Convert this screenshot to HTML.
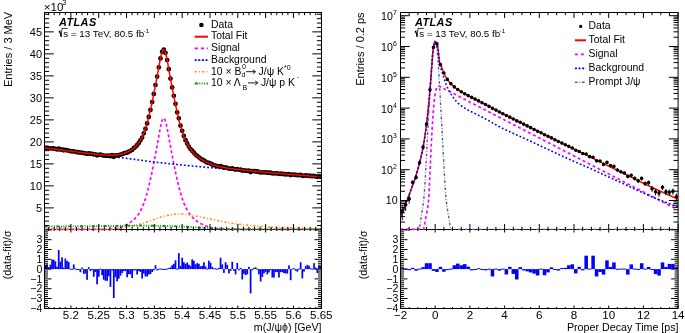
<!DOCTYPE html>
<html><head><meta charset="utf-8"><style>
html,body{margin:0;padding:0;background:#fff;}
body{width:685px;height:333px;position:relative;overflow:hidden;font-family:"Liberation Sans", sans-serif;}
</style></head><body>
<svg width="685" height="333" viewBox="0 0 685 333" style="position:absolute;left:0;top:0;will-change:transform"><defs><clipPath id="cL"><rect x="44.5" y="12.5" width="277.0" height="218.2"/></clipPath><clipPath id="cR"><rect x="400.5" y="12.5" width="277.6" height="218.2"/></clipPath><clipPath id="cLl"><rect x="44.5" y="229.5" width="277.0" height="79.0"/></clipPath><clipPath id="cRl"><rect x="400.5" y="229.5" width="277.6" height="79.0"/></clipPath></defs><g font-family='"Liberation Sans", sans-serif' fill="#000"><rect x="44.5" y="12.5" width="277" height="217" fill="none" stroke="#000" stroke-width="1"/><rect x="44.5" y="229.5" width="277" height="79" fill="none" stroke="#000" stroke-width="1"/><rect x="400.5" y="12.5" width="277.6" height="217" fill="none" stroke="#000" stroke-width="1"/><rect x="400.5" y="229.5" width="277.6" height="79" fill="none" stroke="#000" stroke-width="1"/><g clip-path="url(#cL)" fill="none"><path d="M44.5 229.4L44.73 229.4L44.96 229.4L45.19 229.4L45.42 229.4L45.66 229.4L45.89 229.4L46.12 229.4L46.35 229.4L46.58 229.4L46.81 229.4L47.04 229.4L47.27 229.4L47.5 229.4L47.73 229.4L47.97 229.4L48.2 229.4L48.43 229.4L48.66 229.4L48.89 229.4L49.12 229.4L49.35 229.4L49.58 229.4L49.81 229.4L50.04 229.4L50.28 229.4L50.51 229.4L50.74 229.4L50.97 229.4L51.2 229.4L51.43 229.4L51.66 229.4L51.89 229.4L52.12 229.4L52.35 229.4L52.59 229.4L52.82 229.4L53.05 229.4L53.28 229.4L53.51 229.4L53.74 229.4L53.97 229.4L54.2 229.4L54.43 229.4L54.67 229.4L54.9 229.4L55.13 229.4L55.36 229.4L55.59 229.4L55.82 229.4L56.05 229.4L56.28 229.4L56.51 229.4L56.74 229.4L56.98 229.4L57.21 229.4L57.44 229.4L57.67 229.4L57.9 229.4L58.13 229.4L58.36 229.4L58.59 229.4L58.82 229.4L59.05 229.4L59.29 229.4L59.52 229.4L59.75 229.4L59.98 229.4L60.21 229.4L60.44 229.4L60.67 229.4L60.9 229.4L61.13 229.4L61.36 229.4L61.6 229.4L61.83 229.4L62.06 229.4L62.29 229.4L62.52 229.4L62.75 229.4L62.98 229.4L63.21 229.4L63.44 229.4L63.68 229.4L63.91 229.4L64.14 229.4L64.37 229.4L64.6 229.4L64.83 229.4L65.06 229.4L65.29 229.4L65.52 229.4L65.75 229.4L65.99 229.4L66.22 229.4L66.45 229.4L66.68 229.4L66.91 229.4L67.14 229.4L67.37 229.4L67.6 229.4L67.83 229.4L68.06 229.4L68.3 229.4L68.53 229.4L68.76 229.4L68.99 229.4L69.22 229.4L69.45 229.4L69.68 229.4L69.91 229.4L70.14 229.4L70.37 229.4L70.61 229.4L70.84 229.4L71.07 229.4L71.3 229.4L71.53 229.4L71.76 229.4L71.99 229.4L72.22 229.4L72.45 229.4L72.69 229.4L72.92 229.4L73.15 229.4L73.38 229.4L73.61 229.4L73.84 229.4L74.07 229.4L74.3 229.4L74.53 229.4L74.76 229.4L75 229.4L75.23 229.4L75.46 229.4L75.69 229.4L75.92 229.4L76.15 229.4L76.38 229.4L76.61 229.4L76.84 229.4L77.07 229.4L77.31 229.4L77.54 229.4L77.77 229.4L78 229.4L78.23 229.4L78.46 229.4L78.69 229.4L78.92 229.4L79.15 229.4L79.38 229.4L79.62 229.4L79.85 229.4L80.08 229.4L80.31 229.4L80.54 229.4L80.77 229.4L81 229.4L81.23 229.4L81.46 229.4L81.7 229.4L81.93 229.4L82.16 229.4L82.39 229.4L82.62 229.4L82.85 229.4L83.08 229.4L83.31 229.4L83.54 229.4L83.77 229.4L84.01 229.4L84.24 229.4L84.47 229.4L84.7 229.4L84.93 229.4L85.16 229.4L85.39 229.4L85.62 229.4L85.85 229.4L86.08 229.4L86.32 229.4L86.55 229.4L86.78 229.4L87.01 229.4L87.24 229.4L87.47 229.4L87.7 229.4L87.93 229.4L88.16 229.4L88.39 229.4L88.63 229.4L88.86 229.4L89.09 229.4L89.32 229.4L89.55 229.4L89.78 229.4L90.01 229.4L90.24 229.4L90.47 229.4L90.71 229.4L90.94 229.4L91.17 229.4L91.4 229.4L91.63 229.4L91.86 229.4L92.09 229.4L92.32 229.4L92.55 229.4L92.78 229.4L93.02 229.4L93.25 229.4L93.48 229.4L93.71 229.4L93.94 229.4L94.17 229.4L94.4 229.4L94.63 229.4L94.86 229.4L95.09 229.4L95.33 229.4L95.56 229.4L95.79 229.4L96.02 229.4L96.25 229.4L96.48 229.4L96.71 229.4L96.94 229.4L97.17 229.4L97.4 229.4L97.64 229.4L97.87 229.4L98.1 229.4L98.33 229.4L98.56 229.4L98.79 229.4L99.02 229.4L99.25 229.4L99.48 229.4L99.72 229.4L99.95 229.4L100.18 229.4L100.41 229.4L100.64 229.4L100.87 229.4L101.1 229.4L101.33 229.4L101.56 229.4L101.79 229.4L102.03 229.4L102.26 229.4L102.49 229.4L102.72 229.4L102.95 229.4L103.18 229.4L103.41 229.4L103.64 229.4L103.87 229.4L104.1 229.4L104.34 229.4L104.57 229.4L104.8 229.4L105.03 229.4L105.26 229.4L105.49 229.4L105.72 229.4L105.95 229.4L106.18 229.4L106.41 229.4L106.65 229.4L106.88 229.4L107.11 229.39L107.34 229.37L107.57 229.36L107.8 229.34L108.03 229.32L108.26 229.3L108.49 229.28L108.73 229.26L108.96 229.24L109.19 229.22L109.42 229.2L109.65 229.17L109.88 229.15L110.11 229.13L110.34 229.1L110.57 229.08L110.8 229.05L111.04 229.02L111.27 228.99L111.5 228.97L111.73 228.94L111.96 228.91L112.19 228.88L112.42 228.84L112.65 228.81L112.88 228.78L113.11 228.75L113.35 228.71L113.58 228.67L113.81 228.64L114.04 228.6L114.27 228.56L114.5 228.52L114.73 228.48L114.96 228.44L115.19 228.4L115.42 228.35L115.66 228.31L115.89 228.26L116.12 228.22L116.35 228.17L116.58 228.12L116.81 228.07L117.04 228.02L117.27 227.97L117.5 227.91L117.74 227.86L117.97 227.8L118.2 227.75L118.43 227.69L118.66 227.63L118.89 227.57L119.12 227.5L119.35 227.44L119.58 227.38L119.81 227.31L120.05 227.24L120.28 227.17L120.51 227.1L120.74 227.03L120.97 226.96L121.2 226.88L121.43 226.8L121.66 226.72L121.89 226.64L122.12 226.56L122.36 226.48L122.59 226.4L122.82 226.31L123.05 226.22L123.28 226.13L123.51 226.04L123.74 225.95L123.97 225.85L124.2 225.75L124.43 225.65L124.67 225.55L124.9 225.45L125.13 225.35L125.36 225.24L125.59 225.13L125.82 225.02L126.05 224.91L126.28 224.8L126.51 224.68L126.75 224.56L126.98 224.44L127.21 224.32L127.44 224.19L127.67 224.06L127.9 223.93L128.13 223.8L128.36 223.67L128.59 223.53L128.82 223.39L129.06 223.25L129.29 223.1L129.52 222.95L129.75 222.8L129.98 222.65L130.21 222.5L130.44 222.34L130.67 222.17L130.9 222.01L131.13 221.84L131.37 221.67L131.6 221.49L131.83 221.32L132.06 221.13L132.29 220.95L132.52 220.76L132.75 220.57L132.98 220.37L133.21 220.17L133.44 219.96L133.68 219.75L133.91 219.54L134.14 219.32L134.37 219.1L134.6 218.87L134.83 218.63L135.06 218.4L135.29 218.15L135.52 217.9L135.76 217.65L135.99 217.38L136.22 217.12L136.45 216.84L136.68 216.56L136.91 216.28L137.14 215.98L137.37 215.68L137.6 215.37L137.83 215.05L138.07 214.73L138.3 214.4L138.53 214.05L138.76 213.7L138.99 213.34L139.22 212.98L139.45 212.6L139.68 212.21L139.91 211.81L140.14 211.41L140.38 210.99L140.61 210.56L140.84 210.12L141.07 209.66L141.3 209.2L141.53 208.72L141.76 208.24L141.99 207.73L142.22 207.22L142.45 206.69L142.69 206.15L142.92 205.6L143.15 205.03L143.38 204.45L143.61 203.85L143.84 203.24L144.07 202.62L144.3 201.97L144.53 201.32L144.77 200.65L145 199.96L145.23 199.26L145.46 198.54L145.69 197.81L145.92 197.06L146.15 196.29L146.38 195.51L146.61 194.71L146.84 193.9L147.08 193.07L147.31 192.22L147.54 191.36L147.77 190.48L148 189.59L148.23 188.68L148.46 187.76L148.69 186.82L148.92 185.87L149.15 184.91L149.39 183.93L149.62 182.94L149.85 181.93L150.08 180.91L150.31 179.88L150.54 178.84L150.77 177.79L151 176.72L151.23 175.65L151.46 174.56L151.7 173.47L151.93 172.37L152.16 171.26L152.39 170.14L152.62 169.02L152.85 167.88L153.08 166.74L153.31 165.6L153.54 164.44L153.78 163.28L154.01 162.12L154.24 160.95L154.47 159.77L154.7 158.58L154.93 157.39L155.16 156.19L155.39 154.99L155.62 153.77L155.85 152.55L156.09 151.32L156.32 150.08L156.55 148.83L156.78 147.58L157.01 146.31L157.24 145.03L157.47 143.75L157.7 142.46L157.93 141.16L158.16 139.86L158.4 138.55L158.63 137.25L158.86 135.95L159.09 134.65L159.32 133.36L159.55 132.09L159.78 130.83L160.01 129.6L160.24 128.4L160.47 127.23L160.71 126.11L160.94 125.03L161.17 124.01L161.4 123.05L161.63 122.16L161.86 121.35L162.09 120.61L162.32 119.96L162.55 119.4L162.79 118.94L163.02 118.58L163.25 118.32L163.48 118.16L163.71 118.11L163.94 118.17L164.17 118.34L164.4 118.6L164.63 118.97L164.86 119.44L165.1 120L165.33 120.66L165.56 121.4L165.79 122.22L166.02 123.11L166.25 124.07L166.48 125.09L166.71 126.16L166.94 127.29L167.17 128.45L167.41 129.65L167.64 130.87L167.87 132.12L168.1 133.39L168.33 134.67L168.56 135.96L168.79 137.25L169.02 138.55L169.25 139.85L169.48 141.14L169.72 142.43L169.95 143.71L170.18 144.98L170.41 146.24L170.64 147.5L170.87 148.74L171.1 149.98L171.33 151.21L171.56 152.42L171.8 153.63L172.03 154.83L172.26 156.03L172.49 157.21L172.72 158.39L172.95 159.56L173.18 160.72L173.41 161.88L173.64 163.03L173.87 164.18L174.11 165.31L174.34 166.45L174.57 167.57L174.8 168.69L175.03 169.8L175.26 170.9L175.49 172L175.72 173.08L175.95 174.16L176.18 175.23L176.42 176.28L176.65 177.33L176.88 178.37L177.11 179.39L177.34 180.41L177.57 181.41L177.8 182.4L178.03 183.38L178.26 184.34L178.49 185.29L178.73 186.22L178.96 187.14L179.19 188.05L179.42 188.94L179.65 189.82L179.88 190.68L180.11 191.52L180.34 192.35L180.57 193.17L180.81 193.96L181.04 194.75L181.27 195.51L181.5 196.26L181.73 197L181.96 197.72L182.19 198.42L182.42 199.11L182.65 199.78L182.88 200.44L183.12 201.08L183.35 201.71L183.58 202.32L183.81 202.92L184.04 203.51L184.27 204.08L184.5 204.63L184.73 205.18L184.96 205.7L185.19 206.22L185.43 206.72L185.66 207.21L185.89 207.69L186.12 208.16L186.35 208.61L186.58 209.06L186.81 209.49L187.04 209.91L187.27 210.32L187.51 210.72L187.74 211.11L187.97 211.49L188.2 211.86L188.43 212.22L188.66 212.58L188.89 212.92L189.12 213.26L189.35 213.58L189.58 213.9L189.82 214.22L190.05 214.52L190.28 214.82L190.51 215.11L190.74 215.39L190.97 215.67L191.2 215.94L191.43 216.21L191.66 216.47L191.89 216.72L192.13 216.97L192.36 217.22L192.59 217.45L192.82 217.69L193.05 217.92L193.28 218.14L193.51 218.36L193.74 218.57L193.97 218.79L194.2 218.99L194.44 219.2L194.67 219.4L194.9 219.59L195.13 219.78L195.36 219.97L195.59 220.16L195.82 220.34L196.05 220.52L196.28 220.69L196.52 220.87L196.75 221.04L196.98 221.2L197.21 221.37L197.44 221.53L197.67 221.69L197.9 221.84L198.13 222L198.36 222.15L198.59 222.3L198.83 222.45L199.06 222.59L199.29 222.73L199.52 222.87L199.75 223.01L199.98 223.14L200.21 223.28L200.44 223.41L200.67 223.54L200.9 223.66L201.14 223.79L201.37 223.91L201.6 224.03L201.83 224.15L202.06 224.27L202.29 224.39L202.52 224.5L202.75 224.61L202.98 224.72L203.21 224.83L203.45 224.94L203.68 225.04L203.91 225.14L204.14 225.24L204.37 225.34L204.6 225.44L204.83 225.54L205.06 225.63L205.29 225.73L205.53 225.82L205.76 225.91L205.99 226L206.22 226.08L206.45 226.17L206.68 226.25L206.91 226.34L207.14 226.42L207.37 226.5L207.6 226.57L207.84 226.65L208.07 226.73L208.3 226.8L208.53 226.87L208.76 226.94L208.99 227.01L209.22 227.08L209.45 227.15L209.68 227.22L209.91 227.28L210.15 227.34L210.38 227.41L210.61 227.47L210.84 227.53L211.07 227.59L211.3 227.64L211.53 227.7L211.76 227.75L211.99 227.81L212.22 227.86L212.46 227.91L212.69 227.96L212.92 228.01L213.15 228.06L213.38 228.11L213.61 228.16L213.84 228.2L214.07 228.25L214.3 228.29L214.54 228.33L214.77 228.37L215 228.42L215.23 228.46L215.46 228.49L215.69 228.53L215.92 228.57L216.15 228.61L216.38 228.64L216.61 228.68L216.85 228.71L217.08 228.74L217.31 228.77L217.54 228.81L217.77 228.84L218 228.87L218.23 228.9L218.46 228.93L218.69 228.95L218.92 228.98L219.16 229.01L219.39 229.03L219.62 229.06L219.85 229.08L220.08 229.11L220.31 229.13L220.54 229.15L220.77 229.17L221 229.2L221.23 229.22L221.47 229.24L221.7 229.26L221.93 229.28L222.16 229.3L222.39 229.31L222.62 229.33L222.85 229.35L223.08 229.37L223.31 229.38L223.55 229.4L223.78 229.4L224.01 229.4L224.24 229.4L224.47 229.4L224.7 229.4L224.93 229.4L225.16 229.4L225.39 229.4L225.62 229.4L225.86 229.4L226.09 229.4L226.32 229.4L226.55 229.4L226.78 229.4L227.01 229.4L227.24 229.4L227.47 229.4L227.7 229.4L227.93 229.4L228.17 229.4L228.4 229.4L228.63 229.4L228.86 229.4L229.09 229.4L229.32 229.4L229.55 229.4L229.78 229.4L230.01 229.4L230.24 229.4L230.48 229.4L230.71 229.4L230.94 229.4L231.17 229.4L231.4 229.4L231.63 229.4L231.86 229.4L232.09 229.4L232.32 229.4L232.56 229.4L232.79 229.4L233.02 229.4L233.25 229.4L233.48 229.4L233.71 229.4L233.94 229.4L234.17 229.4L234.4 229.4L234.63 229.4L234.87 229.4L235.1 229.4L235.33 229.4L235.56 229.4L235.79 229.4L236.02 229.4L236.25 229.4L236.48 229.4L236.71 229.4L236.94 229.4L237.18 229.4L237.41 229.4L237.64 229.4L237.87 229.4L238.1 229.4L238.33 229.4L238.56 229.4L238.79 229.4L239.02 229.4L239.25 229.4L239.49 229.4L239.72 229.4L239.95 229.4L240.18 229.4L240.41 229.4L240.64 229.4L240.87 229.4L241.1 229.4L241.33 229.4L241.57 229.4L241.8 229.4L242.03 229.4L242.26 229.4L242.49 229.4L242.72 229.4L242.95 229.4L243.18 229.4L243.41 229.4L243.64 229.4L243.88 229.4L244.11 229.4L244.34 229.4L244.57 229.4L244.8 229.4L245.03 229.4L245.26 229.4L245.49 229.4L245.72 229.4L245.95 229.4L246.19 229.4L246.42 229.4L246.65 229.4L246.88 229.4L247.11 229.4L247.34 229.4L247.57 229.4L247.8 229.4L248.03 229.4L248.26 229.4L248.5 229.4L248.73 229.4L248.96 229.4L249.19 229.4L249.42 229.4L249.65 229.4L249.88 229.4L250.11 229.4L250.34 229.4L250.58 229.4L250.81 229.4L251.04 229.4L251.27 229.4L251.5 229.4L251.73 229.4L251.96 229.4L252.19 229.4L252.42 229.4L252.65 229.4L252.89 229.4L253.12 229.4L253.35 229.4L253.58 229.4L253.81 229.4L254.04 229.4L254.27 229.4L254.5 229.4L254.73 229.4L254.96 229.4L255.2 229.4L255.43 229.4L255.66 229.4L255.89 229.4L256.12 229.4L256.35 229.4L256.58 229.4L256.81 229.4L257.04 229.4L257.27 229.4L257.51 229.4L257.74 229.4L257.97 229.4L258.2 229.4L258.43 229.4L258.66 229.4L258.89 229.4L259.12 229.4L259.35 229.4L259.59 229.4L259.82 229.4L260.05 229.4L260.28 229.4L260.51 229.4L260.74 229.4L260.97 229.4L261.2 229.4L261.43 229.4L261.66 229.4L261.9 229.4L262.13 229.4L262.36 229.4L262.59 229.4L262.82 229.4L263.05 229.4L263.28 229.4L263.51 229.4L263.74 229.4L263.97 229.4L264.21 229.4L264.44 229.4L264.67 229.4L264.9 229.4L265.13 229.4L265.36 229.4L265.59 229.4L265.82 229.4L266.05 229.4L266.28 229.4L266.52 229.4L266.75 229.4L266.98 229.4L267.21 229.4L267.44 229.4L267.67 229.4L267.9 229.4L268.13 229.4L268.36 229.4L268.6 229.4L268.83 229.4L269.06 229.4L269.29 229.4L269.52 229.4L269.75 229.4L269.98 229.4L270.21 229.4L270.44 229.4L270.67 229.4L270.91 229.4L271.14 229.4L271.37 229.4L271.6 229.4L271.83 229.4L272.06 229.4L272.29 229.4L272.52 229.4L272.75 229.4L272.98 229.4L273.22 229.4L273.45 229.4L273.68 229.4L273.91 229.4L274.14 229.4L274.37 229.4L274.6 229.4L274.83 229.4L275.06 229.4L275.29 229.4L275.53 229.4L275.76 229.4L275.99 229.4L276.22 229.4L276.45 229.4L276.68 229.4L276.91 229.4L277.14 229.4L277.37 229.4L277.61 229.4L277.84 229.4L278.07 229.4L278.3 229.4L278.53 229.4L278.76 229.4L278.99 229.4L279.22 229.4L279.45 229.4L279.68 229.4L279.92 229.4L280.15 229.4L280.38 229.4L280.61 229.4L280.84 229.4L281.07 229.4L281.3 229.4L281.53 229.4L281.76 229.4L281.99 229.4L282.23 229.4L282.46 229.4L282.69 229.4L282.92 229.4L283.15 229.4L283.38 229.4L283.61 229.4L283.84 229.4L284.07 229.4L284.3 229.4L284.54 229.4L284.77 229.4L285 229.4L285.23 229.4L285.46 229.4L285.69 229.4L285.92 229.4L286.15 229.4L286.38 229.4L286.62 229.4L286.85 229.4L287.08 229.4L287.31 229.4L287.54 229.4L287.77 229.4L288 229.4L288.23 229.4L288.46 229.4L288.69 229.4L288.93 229.4L289.16 229.4L289.39 229.4L289.62 229.4L289.85 229.4L290.08 229.4L290.31 229.4L290.54 229.4L290.77 229.4L291 229.4L291.24 229.4L291.47 229.4L291.7 229.4L291.93 229.4L292.16 229.4L292.39 229.4L292.62 229.4L292.85 229.4L293.08 229.4L293.31 229.4L293.55 229.4L293.78 229.4L294.01 229.4L294.24 229.4L294.47 229.4L294.7 229.4L294.93 229.4L295.16 229.4L295.39 229.4L295.63 229.4L295.86 229.4L296.09 229.4L296.32 229.4L296.55 229.4L296.78 229.4L297.01 229.4L297.24 229.4L297.47 229.4L297.7 229.4L297.94 229.4L298.17 229.4L298.4 229.4L298.63 229.4L298.86 229.4L299.09 229.4L299.32 229.4L299.55 229.4L299.78 229.4L300.01 229.4L300.25 229.4L300.48 229.4L300.71 229.4L300.94 229.4L301.17 229.4L301.4 229.4L301.63 229.4L301.86 229.4L302.09 229.4L302.32 229.4L302.56 229.4L302.79 229.4L303.02 229.4L303.25 229.4L303.48 229.4L303.71 229.4L303.94 229.4L304.17 229.4L304.4 229.4L304.64 229.4L304.87 229.4L305.1 229.4L305.33 229.4L305.56 229.4L305.79 229.4L306.02 229.4L306.25 229.4L306.48 229.4L306.71 229.4L306.95 229.4L307.18 229.4L307.41 229.4L307.64 229.4L307.87 229.4L308.1 229.4L308.33 229.4L308.56 229.4L308.79 229.4L309.02 229.4L309.26 229.4L309.49 229.4L309.72 229.4L309.95 229.4L310.18 229.4L310.41 229.4L310.64 229.4L310.87 229.4L311.1 229.4L311.33 229.4L311.57 229.4L311.8 229.4L312.03 229.4L312.26 229.4L312.49 229.4L312.72 229.4L312.95 229.4L313.18 229.4L313.41 229.4L313.65 229.4L313.88 229.4L314.11 229.4L314.34 229.4L314.57 229.4L314.8 229.4L315.03 229.4L315.26 229.4L315.49 229.4L315.72 229.4L315.96 229.4L316.19 229.4L316.42 229.4L316.65 229.4L316.88 229.4L317.11 229.4L317.34 229.4L317.57 229.4L317.8 229.4L318.03 229.4L318.27 229.4L318.5 229.4L318.73 229.4L318.96 229.4L319.19 229.4L319.42 229.4L319.65 229.4L319.88 229.4L320.11 229.4L320.34 229.4L320.58 229.4L320.81 229.4L321.04 229.4L321.27 229.4L321.5 229.4" stroke="#ff00ff" stroke-width="1.7" stroke-dasharray="3 2.4"/><path d="M44.5 148.26L44.96 148.32L45.42 148.38L45.89 148.44L46.35 148.5L46.81 148.56L47.27 148.62L47.74 148.68L48.2 148.74L48.66 148.8L49.12 148.86L49.59 148.92L50.05 148.98L50.51 149.04L50.97 149.1L51.44 149.16L51.9 149.22L52.36 149.28L52.82 149.33L53.29 149.39L53.75 149.45L54.21 149.51L54.67 149.57L55.14 149.63L55.6 149.69L56.06 149.75L56.52 149.81L56.99 149.87L57.45 149.93L57.91 149.99L58.37 150.04L58.84 150.1L59.3 150.16L59.76 150.22L60.22 150.28L60.69 150.34L61.15 150.4L61.61 150.46L62.07 150.52L62.54 150.57L63 150.63L63.46 150.69L63.92 150.75L64.38 150.81L64.85 150.87L65.31 150.93L65.77 150.98L66.23 151.04L66.7 151.1L67.16 151.16L67.62 151.22L68.08 151.28L68.55 151.33L69.01 151.39L69.47 151.45L69.93 151.51L70.4 151.57L70.86 151.62L71.32 151.68L71.78 151.74L72.25 151.8L72.71 151.86L73.17 151.91L73.63 151.97L74.1 152.03L74.56 152.09L75.02 152.15L75.48 152.2L75.95 152.26L76.41 152.32L76.87 152.38L77.33 152.43L77.8 152.49L78.26 152.55L78.72 152.61L79.18 152.66L79.65 152.72L80.11 152.78L80.57 152.84L81.03 152.89L81.49 152.95L81.96 153.01L82.42 153.07L82.88 153.12L83.34 153.18L83.81 153.24L84.27 153.29L84.73 153.35L85.19 153.41L85.66 153.46L86.12 153.52L86.58 153.58L87.04 153.64L87.51 153.69L87.97 153.75L88.43 153.81L88.89 153.86L89.36 153.92L89.82 153.98L90.28 154.03L90.74 154.09L91.21 154.15L91.67 154.2L92.13 154.26L92.59 154.32L93.06 154.37L93.52 154.43L93.98 154.48L94.44 154.54L94.91 154.6L95.37 154.65L95.83 154.71L96.29 154.77L96.76 154.82L97.22 154.88L97.68 154.93L98.14 154.99L98.61 155.05L99.07 155.1L99.53 155.16L99.99 155.21L100.45 155.27L100.92 155.33L101.38 155.38L101.84 155.44L102.3 155.49L102.77 155.55L103.23 155.6L103.69 155.66L104.15 155.71L104.62 155.77L105.08 155.82L105.54 155.87L106 155.93L106.47 155.98L106.93 156.04L107.39 156.09L107.85 156.14L108.32 156.2L108.78 156.25L109.24 156.3L109.7 156.36L110.17 156.41L110.63 156.47L111.09 156.52L111.55 156.57L112.02 156.63L112.48 156.68L112.94 156.73L113.4 156.79L113.87 156.84L114.33 156.89L114.79 156.95L115.25 157L115.72 157.06L116.18 157.11L116.64 157.16L117.1 157.22L117.57 157.27L118.03 157.33L118.49 157.38L118.95 157.43L119.41 157.49L119.88 157.54L120.34 157.6L120.8 157.65L121.26 157.71L121.73 157.76L122.19 157.82L122.65 157.87L123.11 157.93L123.58 157.98L124.04 158.04L124.5 158.1L124.96 158.15L125.43 158.21L125.89 158.27L126.35 158.32L126.81 158.38L127.28 158.44L127.74 158.5L128.2 158.55L128.66 158.61L129.13 158.67L129.59 158.73L130.05 158.79L130.51 158.85L130.98 158.91L131.44 158.97L131.9 159.03L132.36 159.09L132.83 159.15L133.29 159.21L133.75 159.28L134.21 159.34L134.68 159.4L135.14 159.47L135.6 159.53L136.06 159.6L136.53 159.66L136.99 159.73L137.45 159.79L137.91 159.86L138.37 159.92L138.84 159.99L139.3 160.06L139.76 160.12L140.22 160.19L140.69 160.25L141.15 160.32L141.61 160.38L142.07 160.45L142.54 160.51L143 160.58L143.46 160.64L143.92 160.71L144.39 160.77L144.85 160.84L145.31 160.9L145.77 160.96L146.24 161.02L146.7 161.08L147.16 161.15L147.62 161.21L148.09 161.27L148.55 161.33L149.01 161.39L149.47 161.44L149.94 161.5L150.4 161.56L150.86 161.61L151.32 161.67L151.79 161.73L152.25 161.78L152.71 161.84L153.17 161.89L153.64 161.95L154.1 162L154.56 162.06L155.02 162.11L155.48 162.17L155.95 162.22L156.41 162.27L156.87 162.33L157.33 162.38L157.8 162.44L158.26 162.49L158.72 162.54L159.18 162.59L159.65 162.65L160.11 162.7L160.57 162.75L161.03 162.8L161.5 162.85L161.96 162.91L162.42 162.96L162.88 163.01L163.35 163.06L163.81 163.11L164.27 163.16L164.73 163.21L165.2 163.26L165.66 163.31L166.12 163.36L166.58 163.41L167.05 163.46L167.51 163.51L167.97 163.56L168.43 163.61L168.9 163.66L169.36 163.71L169.82 163.76L170.28 163.81L170.75 163.86L171.21 163.9L171.67 163.95L172.13 164L172.6 164.05L173.06 164.1L173.52 164.15L173.98 164.19L174.44 164.24L174.91 164.29L175.37 164.34L175.83 164.38L176.29 164.43L176.76 164.48L177.22 164.53L177.68 164.57L178.14 164.62L178.61 164.67L179.07 164.71L179.53 164.76L179.99 164.81L180.46 164.86L180.92 164.9L181.38 164.95L181.84 164.99L182.31 165.04L182.77 165.09L183.23 165.13L183.69 165.18L184.16 165.22L184.62 165.27L185.08 165.31L185.54 165.36L186.01 165.4L186.47 165.45L186.93 165.49L187.39 165.54L187.86 165.58L188.32 165.62L188.78 165.67L189.24 165.71L189.71 165.75L190.17 165.8L190.63 165.84L191.09 165.88L191.56 165.93L192.02 165.97L192.48 166.01L192.94 166.06L193.4 166.1L193.87 166.14L194.33 166.18L194.79 166.23L195.25 166.27L195.72 166.31L196.18 166.35L196.64 166.4L197.1 166.44L197.57 166.48L198.03 166.52L198.49 166.56L198.95 166.61L199.42 166.65L199.88 166.69L200.34 166.73L200.8 166.77L201.27 166.82L201.73 166.86L202.19 166.9L202.65 166.94L203.12 166.98L203.58 167.02L204.04 167.07L204.5 167.11L204.97 167.15L205.43 167.19L205.89 167.23L206.35 167.27L206.82 167.32L207.28 167.36L207.74 167.4L208.2 167.44L208.67 167.48L209.13 167.52L209.59 167.57L210.05 167.61L210.52 167.65L210.98 167.69L211.44 167.73L211.9 167.77L212.36 167.82L212.83 167.86L213.29 167.9L213.75 167.94L214.21 167.98L214.68 168.03L215.14 168.07L215.6 168.11L216.06 168.15L216.53 168.2L216.99 168.24L217.45 168.28L217.91 168.32L218.38 168.37L218.84 168.41L219.3 168.45L219.76 168.5L220.23 168.54L220.69 168.58L221.15 168.62L221.61 168.67L222.08 168.71L222.54 168.75L223 168.8L223.46 168.84L223.93 168.88L224.39 168.93L224.85 168.97L225.31 169.01L225.78 169.06L226.24 169.1L226.7 169.14L227.16 169.19L227.63 169.23L228.09 169.27L228.55 169.32L229.01 169.36L229.47 169.4L229.94 169.45L230.4 169.49L230.86 169.53L231.32 169.58L231.79 169.62L232.25 169.66L232.71 169.71L233.17 169.75L233.64 169.79L234.1 169.84L234.56 169.88L235.02 169.92L235.49 169.97L235.95 170.01L236.41 170.05L236.87 170.09L237.34 170.14L237.8 170.18L238.26 170.22L238.72 170.27L239.19 170.31L239.65 170.35L240.11 170.39L240.57 170.44L241.04 170.48L241.5 170.52L241.96 170.56L242.42 170.6L242.89 170.65L243.35 170.69L243.81 170.73L244.27 170.77L244.74 170.81L245.2 170.85L245.66 170.9L246.12 170.94L246.59 170.98L247.05 171.02L247.51 171.06L247.97 171.1L248.43 171.14L248.9 171.18L249.36 171.22L249.82 171.26L250.28 171.3L250.75 171.34L251.21 171.38L251.67 171.42L252.13 171.46L252.6 171.5L253.06 171.54L253.52 171.58L253.98 171.62L254.45 171.66L254.91 171.7L255.37 171.74L255.83 171.78L256.3 171.82L256.76 171.86L257.22 171.9L257.68 171.94L258.15 171.98L258.61 172.02L259.07 172.06L259.53 172.1L260 172.14L260.46 172.18L260.92 172.22L261.38 172.26L261.85 172.3L262.31 172.33L262.77 172.37L263.23 172.41L263.7 172.45L264.16 172.49L264.62 172.53L265.08 172.57L265.55 172.61L266.01 172.65L266.47 172.68L266.93 172.72L267.39 172.76L267.86 172.8L268.32 172.84L268.78 172.88L269.24 172.92L269.71 172.95L270.17 172.99L270.63 173.03L271.09 173.07L271.56 173.11L272.02 173.15L272.48 173.18L272.94 173.22L273.41 173.26L273.87 173.3L274.33 173.34L274.79 173.37L275.26 173.41L275.72 173.45L276.18 173.49L276.64 173.52L277.11 173.56L277.57 173.6L278.03 173.64L278.49 173.67L278.96 173.71L279.42 173.75L279.88 173.79L280.34 173.82L280.81 173.86L281.27 173.9L281.73 173.94L282.19 173.97L282.66 174.01L283.12 174.05L283.58 174.08L284.04 174.12L284.51 174.16L284.97 174.2L285.43 174.23L285.89 174.27L286.35 174.31L286.82 174.34L287.28 174.38L287.74 174.42L288.2 174.45L288.67 174.49L289.13 174.53L289.59 174.56L290.05 174.6L290.52 174.64L290.98 174.67L291.44 174.71L291.9 174.74L292.37 174.78L292.83 174.82L293.29 174.85L293.75 174.89L294.22 174.92L294.68 174.96L295.14 175L295.6 175.03L296.07 175.07L296.53 175.1L296.99 175.14L297.45 175.18L297.92 175.21L298.38 175.25L298.84 175.28L299.3 175.32L299.77 175.35L300.23 175.39L300.69 175.42L301.15 175.46L301.62 175.49L302.08 175.53L302.54 175.56L303 175.6L303.46 175.63L303.93 175.67L304.39 175.7L304.85 175.74L305.31 175.77L305.78 175.81L306.24 175.84L306.7 175.88L307.16 175.91L307.63 175.95L308.09 175.98L308.55 176.02L309.01 176.05L309.48 176.09L309.94 176.12L310.4 176.15L310.86 176.19L311.33 176.22L311.79 176.26L312.25 176.29L312.71 176.33L313.18 176.36L313.64 176.39L314.1 176.43L314.56 176.46L315.03 176.5L315.49 176.53L315.95 176.56L316.41 176.6L316.88 176.63L317.34 176.66L317.8 176.7L318.26 176.73L318.73 176.76L319.19 176.8L319.65 176.83L320.11 176.86L320.58 176.9L321.04 176.93L321.5 176.96" stroke="#0000ff" stroke-width="1.6" stroke-dasharray="1.8 2.1"/><path d="M44.5 229.4L44.96 229.4L45.42 229.4L45.89 229.4L46.35 229.4L46.81 229.4L47.27 229.4L47.74 229.4L48.2 229.4L48.66 229.4L49.12 229.4L49.59 229.4L50.05 229.4L50.51 229.4L50.97 229.4L51.44 229.4L51.9 229.4L52.36 229.4L52.82 229.4L53.29 229.4L53.75 229.4L54.21 229.4L54.67 229.4L55.14 229.4L55.6 229.4L56.06 229.4L56.52 229.4L56.99 229.4L57.45 229.4L57.91 229.4L58.37 229.4L58.84 229.4L59.3 229.4L59.76 229.4L60.22 229.4L60.69 229.4L61.15 229.4L61.61 229.4L62.07 229.4L62.54 229.4L63 229.4L63.46 229.4L63.92 229.4L64.38 229.4L64.85 229.4L65.31 229.4L65.77 229.4L66.23 229.4L66.7 229.4L67.16 229.4L67.62 229.4L68.08 229.4L68.55 229.4L69.01 229.4L69.47 229.4L69.93 229.4L70.4 229.4L70.86 229.4L71.32 229.4L71.78 229.4L72.25 229.4L72.71 229.4L73.17 229.4L73.63 229.4L74.1 229.4L74.56 229.4L75.02 229.4L75.48 229.4L75.95 229.4L76.41 229.4L76.87 229.4L77.33 229.4L77.8 229.4L78.26 229.4L78.72 229.4L79.18 229.4L79.65 229.4L80.11 229.4L80.57 229.4L81.03 229.4L81.49 229.4L81.96 229.4L82.42 229.4L82.88 229.4L83.34 229.4L83.81 229.4L84.27 229.4L84.73 229.4L85.19 229.4L85.66 229.4L86.12 229.4L86.58 229.4L87.04 229.4L87.51 229.4L87.97 229.4L88.43 229.4L88.89 229.4L89.36 229.4L89.82 229.4L90.28 229.4L90.74 229.4L91.21 229.4L91.67 229.4L92.13 229.4L92.59 229.4L93.06 229.4L93.52 229.4L93.98 229.4L94.44 229.4L94.91 229.4L95.37 229.4L95.83 229.4L96.29 229.4L96.76 229.4L97.22 229.4L97.68 229.4L98.14 229.4L98.61 229.4L99.07 229.4L99.53 229.4L99.99 229.4L100.45 229.4L100.92 229.4L101.38 229.4L101.84 229.4L102.3 229.4L102.77 229.4L103.23 229.4L103.69 229.4L104.15 229.4L104.62 229.4L105.08 229.4L105.54 229.4L106 229.4L106.47 229.4L106.93 229.4L107.39 229.4L107.85 229.4L108.32 229.4L108.78 229.38L109.24 229.35L109.7 229.32L110.17 229.29L110.63 229.26L111.09 229.23L111.55 229.19L112.02 229.16L112.48 229.12L112.94 229.08L113.4 229.04L113.87 229L114.33 228.95L114.79 228.91L115.25 228.86L115.72 228.82L116.18 228.77L116.64 228.72L117.1 228.67L117.57 228.63L118.03 228.58L118.49 228.52L118.95 228.46L119.41 228.39L119.88 228.31L120.34 228.23L120.8 228.15L121.26 228.05L121.73 227.96L122.19 227.87L122.65 227.77L123.11 227.68L123.58 227.58L124.04 227.49L124.5 227.4L124.96 227.31L125.43 227.23L125.89 227.14L126.35 227.06L126.81 226.98L127.28 226.9L127.74 226.81L128.2 226.73L128.66 226.65L129.13 226.56L129.59 226.48L130.05 226.39L130.51 226.3L130.98 226.21L131.44 226.11L131.9 226.02L132.36 225.92L132.83 225.82L133.29 225.72L133.75 225.62L134.21 225.52L134.68 225.42L135.14 225.31L135.6 225.21L136.06 225.1L136.53 224.99L136.99 224.89L137.45 224.78L137.91 224.67L138.37 224.56L138.84 224.45L139.3 224.34L139.76 224.23L140.22 224.12L140.69 224L141.15 223.88L141.61 223.76L142.07 223.64L142.54 223.52L143 223.39L143.46 223.25L143.92 223.12L144.39 222.98L144.85 222.83L145.31 222.68L145.77 222.53L146.24 222.38L146.7 222.22L147.16 222.07L147.62 221.91L148.09 221.74L148.55 221.58L149.01 221.42L149.47 221.26L149.94 221.09L150.4 220.91L150.86 220.74L151.32 220.56L151.79 220.37L152.25 220.19L152.71 220L153.17 219.82L153.64 219.64L154.1 219.45L154.56 219.27L155.02 219.1L155.48 218.92L155.95 218.76L156.41 218.6L156.87 218.44L157.33 218.28L157.8 218.12L158.26 217.96L158.72 217.81L159.18 217.66L159.65 217.51L160.11 217.36L160.57 217.21L161.03 217.07L161.5 216.93L161.96 216.8L162.42 216.67L162.88 216.54L163.35 216.42L163.81 216.3L164.27 216.18L164.73 216.06L165.2 215.95L165.66 215.83L166.12 215.72L166.58 215.61L167.05 215.51L167.51 215.4L167.97 215.3L168.43 215.21L168.9 215.12L169.36 215.03L169.82 214.95L170.28 214.87L170.75 214.8L171.21 214.73L171.67 214.66L172.13 214.58L172.6 214.51L173.06 214.44L173.52 214.37L173.98 214.31L174.44 214.25L174.91 214.19L175.37 214.14L175.83 214.1L176.29 214.06L176.76 214.04L177.22 214.02L177.68 214.01L178.14 214.01L178.61 214.02L179.07 214.03L179.53 214.05L179.99 214.07L180.46 214.09L180.92 214.11L181.38 214.14L181.84 214.17L182.31 214.2L182.77 214.23L183.23 214.26L183.69 214.3L184.16 214.33L184.62 214.37L185.08 214.4L185.54 214.43L186.01 214.47L186.47 214.52L186.93 214.56L187.39 214.61L187.86 214.66L188.32 214.72L188.78 214.78L189.24 214.84L189.71 214.9L190.17 214.96L190.63 215.02L191.09 215.09L191.56 215.16L192.02 215.24L192.48 215.31L192.94 215.39L193.4 215.48L193.87 215.56L194.33 215.65L194.79 215.73L195.25 215.82L195.72 215.92L196.18 216.01L196.64 216.11L197.1 216.2L197.57 216.3L198.03 216.4L198.49 216.5L198.95 216.6L199.42 216.71L199.88 216.81L200.34 216.91L200.8 217.02L201.27 217.12L201.73 217.23L202.19 217.33L202.65 217.44L203.12 217.55L203.58 217.65L204.04 217.76L204.5 217.86L204.97 217.97L205.43 218.07L205.89 218.17L206.35 218.27L206.82 218.38L207.28 218.48L207.74 218.57L208.2 218.67L208.67 218.77L209.13 218.86L209.59 218.96L210.05 219.05L210.52 219.14L210.98 219.24L211.44 219.33L211.9 219.43L212.36 219.53L212.83 219.62L213.29 219.72L213.75 219.82L214.21 219.91L214.68 220.01L215.14 220.11L215.6 220.21L216.06 220.3L216.53 220.4L216.99 220.5L217.45 220.6L217.91 220.69L218.38 220.79L218.84 220.88L219.3 220.98L219.76 221.07L220.23 221.17L220.69 221.26L221.15 221.35L221.61 221.45L222.08 221.54L222.54 221.63L223 221.72L223.46 221.8L223.93 221.89L224.39 221.98L224.85 222.06L225.31 222.15L225.78 222.23L226.24 222.31L226.7 222.39L227.16 222.47L227.63 222.54L228.09 222.62L228.55 222.69L229.01 222.76L229.47 222.83L229.94 222.9L230.4 222.98L230.86 223.04L231.32 223.11L231.79 223.18L232.25 223.25L232.71 223.32L233.17 223.39L233.64 223.45L234.1 223.52L234.56 223.58L235.02 223.65L235.49 223.71L235.95 223.77L236.41 223.84L236.87 223.9L237.34 223.96L237.8 224.02L238.26 224.08L238.72 224.14L239.19 224.2L239.65 224.26L240.11 224.32L240.57 224.37L241.04 224.43L241.5 224.49L241.96 224.54L242.42 224.6L242.89 224.65L243.35 224.71L243.81 224.76L244.27 224.81L244.74 224.86L245.2 224.91L245.66 224.96L246.12 225.01L246.59 225.06L247.05 225.11L247.51 225.16L247.97 225.21L248.43 225.26L248.9 225.3L249.36 225.35L249.82 225.4L250.28 225.44L250.75 225.49L251.21 225.53L251.67 225.58L252.13 225.62L252.6 225.67L253.06 225.71L253.52 225.76L253.98 225.8L254.45 225.84L254.91 225.89L255.37 225.93L255.83 225.97L256.3 226.01L256.76 226.05L257.22 226.09L257.68 226.13L258.15 226.17L258.61 226.21L259.07 226.25L259.53 226.29L260 226.33L260.46 226.36L260.92 226.4L261.38 226.44L261.85 226.47L262.31 226.51L262.77 226.54L263.23 226.57L263.7 226.61L264.16 226.64L264.62 226.67L265.08 226.7L265.55 226.73L266.01 226.76L266.47 226.79L266.93 226.82L267.39 226.84L267.86 226.87L268.32 226.9L268.78 226.92L269.24 226.95L269.71 226.97L270.17 227L270.63 227.02L271.09 227.04L271.56 227.07L272.02 227.09L272.48 227.11L272.94 227.13L273.41 227.15L273.87 227.18L274.33 227.2L274.79 227.22L275.26 227.24L275.72 227.26L276.18 227.28L276.64 227.3L277.11 227.32L277.57 227.34L278.03 227.36L278.49 227.38L278.96 227.4L279.42 227.41L279.88 227.43L280.34 227.45L280.81 227.47L281.27 227.49L281.73 227.51L282.19 227.53L282.66 227.55L283.12 227.57L283.58 227.58L284.04 227.6L284.51 227.62L284.97 227.64L285.43 227.66L285.89 227.68L286.35 227.7L286.82 227.72L287.28 227.74L287.74 227.76L288.2 227.78L288.67 227.8L289.13 227.82L289.59 227.84L290.05 227.86L290.52 227.88L290.98 227.9L291.44 227.92L291.9 227.94L292.37 227.96L292.83 227.98L293.29 228L293.75 228.01L294.22 228.03L294.68 228.05L295.14 228.07L295.6 228.09L296.07 228.11L296.53 228.13L296.99 228.15L297.45 228.17L297.92 228.19L298.38 228.2L298.84 228.22L299.3 228.24L299.77 228.26L300.23 228.28L300.69 228.3L301.15 228.32L301.62 228.33L302.08 228.35L302.54 228.37L303 228.39L303.46 228.41L303.93 228.43L304.39 228.44L304.85 228.46L305.31 228.48L305.78 228.5L306.24 228.52L306.7 228.53L307.16 228.55L307.63 228.57L308.09 228.59L308.55 228.61L309.01 228.62L309.48 228.64L309.94 228.66L310.4 228.68L310.86 228.7L311.33 228.71L311.79 228.73L312.25 228.75L312.71 228.77L313.18 228.78L313.64 228.8L314.1 228.82L314.56 228.83L315.03 228.85L315.49 228.87L315.95 228.89L316.41 228.9L316.88 228.92L317.34 228.94L317.8 228.96L318.26 228.97L318.73 228.99L319.19 229.01L319.65 229.02L320.11 229.04L320.58 229.06L321.04 229.07L321.5 229.09" stroke="#ff9c1a" stroke-width="1.6" stroke-dasharray="2.3 1.9 1.1 2.0"/><path d="M44.5 226.6L44.96 226.6L45.42 226.59L45.89 226.59L46.35 226.59L46.81 226.58L47.27 226.58L47.74 226.58L48.2 226.57L48.66 226.57L49.12 226.56L49.59 226.56L50.05 226.56L50.51 226.55L50.97 226.55L51.44 226.55L51.9 226.54L52.36 226.54L52.82 226.53L53.29 226.53L53.75 226.53L54.21 226.52L54.67 226.52L55.14 226.52L55.6 226.51L56.06 226.51L56.52 226.5L56.99 226.5L57.45 226.5L57.91 226.49L58.37 226.49L58.84 226.49L59.3 226.48L59.76 226.48L60.22 226.47L60.69 226.47L61.15 226.47L61.61 226.46L62.07 226.46L62.54 226.45L63 226.45L63.46 226.45L63.92 226.44L64.38 226.44L64.85 226.43L65.31 226.43L65.77 226.43L66.23 226.42L66.7 226.42L67.16 226.41L67.62 226.41L68.08 226.41L68.55 226.4L69.01 226.4L69.47 226.39L69.93 226.39L70.4 226.39L70.86 226.38L71.32 226.38L71.78 226.37L72.25 226.37L72.71 226.37L73.17 226.36L73.63 226.36L74.1 226.35L74.56 226.35L75.02 226.35L75.48 226.34L75.95 226.34L76.41 226.33L76.87 226.33L77.33 226.32L77.8 226.32L78.26 226.32L78.72 226.31L79.18 226.31L79.65 226.3L80.11 226.3L80.57 226.29L81.03 226.29L81.49 226.29L81.96 226.28L82.42 226.28L82.88 226.27L83.34 226.27L83.81 226.27L84.27 226.26L84.73 226.26L85.19 226.25L85.66 226.25L86.12 226.24L86.58 226.24L87.04 226.24L87.51 226.23L87.97 226.23L88.43 226.22L88.89 226.22L89.36 226.21L89.82 226.21L90.28 226.21L90.74 226.2L91.21 226.2L91.67 226.19L92.13 226.19L92.59 226.18L93.06 226.18L93.52 226.18L93.98 226.17L94.44 226.17L94.91 226.16L95.37 226.16L95.83 226.15L96.29 226.15L96.76 226.15L97.22 226.14L97.68 226.14L98.14 226.13L98.61 226.13L99.07 226.12L99.53 226.12L99.99 226.11L100.45 226.11L100.92 226.1L101.38 226.1L101.84 226.09L102.3 226.09L102.77 226.08L103.23 226.08L103.69 226.07L104.15 226.07L104.62 226.06L105.08 226.06L105.54 226.05L106 226.05L106.47 226.04L106.93 226.04L107.39 226.03L107.85 226.03L108.32 226.02L108.78 226.01L109.24 226.01L109.7 226L110.17 226L110.63 225.99L111.09 225.99L111.55 225.98L112.02 225.97L112.48 225.96L112.94 225.96L113.4 225.95L113.87 225.94L114.33 225.93L114.79 225.92L115.25 225.91L115.72 225.9L116.18 225.9L116.64 225.89L117.1 225.88L117.57 225.87L118.03 225.86L118.49 225.85L118.95 225.84L119.41 225.83L119.88 225.82L120.34 225.81L120.8 225.8L121.26 225.79L121.73 225.78L122.19 225.77L122.65 225.76L123.11 225.75L123.58 225.74L124.04 225.73L124.5 225.72L124.96 225.71L125.43 225.7L125.89 225.69L126.35 225.69L126.81 225.68L127.28 225.67L127.74 225.66L128.2 225.66L128.66 225.65L129.13 225.64L129.59 225.64L130.05 225.63L130.51 225.63L130.98 225.62L131.44 225.62L131.9 225.61L132.36 225.61L132.83 225.61L133.29 225.6L133.75 225.6L134.21 225.6L134.68 225.6L135.14 225.6L135.6 225.6L136.06 225.6L136.53 225.6L136.99 225.6L137.45 225.6L137.91 225.61L138.37 225.61L138.84 225.61L139.3 225.61L139.76 225.62L140.22 225.62L140.69 225.62L141.15 225.63L141.61 225.63L142.07 225.63L142.54 225.64L143 225.64L143.46 225.65L143.92 225.65L144.39 225.66L144.85 225.66L145.31 225.67L145.77 225.67L146.24 225.68L146.7 225.68L147.16 225.69L147.62 225.7L148.09 225.7L148.55 225.71L149.01 225.72L149.47 225.72L149.94 225.73L150.4 225.74L150.86 225.75L151.32 225.75L151.79 225.76L152.25 225.77L152.71 225.77L153.17 225.78L153.64 225.79L154.1 225.8L154.56 225.81L155.02 225.81L155.48 225.82L155.95 225.83L156.41 225.84L156.87 225.85L157.33 225.85L157.8 225.86L158.26 225.87L158.72 225.88L159.18 225.89L159.65 225.89L160.11 225.9L160.57 225.91L161.03 225.92L161.5 225.93L161.96 225.94L162.42 225.95L162.88 225.96L163.35 225.97L163.81 225.98L164.27 225.99L164.73 226L165.2 226.01L165.66 226.02L166.12 226.03L166.58 226.04L167.05 226.05L167.51 226.07L167.97 226.08L168.43 226.09L168.9 226.1L169.36 226.12L169.82 226.13L170.28 226.14L170.75 226.16L171.21 226.17L171.67 226.19L172.13 226.2L172.6 226.22L173.06 226.23L173.52 226.25L173.98 226.26L174.44 226.28L174.91 226.29L175.37 226.31L175.83 226.33L176.29 226.34L176.76 226.36L177.22 226.37L177.68 226.39L178.14 226.41L178.61 226.43L179.07 226.44L179.53 226.46L179.99 226.48L180.46 226.5L180.92 226.52L181.38 226.53L181.84 226.55L182.31 226.57L182.77 226.59L183.23 226.61L183.69 226.63L184.16 226.65L184.62 226.67L185.08 226.69L185.54 226.7L186.01 226.72L186.47 226.74L186.93 226.76L187.39 226.78L187.86 226.8L188.32 226.82L188.78 226.85L189.24 226.87L189.71 226.89L190.17 226.91L190.63 226.93L191.09 226.95L191.56 226.98L192.02 227L192.48 227.03L192.94 227.05L193.4 227.08L193.87 227.11L194.33 227.14L194.79 227.17L195.25 227.2L195.72 227.23L196.18 227.26L196.64 227.29L197.1 227.32L197.57 227.35L198.03 227.39L198.49 227.42L198.95 227.45L199.42 227.49L199.88 227.52L200.34 227.55L200.8 227.59L201.27 227.62L201.73 227.66L202.19 227.69L202.65 227.72L203.12 227.76L203.58 227.79L204.04 227.82L204.5 227.86L204.97 227.89L205.43 227.92L205.89 227.95L206.35 227.98L206.82 228.01L207.28 228.04L207.74 228.07L208.2 228.1L208.67 228.13L209.13 228.15L209.59 228.18L210.05 228.2L210.52 228.23L210.98 228.25L211.44 228.28L211.9 228.3L212.36 228.33L212.83 228.35L213.29 228.38L213.75 228.4L214.21 228.43L214.68 228.45L215.14 228.47L215.6 228.5L216.06 228.52L216.53 228.55L216.99 228.57L217.45 228.59L217.91 228.62L218.38 228.64L218.84 228.66L219.3 228.69L219.76 228.71L220.23 228.73L220.69 228.75L221.15 228.77L221.61 228.8L222.08 228.82L222.54 228.84L223 228.86L223.46 228.88L223.93 228.9L224.39 228.91L224.85 228.93L225.31 228.95L225.78 228.97L226.24 228.98L226.7 229L227.16 229.02L227.63 229.03L228.09 229.05L228.55 229.06L229.01 229.07L229.47 229.09L229.94 229.1L230.4 229.11L230.86 229.12L231.32 229.13L231.79 229.14L232.25 229.16L232.71 229.17L233.17 229.18L233.64 229.19L234.1 229.2L234.56 229.21L235.02 229.22L235.49 229.23L235.95 229.24L236.41 229.25L236.87 229.26L237.34 229.27L237.8 229.28L238.26 229.29L238.72 229.3L239.19 229.31L239.65 229.32L240.11 229.33L240.57 229.34L241.04 229.35L241.5 229.36L241.96 229.37L242.42 229.38L242.89 229.38L243.35 229.39L243.81 229.4L244.27 229.4L244.74 229.4L245.2 229.4L245.66 229.4L246.12 229.4L246.59 229.4L247.05 229.4L247.51 229.4L247.97 229.4L248.43 229.4L248.9 229.4L249.36 229.4L249.82 229.4L250.28 229.4L250.75 229.4L251.21 229.4L251.67 229.4L252.13 229.4L252.6 229.4L253.06 229.4L253.52 229.4L253.98 229.4L254.45 229.4L254.91 229.4L255.37 229.4L255.83 229.4L256.3 229.4L256.76 229.4L257.22 229.4L257.68 229.4L258.15 229.4L258.61 229.4L259.07 229.4L259.53 229.4L260 229.4L260.46 229.4L260.92 229.4L261.38 229.4L261.85 229.4L262.31 229.4L262.77 229.4L263.23 229.4L263.7 229.4L264.16 229.4L264.62 229.4L265.08 229.4L265.55 229.4L266.01 229.4L266.47 229.4L266.93 229.4L267.39 229.4L267.86 229.4L268.32 229.4L268.78 229.4L269.24 229.4L269.71 229.4L270.17 229.4L270.63 229.4L271.09 229.4L271.56 229.4L272.02 229.4L272.48 229.4L272.94 229.4L273.41 229.4L273.87 229.4L274.33 229.4L274.79 229.4L275.26 229.4L275.72 229.4L276.18 229.4L276.64 229.4L277.11 229.4L277.57 229.4L278.03 229.4L278.49 229.4L278.96 229.4L279.42 229.4L279.88 229.4L280.34 229.4L280.81 229.4L281.27 229.4L281.73 229.4L282.19 229.4L282.66 229.4L283.12 229.4L283.58 229.4L284.04 229.4L284.51 229.4L284.97 229.4L285.43 229.4L285.89 229.4L286.35 229.4L286.82 229.4L287.28 229.4L287.74 229.4L288.2 229.4L288.67 229.4L289.13 229.4L289.59 229.4L290.05 229.4L290.52 229.4L290.98 229.4L291.44 229.4L291.9 229.4L292.37 229.4L292.83 229.4L293.29 229.4L293.75 229.4L294.22 229.4L294.68 229.4L295.14 229.4L295.6 229.4L296.07 229.4L296.53 229.4L296.99 229.4L297.45 229.4L297.92 229.4L298.38 229.4L298.84 229.4L299.3 229.4L299.77 229.4L300.23 229.4L300.69 229.4L301.15 229.4L301.62 229.4L302.08 229.4L302.54 229.4L303 229.4L303.46 229.4L303.93 229.4L304.39 229.4L304.85 229.4L305.31 229.4L305.78 229.4L306.24 229.4L306.7 229.4L307.16 229.4L307.63 229.4L308.09 229.4L308.55 229.4L309.01 229.4L309.48 229.4L309.94 229.4L310.4 229.4L310.86 229.4L311.33 229.4L311.79 229.4L312.25 229.4L312.71 229.4L313.18 229.4L313.64 229.4L314.1 229.4L314.56 229.4L315.03 229.4L315.49 229.4L315.95 229.4L316.41 229.4L316.88 229.4L317.34 229.4L317.8 229.4L318.26 229.4L318.73 229.4L319.19 229.4L319.65 229.4L320.11 229.4L320.58 229.4L321.04 229.4L321.5 229.4" stroke="#009a00" stroke-width="1.9" stroke-dasharray="3.2 1.4 1 1.4 1 1.4 1 1.4"/></g><g clip-path="url(#cL)"><path d="M45.33 147.78h0M47 147.96h0M48.67 148.34h0M50.34 148.4h0M52.01 148.32h0M53.68 148.52h0M55.35 148.83h0M57.02 149.38h0M58.68 148.57h0M60.35 149.49h0M62.02 149.44h0M63.69 150.27h0M65.36 149.93h0M67.03 150.29h0M68.7 150.56h0M70.36 151.18h0M72.03 151.45h0M73.7 151.33h0M75.37 151.8h0M77.04 152.06h0M78.71 152.27h0M80.38 152.62h0M82.05 152.54h0M83.71 153.11h0M85.38 153.3h0M87.05 153.86h0M88.72 153.31h0M90.39 153.74h0M92.06 153.87h0M93.73 154.45h0M95.39 154.35h0M97.06 155.24h0M98.73 154.96h0M100.4 154.67h0M102.07 155.16h0M103.74 155.56h0M105.41 155.72h0M107.08 155.8h0M108.74 155.58h0M110.41 156.22h0M112.08 155.24h0M113.75 156.78h0M115.42 155.45h0M117.09 155.51h0M118.76 155.13h0M120.42 154.64h0M122.09 154.1h0M123.76 153.51h0M125.43 152.95h0M127.1 152.66h0M128.77 151.7h0M130.44 150.8h0M132.11 149.97h0M133.77 148.26h0M135.44 146.78h0M137.11 145.27h0M138.78 142.9h0M140.45 140.34h0M142.12 137.57h0M143.79 133.37h0M145.45 128.92h0M147.12 123.44h0M148.79 117h0M150.46 109.91h0M152.13 102.1h0M153.8 93.89h0M155.47 85.04h0M157.14 76.62h0M158.8 67.31h0M160.47 58.42h0M162.14 51.81h0M163.81 49.66h0M165.48 52.78h0M167.15 60.04h0M168.82 69.2h0M170.48 78.56h0M172.15 87.39h0M173.82 95.86h0M175.49 103.84h0M177.16 112.3h0M178.83 118.35h0M180.5 125.71h0M182.17 130.8h0M183.83 135.94h0M185.5 140.14h0M187.17 143.5h0M188.84 146.53h0M190.51 149.06h0M192.18 150.77h0M193.85 152.7h0M195.52 154.54h0M197.18 155.92h0M198.85 157.28h0M200.52 158.62h0M202.19 159.67h0M203.86 160.46h0M205.53 161.59h0M207.2 162.55h0M208.86 162.83h0M210.53 163.61h0M212.2 164.44h0M213.87 165.07h0M215.54 165.56h0M217.21 166.07h0M218.88 166.4h0M220.55 166.23h0M222.21 166.93h0M223.88 167.7h0M225.55 167.43h0M227.22 167.83h0M228.89 168.55h0M230.56 168.65h0M232.23 168.39h0M233.89 169.09h0M235.56 169.49h0M237.23 169.09h0M238.9 169.67h0M240.57 169.72h0M242.24 170.52h0M243.91 170.41h0M245.58 170.64h0M247.24 170.78h0M248.91 170.56h0M250.58 172.11h0M252.25 171.07h0M253.92 171.1h0M255.59 171.24h0M257.26 171.49h0M258.92 171.92h0M260.59 172.45h0M262.26 172.37h0M263.93 172.34h0M265.6 172.41h0M267.27 172.69h0M268.94 172.74h0M270.61 172.76h0M272.27 173.29h0M273.94 173.44h0M275.61 173.3h0M277.28 173.45h0M278.95 173.87h0M280.62 173.74h0M282.29 173.88h0M283.95 174.07h0M285.62 174.23h0M287.29 174.37h0M288.96 174.1h0M290.63 174.99h0M292.3 174.57h0M293.97 174.65h0M295.64 174.92h0M297.3 175.1h0M298.97 175.11h0M300.64 174.9h0M302.31 175.85h0M303.98 175.64h0M305.65 175.51h0M307.32 175.57h0M308.98 175.74h0M310.65 176.01h0M312.32 176.19h0M313.99 176.01h0M315.66 176.36h0M317.33 176.75h0M319 176.52h0M320.67 176.67h0" stroke="#000" stroke-width="4.8" stroke-linecap="round"/></g><path clip-path="url(#cL)" d="M44.5 147.92L44.73 147.95L44.96 147.98L45.19 148.01L45.42 148.04L45.66 148.07L45.89 148.1L46.12 148.13L46.35 148.16L46.58 148.19L46.81 148.22L47.04 148.25L47.27 148.28L47.5 148.31L47.73 148.34L47.97 148.37L48.2 148.4L48.43 148.43L48.66 148.46L48.89 148.49L49.12 148.52L49.35 148.55L49.58 148.58L49.81 148.6L50.04 148.63L50.28 148.66L50.51 148.69L50.74 148.72L50.97 148.75L51.2 148.78L51.43 148.81L51.66 148.84L51.89 148.87L52.12 148.9L52.35 148.93L52.59 148.96L52.82 148.99L53.05 149.02L53.28 149.05L53.51 149.08L53.74 149.11L53.97 149.14L54.2 149.16L54.43 149.19L54.67 149.22L54.9 149.25L55.13 149.28L55.36 149.31L55.59 149.34L55.82 149.37L56.05 149.4L56.28 149.43L56.51 149.46L56.74 149.49L56.98 149.52L57.21 149.55L57.44 149.57L57.67 149.6L57.9 149.63L58.13 149.66L58.36 149.69L58.59 149.72L58.82 149.75L59.05 149.78L59.29 149.81L59.52 149.84L59.75 149.87L59.98 149.9L60.21 149.93L60.44 149.95L60.67 149.98L60.9 150.01L61.13 150.04L61.36 150.07L61.6 150.1L61.83 150.13L62.06 150.16L62.29 150.19L62.52 150.22L62.75 150.25L62.98 150.27L63.21 150.3L63.44 150.33L63.68 150.36L63.91 150.39L64.14 150.42L64.37 150.45L64.6 150.48L64.83 150.51L65.06 150.54L65.29 150.56L65.52 150.59L65.75 150.62L65.99 150.65L66.22 150.68L66.45 150.71L66.68 150.74L66.91 150.77L67.14 150.8L67.37 150.82L67.6 150.85L67.83 150.88L68.06 150.91L68.3 150.94L68.53 150.97L68.76 151L68.99 151.03L69.22 151.05L69.45 151.08L69.68 151.11L69.91 151.14L70.14 151.17L70.37 151.2L70.61 151.23L70.84 151.26L71.07 151.28L71.3 151.31L71.53 151.34L71.76 151.37L71.99 151.4L72.22 151.43L72.45 151.46L72.69 151.48L72.92 151.51L73.15 151.54L73.38 151.57L73.61 151.6L73.84 151.63L74.07 151.66L74.3 151.68L74.53 151.71L74.76 151.74L75 151.77L75.23 151.8L75.46 151.83L75.69 151.86L75.92 151.88L76.15 151.91L76.38 151.94L76.61 151.97L76.84 152L77.07 152.03L77.31 152.05L77.54 152.08L77.77 152.11L78 152.14L78.23 152.17L78.46 152.2L78.69 152.22L78.92 152.25L79.15 152.28L79.38 152.31L79.62 152.34L79.85 152.36L80.08 152.39L80.31 152.42L80.54 152.45L80.77 152.48L81 152.5L81.23 152.53L81.46 152.56L81.7 152.59L81.93 152.62L82.16 152.64L82.39 152.67L82.62 152.7L82.85 152.73L83.08 152.76L83.31 152.78L83.54 152.81L83.77 152.84L84.01 152.87L84.24 152.9L84.47 152.92L84.7 152.95L84.93 152.98L85.16 153.01L85.39 153.03L85.62 153.06L85.85 153.09L86.08 153.12L86.32 153.14L86.55 153.17L86.78 153.2L87.01 153.23L87.24 153.25L87.47 153.28L87.7 153.31L87.93 153.33L88.16 153.36L88.39 153.39L88.63 153.42L88.86 153.44L89.09 153.47L89.32 153.5L89.55 153.52L89.78 153.55L90.01 153.58L90.24 153.6L90.47 153.63L90.71 153.66L90.94 153.68L91.17 153.71L91.4 153.73L91.63 153.76L91.86 153.79L92.09 153.81L92.32 153.84L92.55 153.86L92.78 153.89L93.02 153.92L93.25 153.94L93.48 153.97L93.71 153.99L93.94 154.02L94.17 154.04L94.4 154.07L94.63 154.09L94.86 154.12L95.09 154.14L95.33 154.17L95.56 154.19L95.79 154.22L96.02 154.24L96.25 154.26L96.48 154.29L96.71 154.31L96.94 154.34L97.17 154.36L97.4 154.38L97.64 154.41L97.87 154.43L98.1 154.45L98.33 154.47L98.56 154.5L98.79 154.52L99.02 154.54L99.25 154.56L99.48 154.58L99.72 154.61L99.95 154.63L100.18 154.65L100.41 154.67L100.64 154.69L100.87 154.71L101.1 154.73L101.33 154.75L101.56 154.77L101.79 154.79L102.03 154.81L102.26 154.82L102.49 154.84L102.72 154.86L102.95 154.88L103.18 154.89L103.41 154.91L103.64 154.93L103.87 154.94L104.1 154.96L104.34 154.97L104.57 154.99L104.8 155L105.03 155.02L105.26 155.03L105.49 155.04L105.72 155.05L105.95 155.07L106.18 155.08L106.41 155.09L106.65 155.1L106.88 155.11L107.11 155.12L107.34 155.13L107.57 155.13L107.8 155.14L108.03 155.15L108.26 155.15L108.49 155.16L108.73 155.17L108.96 155.17L109.19 155.17L109.42 155.18L109.65 155.18L109.88 155.18L110.11 155.18L110.34 155.18L110.57 155.18L110.8 155.18L111.04 155.18L111.27 155.17L111.5 155.17L111.73 155.17L111.96 155.16L112.19 155.15L112.42 155.15L112.65 155.14L112.88 155.13L113.11 155.12L113.35 155.11L113.58 155.1L113.81 155.09L114.04 155.07L114.27 155.06L114.5 155.04L114.73 155.03L114.96 155.01L115.19 154.99L115.42 154.97L115.66 154.95L115.89 154.93L116.12 154.91L116.35 154.88L116.58 154.86L116.81 154.83L117.04 154.81L117.27 154.78L117.5 154.75L117.74 154.72L117.97 154.69L118.2 154.65L118.43 154.62L118.66 154.58L118.89 154.54L119.12 154.51L119.35 154.47L119.58 154.42L119.81 154.38L120.05 154.33L120.28 154.29L120.51 154.24L120.74 154.19L120.97 154.14L121.2 154.09L121.43 154.03L121.66 153.98L121.89 153.92L122.12 153.86L122.36 153.8L122.59 153.74L122.82 153.67L123.05 153.61L123.28 153.54L123.51 153.47L123.74 153.4L123.97 153.33L124.2 153.25L124.43 153.18L124.67 153.1L124.9 153.02L125.13 152.94L125.36 152.86L125.59 152.77L125.82 152.69L126.05 152.6L126.28 152.51L126.51 152.41L126.75 152.32L126.98 152.22L127.21 152.12L127.44 152.02L127.67 151.92L127.9 151.81L128.13 151.71L128.36 151.59L128.59 151.48L128.82 151.37L129.06 151.25L129.29 151.13L129.52 151.01L129.75 150.88L129.98 150.75L130.21 150.62L130.44 150.49L130.67 150.35L130.9 150.21L131.13 150.07L131.37 149.92L131.6 149.77L131.83 149.62L132.06 149.46L132.29 149.3L132.52 149.14L132.75 148.97L132.98 148.8L133.21 148.63L133.44 148.45L133.68 148.26L133.91 148.08L134.14 147.88L134.37 147.69L134.6 147.49L134.83 147.28L135.06 147.07L135.29 146.85L135.52 146.63L135.76 146.4L135.99 146.16L136.22 145.92L136.45 145.68L136.68 145.42L136.91 145.16L137.14 144.9L137.37 144.62L137.6 144.34L137.83 144.05L138.07 143.75L138.3 143.45L138.53 143.13L138.76 142.81L138.99 142.48L139.22 142.14L139.45 141.79L139.68 141.43L139.91 141.06L140.14 140.68L140.38 140.29L140.61 139.88L140.84 139.47L141.07 139.04L141.3 138.61L141.53 138.16L141.76 137.7L141.99 137.22L142.22 136.73L142.45 136.23L142.69 135.72L142.92 135.19L143.15 134.65L143.38 134.09L143.61 133.52L143.84 132.94L144.07 132.34L144.3 131.72L144.53 131.09L144.77 130.44L145 129.78L145.23 129.1L145.46 128.41L145.69 127.7L145.92 126.97L146.15 126.23L146.38 125.47L146.61 124.7L146.84 123.91L147.08 123.1L147.31 122.28L147.54 121.44L147.77 120.58L148 119.71L148.23 118.83L148.46 117.93L148.69 117.01L148.92 116.08L149.15 115.14L149.39 114.18L149.62 113.21L149.85 112.22L150.08 111.23L150.31 110.22L150.54 109.19L150.77 108.16L151 107.12L151.23 106.06L151.46 105L151.7 103.92L151.93 102.84L152.16 101.75L152.39 100.65L152.62 99.54L152.85 98.43L153.08 97.31L153.31 96.18L153.54 95.05L153.78 93.91L154.01 92.76L154.24 91.61L154.47 90.45L154.7 89.28L154.93 88.11L155.16 86.93L155.39 85.74L155.62 84.55L155.85 83.34L156.09 82.13L156.32 80.91L156.55 79.68L156.78 78.44L157.01 77.2L157.24 75.94L157.47 74.68L157.7 73.4L157.93 72.13L158.16 70.84L158.4 69.56L158.63 68.27L158.86 66.99L159.09 65.71L159.32 64.44L159.55 63.19L159.78 61.95L160.01 60.74L160.24 59.56L160.47 58.41L160.71 57.3L160.94 56.25L161.17 55.25L161.4 54.31L161.63 53.44L161.86 52.64L162.09 51.92L162.32 51.29L162.55 50.75L162.79 50.31L163.02 49.97L163.25 49.73L163.48 49.59L163.71 49.56L163.94 49.64L164.17 49.82L164.4 50.11L164.63 50.5L164.86 50.99L165.1 51.57L165.33 52.25L165.56 53.01L165.79 53.84L166.02 54.76L166.25 55.74L166.48 56.78L166.71 57.87L166.94 59.01L167.17 60.2L167.41 61.42L167.64 62.66L167.87 63.93L168.1 65.22L168.33 66.52L168.56 67.83L168.79 69.15L169.02 70.46L169.25 71.78L169.48 73.09L169.72 74.4L169.95 75.7L170.18 77L170.41 78.28L170.64 79.56L170.87 80.83L171.1 82.08L171.33 83.33L171.56 84.57L171.8 85.8L172.03 87.02L172.26 88.24L172.49 89.44L172.72 90.64L172.95 91.84L173.18 93.02L173.41 94.2L173.64 95.37L173.87 96.54L174.11 97.7L174.34 98.85L174.57 100L174.8 101.14L175.03 102.27L175.26 103.39L175.49 104.51L175.72 105.62L175.95 106.72L176.18 107.81L176.42 108.89L176.65 109.96L176.88 111.02L177.11 112.07L177.34 113.11L177.57 114.13L177.8 115.15L178.03 116.15L178.26 117.13L178.49 118.11L178.73 119.07L178.96 120.01L179.19 120.94L179.42 121.86L179.65 122.76L179.88 123.65L180.11 124.52L180.34 125.37L180.57 126.21L180.81 127.04L181.04 127.84L181.27 128.64L181.5 129.41L181.73 130.17L181.96 130.92L182.19 131.65L182.42 132.36L182.65 133.06L182.88 133.74L183.12 134.41L183.35 135.06L183.58 135.7L183.81 136.33L184.04 136.93L184.27 137.53L184.5 138.11L184.73 138.68L184.96 139.23L185.19 139.77L185.43 140.3L185.66 140.82L185.89 141.32L186.12 141.81L186.35 142.29L186.58 142.76L186.81 143.22L187.04 143.66L187.27 144.1L187.51 144.53L187.74 144.94L187.97 145.35L188.2 145.75L188.43 146.13L188.66 146.51L188.89 146.88L189.12 147.24L189.35 147.6L189.58 147.94L189.82 148.28L190.05 148.61L190.28 148.94L190.51 149.25L190.74 149.56L190.97 149.87L191.2 150.16L191.43 150.46L191.66 150.74L191.89 151.02L192.13 151.3L192.36 151.57L192.59 151.83L192.82 152.09L193.05 152.35L193.28 152.6L193.51 152.85L193.74 153.09L193.97 153.33L194.2 153.56L194.44 153.79L194.67 154.02L194.9 154.24L195.13 154.46L195.36 154.68L195.59 154.89L195.82 155.1L196.05 155.3L196.28 155.51L196.52 155.71L196.75 155.91L196.98 156.1L197.21 156.29L197.44 156.48L197.67 156.67L197.9 156.85L198.13 157.03L198.36 157.21L198.59 157.39L198.83 157.56L199.06 157.73L199.29 157.9L199.52 158.07L199.75 158.24L199.98 158.4L200.21 158.56L200.44 158.72L200.67 158.88L200.9 159.03L201.14 159.18L201.37 159.33L201.6 159.48L201.83 159.63L202.06 159.78L202.29 159.92L202.52 160.06L202.75 160.2L202.98 160.34L203.21 160.47L203.45 160.61L203.68 160.74L203.91 160.87L204.14 161L204.37 161.13L204.6 161.25L204.83 161.38L205.06 161.5L205.29 161.62L205.53 161.74L205.76 161.86L205.99 161.97L206.22 162.09L206.45 162.2L206.68 162.31L206.91 162.42L207.14 162.53L207.37 162.64L207.6 162.74L207.84 162.85L208.07 162.95L208.3 163.05L208.53 163.15L208.76 163.25L208.99 163.34L209.22 163.44L209.45 163.53L209.68 163.63L209.91 163.72L210.15 163.81L210.38 163.9L210.61 163.98L210.84 164.07L211.07 164.16L211.3 164.24L211.53 164.32L211.76 164.41L211.99 164.49L212.22 164.57L212.46 164.65L212.69 164.72L212.92 164.8L213.15 164.88L213.38 164.95L213.61 165.02L213.84 165.1L214.07 165.17L214.3 165.24L214.54 165.31L214.77 165.38L215 165.45L215.23 165.51L215.46 165.58L215.69 165.64L215.92 165.71L216.15 165.77L216.38 165.84L216.61 165.9L216.85 165.96L217.08 166.02L217.31 166.08L217.54 166.14L217.77 166.2L218 166.25L218.23 166.31L218.46 166.37L218.69 166.42L218.92 166.47L219.16 166.53L219.39 166.58L219.62 166.63L219.85 166.69L220.08 166.74L220.31 166.79L220.54 166.84L220.77 166.89L221 166.94L221.23 166.98L221.47 167.03L221.7 167.08L221.93 167.13L222.16 167.17L222.39 167.22L222.62 167.26L222.85 167.31L223.08 167.35L223.31 167.39L223.55 167.44L223.78 167.48L224.01 167.52L224.24 167.56L224.47 167.61L224.7 167.65L224.93 167.69L225.16 167.73L225.39 167.77L225.62 167.8L225.86 167.84L226.09 167.88L226.32 167.92L226.55 167.96L226.78 167.99L227.01 168.03L227.24 168.07L227.47 168.1L227.7 168.14L227.93 168.17L228.17 168.21L228.4 168.24L228.63 168.28L228.86 168.31L229.09 168.35L229.32 168.38L229.55 168.41L229.78 168.45L230.01 168.48L230.24 168.51L230.48 168.54L230.71 168.58L230.94 168.61L231.17 168.64L231.4 168.67L231.63 168.7L231.86 168.73L232.09 168.76L232.32 168.8L232.56 168.83L232.79 168.86L233.02 168.89L233.25 168.92L233.48 168.95L233.71 168.98L233.94 169L234.17 169.03L234.4 169.06L234.63 169.09L234.87 169.12L235.1 169.15L235.33 169.18L235.56 169.21L235.79 169.23L236.02 169.26L236.25 169.29L236.48 169.32L236.71 169.35L236.94 169.37L237.18 169.4L237.41 169.43L237.64 169.46L237.87 169.48L238.1 169.51L238.33 169.54L238.56 169.56L238.79 169.59L239.02 169.62L239.25 169.64L239.49 169.67L239.72 169.7L239.95 169.72L240.18 169.75L240.41 169.77L240.64 169.8L240.87 169.83L241.1 169.85L241.33 169.88L241.57 169.9L241.8 169.93L242.03 169.95L242.26 169.98L242.49 170L242.72 170.03L242.95 170.05L243.18 170.08L243.41 170.1L243.64 170.13L243.88 170.15L244.11 170.18L244.34 170.2L244.57 170.23L244.8 170.25L245.03 170.28L245.26 170.3L245.49 170.32L245.72 170.35L245.95 170.37L246.19 170.4L246.42 170.42L246.65 170.44L246.88 170.47L247.11 170.49L247.34 170.52L247.57 170.54L247.8 170.56L248.03 170.59L248.26 170.61L248.5 170.63L248.73 170.66L248.96 170.68L249.19 170.7L249.42 170.73L249.65 170.75L249.88 170.77L250.11 170.8L250.34 170.82L250.58 170.84L250.81 170.86L251.04 170.89L251.27 170.91L251.5 170.93L251.73 170.96L251.96 170.98L252.19 171L252.42 171.02L252.65 171.05L252.89 171.07L253.12 171.09L253.35 171.11L253.58 171.14L253.81 171.16L254.04 171.18L254.27 171.2L254.5 171.23L254.73 171.25L254.96 171.27L255.2 171.29L255.43 171.32L255.66 171.34L255.89 171.36L256.12 171.38L256.35 171.4L256.58 171.43L256.81 171.45L257.04 171.47L257.27 171.49L257.51 171.51L257.74 171.54L257.97 171.56L258.2 171.58L258.43 171.6L258.66 171.62L258.89 171.65L259.12 171.67L259.35 171.69L259.59 171.71L259.82 171.73L260.05 171.75L260.28 171.78L260.51 171.8L260.74 171.82L260.97 171.84L261.2 171.86L261.43 171.88L261.66 171.91L261.9 171.93L262.13 171.95L262.36 171.97L262.59 171.99L262.82 172.01L263.05 172.03L263.28 172.06L263.51 172.08L263.74 172.1L263.97 172.12L264.21 172.14L264.44 172.16L264.67 172.18L264.9 172.2L265.13 172.22L265.36 172.25L265.59 172.27L265.82 172.29L266.05 172.31L266.28 172.33L266.52 172.35L266.75 172.37L266.98 172.39L267.21 172.41L267.44 172.43L267.67 172.45L267.9 172.48L268.13 172.5L268.36 172.52L268.6 172.54L268.83 172.56L269.06 172.58L269.29 172.6L269.52 172.62L269.75 172.64L269.98 172.66L270.21 172.68L270.44 172.7L270.67 172.72L270.91 172.74L271.14 172.76L271.37 172.78L271.6 172.8L271.83 172.82L272.06 172.84L272.29 172.86L272.52 172.88L272.75 172.9L272.98 172.93L273.22 172.95L273.45 172.97L273.68 172.99L273.91 173.01L274.14 173.03L274.37 173.05L274.6 173.07L274.83 173.09L275.06 173.11L275.29 173.13L275.53 173.15L275.76 173.17L275.99 173.19L276.22 173.21L276.45 173.23L276.68 173.25L276.91 173.27L277.14 173.29L277.37 173.31L277.61 173.33L277.84 173.35L278.07 173.37L278.3 173.39L278.53 173.41L278.76 173.43L278.99 173.44L279.22 173.46L279.45 173.48L279.68 173.5L279.92 173.52L280.15 173.54L280.38 173.56L280.61 173.58L280.84 173.6L281.07 173.62L281.3 173.64L281.53 173.66L281.76 173.68L281.99 173.7L282.23 173.72L282.46 173.74L282.69 173.76L282.92 173.78L283.15 173.8L283.38 173.82L283.61 173.84L283.84 173.86L284.07 173.88L284.3 173.9L284.54 173.92L284.77 173.94L285 173.96L285.23 173.97L285.46 173.99L285.69 174.01L285.92 174.03L286.15 174.05L286.38 174.07L286.62 174.09L286.85 174.11L287.08 174.13L287.31 174.15L287.54 174.17L287.77 174.19L288 174.21L288.23 174.23L288.46 174.25L288.69 174.27L288.93 174.28L289.16 174.3L289.39 174.32L289.62 174.34L289.85 174.36L290.08 174.38L290.31 174.4L290.54 174.42L290.77 174.44L291 174.46L291.24 174.48L291.47 174.5L291.7 174.52L291.93 174.53L292.16 174.55L292.39 174.57L292.62 174.59L292.85 174.61L293.08 174.63L293.31 174.65L293.55 174.67L293.78 174.69L294.01 174.71L294.24 174.73L294.47 174.74L294.7 174.76L294.93 174.78L295.16 174.8L295.39 174.82L295.63 174.84L295.86 174.86L296.09 174.88L296.32 174.9L296.55 174.91L296.78 174.93L297.01 174.95L297.24 174.97L297.47 174.99L297.7 175.01L297.94 175.03L298.17 175.05L298.4 175.06L298.63 175.08L298.86 175.1L299.09 175.12L299.32 175.14L299.55 175.16L299.78 175.18L300.01 175.2L300.25 175.21L300.48 175.23L300.71 175.25L300.94 175.27L301.17 175.29L301.4 175.31L301.63 175.33L301.86 175.34L302.09 175.36L302.32 175.38L302.56 175.4L302.79 175.42L303.02 175.44L303.25 175.46L303.48 175.47L303.71 175.49L303.94 175.51L304.17 175.53L304.4 175.55L304.64 175.57L304.87 175.58L305.1 175.6L305.33 175.62L305.56 175.64L305.79 175.66L306.02 175.68L306.25 175.69L306.48 175.71L306.71 175.73L306.95 175.75L307.18 175.77L307.41 175.79L307.64 175.8L307.87 175.82L308.1 175.84L308.33 175.86L308.56 175.88L308.79 175.9L309.02 175.91L309.26 175.93L309.49 175.95L309.72 175.97L309.95 175.99L310.18 176L310.41 176.02L310.64 176.04L310.87 176.06L311.1 176.08L311.33 176.09L311.57 176.11L311.8 176.13L312.03 176.15L312.26 176.17L312.49 176.18L312.72 176.2L312.95 176.22L313.18 176.24L313.41 176.26L313.65 176.27L313.88 176.29L314.11 176.31L314.34 176.33L314.57 176.34L314.8 176.36L315.03 176.38L315.26 176.4L315.49 176.42L315.72 176.43L315.96 176.45L316.19 176.47L316.42 176.49L316.65 176.5L316.88 176.52L317.11 176.54L317.34 176.56L317.57 176.58L317.8 176.59L318.03 176.61L318.27 176.63L318.5 176.65L318.73 176.66L318.96 176.68L319.19 176.7L319.42 176.72L319.65 176.73L319.88 176.75L320.11 176.77L320.34 176.79L320.58 176.8L320.81 176.82L321.04 176.84L321.27 176.86L321.5 176.87" stroke="#ff0000" stroke-width="1.5" fill="none"/><g clip-path="url(#cLl)" fill="#0000ff"><rect x="44.5" y="265.08" width="1.72" height="4.02"/><rect x="46.17" y="264.4" width="1.72" height="4.7"/><rect x="47.84" y="267.14" width="1.72" height="1.96"/><rect x="49.51" y="264.69" width="1.72" height="4.41"/><rect x="51.17" y="259.79" width="1.72" height="9.31"/><rect x="52.84" y="259.59" width="1.72" height="9.51"/><rect x="54.51" y="261.26" width="1.72" height="7.84"/><rect x="56.18" y="266.75" width="1.72" height="2.35"/><rect x="57.85" y="249.99" width="1.72" height="19.11"/><rect x="59.52" y="261.65" width="1.72" height="7.45"/><rect x="61.19" y="257.34" width="1.72" height="11.76"/><rect x="62.86" y="267.53" width="1.72" height="1.57"/><rect x="64.52" y="258.52" width="1.72" height="10.58"/><rect x="66.19" y="260.87" width="1.72" height="8.23"/><rect x="67.86" y="262.04" width="1.72" height="7.06"/><rect x="69.53" y="268.5" width="1.72" height="1"/><rect x="71.2" y="268.99" width="1.72" height="1"/><rect x="72.87" y="264.4" width="1.72" height="4.7"/><rect x="74.54" y="268.5" width="1.72" height="1"/><rect x="76.2" y="268.94" width="1.72" height="1"/><rect x="77.87" y="268.99" width="1.72" height="1"/><rect x="79.54" y="269.1" width="1.72" height="3.14"/><rect x="81.21" y="267.53" width="1.72" height="1.57"/><rect x="82.88" y="269.1" width="1.72" height="4.7"/><rect x="84.55" y="269.1" width="1.72" height="4.51"/><rect x="86.22" y="269.1" width="1.72" height="10.68"/><rect x="87.89" y="267.14" width="1.72" height="1.96"/><rect x="89.55" y="269.1" width="1.72" height="1.96"/><rect x="91.22" y="269.09" width="1.72" height="1"/><rect x="92.89" y="269.1" width="1.72" height="7.64"/><rect x="94.56" y="269.1" width="1.72" height="2.94"/><rect x="96.23" y="269.1" width="1.72" height="15.19"/><rect x="97.9" y="269.1" width="1.72" height="7.64"/><rect x="99.57" y="268.6" width="1.72" height="1"/><rect x="101.23" y="269.1" width="1.72" height="6.08"/><rect x="102.9" y="269.1" width="1.72" height="10.68"/><rect x="104.57" y="269.1" width="1.72" height="11.66"/><rect x="106.24" y="269.1" width="1.72" height="11.66"/><rect x="107.91" y="269.1" width="1.72" height="7.06"/><rect x="109.58" y="269.1" width="1.72" height="17.74"/><rect x="111.25" y="269.1" width="1.72" height="1.47"/><rect x="112.92" y="269.1" width="1.72" height="28.91"/><rect x="114.58" y="269.1" width="1.72" height="8.13"/><rect x="116.25" y="269.1" width="1.72" height="12.15"/><rect x="117.92" y="269.1" width="1.72" height="9.6"/><rect x="119.59" y="269.1" width="1.72" height="6.57"/><rect x="121.26" y="269.1" width="1.72" height="4.02"/><rect x="122.93" y="269.1" width="1.72" height="1.96"/><rect x="124.6" y="269.1" width="1.72" height="1.96"/><rect x="126.27" y="269.1" width="1.72" height="8.13"/><rect x="127.93" y="269.1" width="1.72" height="5.1"/><rect x="129.6" y="269.1" width="1.72" height="5.1"/><rect x="131.27" y="269.1" width="1.72" height="8.92"/><rect x="132.94" y="269.1" width="1.72" height="1.27"/><rect x="134.61" y="269.1" width="1.72" height="1.27"/><rect x="136.28" y="269.1" width="1.72" height="5.39"/><rect x="137.95" y="269.1" width="1.72" height="1.86"/><rect x="139.61" y="269.1" width="1.72" height="2.84"/><rect x="141.28" y="269.1" width="1.72" height="9.41"/><rect x="142.95" y="269.1" width="1.72" height="4.41"/><rect x="144.62" y="269.1" width="1.72" height="7.35"/><rect x="146.29" y="269.1" width="1.72" height="7.35"/><rect x="147.96" y="269.1" width="1.72" height="5.39"/><rect x="149.63" y="269.1" width="1.72" height="4.9"/><rect x="151.3" y="269.1" width="1.72" height="2.84"/><rect x="152.96" y="269.1" width="1.72" height="1.27"/><rect x="154.63" y="265.18" width="1.72" height="3.92"/><rect x="156.3" y="269.1" width="1.72" height="1.27"/><rect x="157.97" y="268.75" width="1.72" height="1"/><rect x="159.64" y="268.6" width="1.72" height="1"/><rect x="161.31" y="268.75" width="1.72" height="1"/><rect x="162.98" y="268.99" width="1.72" height="1"/><rect x="164.64" y="268.85" width="1.72" height="1"/><rect x="166.31" y="268.5" width="1.72" height="1"/><rect x="167.98" y="268.11" width="1.72" height="1"/><rect x="169.65" y="267.34" width="1.72" height="1.76"/><rect x="171.32" y="265.28" width="1.72" height="3.82"/><rect x="172.99" y="263.81" width="1.72" height="5.29"/><rect x="174.66" y="260.28" width="1.72" height="8.82"/><rect x="176.33" y="268.6" width="1.72" height="1"/><rect x="177.99" y="253.13" width="1.72" height="15.97"/><rect x="179.66" y="265.87" width="1.72" height="3.23"/><rect x="181.33" y="257.73" width="1.72" height="11.37"/><rect x="183" y="262.24" width="1.72" height="6.86"/><rect x="184.67" y="263.81" width="1.72" height="5.29"/><rect x="186.34" y="262.53" width="1.72" height="6.57"/><rect x="188.01" y="264.79" width="1.72" height="4.31"/><rect x="189.67" y="265.87" width="1.72" height="3.23"/><rect x="191.34" y="259.3" width="1.72" height="9.8"/><rect x="193.01" y="260.77" width="1.72" height="8.33"/><rect x="194.68" y="264.3" width="1.72" height="4.8"/><rect x="196.35" y="263.12" width="1.72" height="5.98"/><rect x="198.02" y="263.81" width="1.72" height="5.29"/><rect x="199.69" y="266.36" width="1.72" height="2.74"/><rect x="201.36" y="265.87" width="1.72" height="3.23"/><rect x="203.02" y="262.24" width="1.72" height="6.86"/><rect x="204.69" y="266.36" width="1.72" height="2.74"/><rect x="206.36" y="268.6" width="1.72" height="1"/><rect x="208.03" y="260.77" width="1.72" height="8.33"/><rect x="209.7" y="262.83" width="1.72" height="6.27"/><rect x="211.37" y="266.85" width="1.72" height="2.25"/><rect x="213.04" y="268.26" width="1.72" height="1"/><rect x="214.7" y="268.26" width="1.72" height="1"/><rect x="216.37" y="268.75" width="1.72" height="1"/><rect x="218.04" y="267.92" width="1.72" height="1.18"/><rect x="219.71" y="257.73" width="1.72" height="11.37"/><rect x="221.38" y="264.3" width="1.72" height="4.8"/><rect x="223.05" y="269.1" width="1.72" height="3.82"/><rect x="224.72" y="262.24" width="1.72" height="6.86"/><rect x="226.39" y="264.79" width="1.72" height="4.31"/><rect x="228.05" y="269.1" width="1.72" height="4.31"/><rect x="229.72" y="269.1" width="1.72" height="1.76"/><rect x="231.39" y="261.75" width="1.72" height="7.35"/><rect x="233.06" y="269.1" width="1.72" height="1.76"/><rect x="234.73" y="269.1" width="1.72" height="5.29"/><rect x="236.4" y="263.02" width="1.72" height="6.08"/><rect x="238.07" y="269.1" width="1.72" height="1.27"/><rect x="239.73" y="267.83" width="1.72" height="1.27"/><rect x="241.4" y="269.1" width="1.72" height="10.39"/><rect x="243.07" y="269.1" width="1.72" height="4.8"/><rect x="244.74" y="269.1" width="1.72" height="5.88"/><rect x="246.41" y="269.1" width="1.72" height="5.29"/><rect x="248.08" y="266.85" width="1.72" height="2.25"/><rect x="249.75" y="269.1" width="1.72" height="24.3"/><rect x="251.42" y="269.1" width="1.72" height="1.27"/><rect x="253.08" y="267.83" width="1.72" height="1.27"/><rect x="254.75" y="267.34" width="1.72" height="1.76"/><rect x="256.42" y="268.6" width="1.72" height="1"/><rect x="258.09" y="269.1" width="1.72" height="5.29"/><rect x="259.76" y="269.1" width="1.72" height="12.45"/><rect x="261.43" y="269.1" width="1.72" height="7.84"/><rect x="263.1" y="269.1" width="1.72" height="4.31"/><rect x="264.77" y="269.1" width="1.72" height="2.74"/><rect x="266.43" y="269.1" width="1.72" height="5.29"/><rect x="268.1" y="269.1" width="1.72" height="3.33"/><rect x="269.77" y="268.99" width="1.72" height="1"/><rect x="271.44" y="269.1" width="1.72" height="8.43"/><rect x="273.11" y="269.1" width="1.72" height="8.43"/><rect x="274.78" y="269.1" width="1.72" height="2.94"/><rect x="276.45" y="269.1" width="1.72" height="3.04"/><rect x="278.11" y="269.1" width="1.72" height="8.43"/><rect x="279.78" y="269.1" width="1.72" height="3.04"/><rect x="281.45" y="269.1" width="1.72" height="3.04"/><rect x="283.12" y="269.1" width="1.72" height="3.92"/><rect x="284.79" y="269.1" width="1.72" height="4.41"/><rect x="286.46" y="269.1" width="1.72" height="4.41"/><rect x="288.13" y="265.38" width="1.72" height="3.72"/><rect x="289.8" y="269.1" width="1.72" height="11.07"/><rect x="291.46" y="268.6" width="1.72" height="1"/><rect x="293.13" y="268.11" width="1.72" height="1"/><rect x="294.8" y="269.1" width="1.72" height="1.67"/><rect x="296.47" y="269.1" width="1.72" height="2.55"/><rect x="298.14" y="268.6" width="1.72" height="1"/><rect x="299.81" y="262.24" width="1.72" height="6.86"/><rect x="301.48" y="269.1" width="1.72" height="9.31"/><rect x="303.14" y="269.1" width="1.72" height="2.55"/><rect x="304.81" y="266.26" width="1.72" height="2.84"/><rect x="306.48" y="264.89" width="1.72" height="4.21"/><rect x="308.15" y="265.77" width="1.72" height="3.33"/><rect x="309.82" y="268.31" width="1.72" height="1"/><rect x="311.49" y="268.75" width="1.72" height="1"/><rect x="313.16" y="263.22" width="1.72" height="5.88"/><rect x="314.83" y="267.63" width="1.72" height="1.47"/><rect x="316.49" y="269.1" width="1.72" height="3.92"/><rect x="318.16" y="265.77" width="1.72" height="3.33"/><rect x="319.83" y="266.26" width="1.72" height="2.84"/></g><g clip-path="url(#cR)" fill="none"><path d="M400.5 229.4L400.67 229.4L400.85 229.4L401.02 229.4L401.19 229.4L401.37 229.4L401.54 229.4L401.72 229.4L401.89 229.4L402.06 229.4L402.24 229.4L402.41 229.4L402.58 229.4L402.76 229.4L402.93 229.4L403.1 229.4L403.28 229.4L403.45 229.4L403.62 229.4L403.8 229.4L403.97 229.4L404.15 229.4L404.32 229.4L404.49 229.4L404.67 229.4L404.84 229.4L405.01 229.4L405.19 229.4L405.36 229.4L405.53 229.4L405.71 229.4L405.88 229.4L406.06 229.4L406.23 229.4L406.4 229.4L406.58 229.4L406.75 229.4L406.92 229.4L407.1 229.4L407.27 229.4L407.44 229.4L407.62 229.4L407.79 229.4L407.97 229.4L408.14 229.4L408.31 229.4L408.49 229.4L408.66 229.4L408.83 229.4L409.01 229.4L409.18 229.4L409.35 229.4L409.53 229.4L409.7 229.4L409.87 229.4L410.05 229.4L410.22 229.4L410.4 229.4L410.57 229.4L410.74 229.4L410.92 229.4L411.09 229.4L411.26 229.4L411.44 229.4L411.61 229.4L411.78 229.4L411.96 229.4L412.13 229.4L412.31 229.4L412.48 229.4L412.65 229.4L412.83 229.4L413 229.4L413.17 229.4L413.35 229.4L413.52 229.4L413.69 229.4L413.87 229.4L414.04 229.4L414.22 229.4L414.39 229.4L414.56 229.4L414.74 229.4L414.91 229.4L415.08 229.4L415.26 229.4L415.43 229.4L415.6 229.4L415.78 229.4L415.95 229.4L416.12 229.4L416.3 229.4L416.47 229.4L416.65 229.4L416.82 229.4L416.99 229.4L417.17 229.4L417.34 229.4L417.51 229.4L417.69 229.4L417.86 229.4L418.03 229.4L418.21 229.4L418.38 229.4L418.56 229.4L418.73 229.4L418.9 229.4L419.08 229.4L419.25 229.4L419.42 229.03L419.6 227.79L419.77 226.56L419.94 225.35L420.12 224.15L420.29 222.97L420.46 221.8L420.64 220.64L420.81 219.49L420.99 218.36L421.16 217.23L421.33 216.12L421.51 215.01L421.68 213.91L421.85 212.82L422.03 211.73L422.2 210.63L422.37 209.52L422.55 208.4L422.72 207.25L422.9 206.07L423.07 204.83L423.24 203.54L423.42 202.16L423.59 200.68L423.76 199.08L423.94 197.33L424.11 195.44L424.28 193.37L424.46 191.12L424.63 188.69L424.81 186.1L424.98 183.34L425.15 180.45L425.33 177.44L425.5 174.33L425.67 171.14L425.85 167.9L426.02 164.63L426.19 161.33L426.37 158.03L426.54 154.73L426.71 151.43L426.89 148.15L427.06 144.88L427.24 141.64L427.41 138.4L427.58 135.18L427.76 131.98L427.93 128.78L428.1 125.58L428.28 122.39L428.45 119.2L428.62 116L428.8 112.8L428.97 109.6L429.15 106.4L429.32 103.21L429.49 100.02L429.67 96.85L429.84 93.71L430.01 90.59L430.19 87.52L430.36 84.5L430.53 81.53L430.71 78.63L430.88 75.8L431.06 73.05L431.23 70.39L431.4 67.83L431.58 65.36L431.75 63L431.92 60.74L432.1 58.6L432.27 56.57L432.44 54.65L432.62 52.86L432.79 51.19L432.96 49.65L433.14 48.23L433.31 46.93L433.49 45.77L433.66 44.73L433.83 43.83L434.01 43.05L434.18 42.41L434.35 41.89L434.53 41.51L434.7 41.26L434.87 41.15L435.05 41.16L435.22 41.31L435.4 41.6L435.57 42.01L435.74 42.55L435.92 43.23L436.09 44.04L436.26 44.98L436.44 46.05L436.61 47.24L436.78 48.57L436.96 50.02L437.13 51.6L437.31 53.3L437.48 55.12L437.65 57.06L437.83 59.12L438 61.29L438.17 63.57L438.35 65.96L438.52 68.46L438.69 71.05L438.87 73.73L439.04 76.49L439.21 79.34L439.39 82.26L439.56 85.24L439.74 88.28L439.91 91.36L440.08 94.49L440.26 97.64L440.43 100.81L440.6 104L440.78 107.2L440.95 110.4L441.12 113.6L441.3 116.8L441.47 119.99L441.65 123.18L441.82 126.38L441.99 129.57L442.17 132.77L442.34 135.98L442.51 139.2L442.69 142.44L442.86 145.69L443.03 148.96L443.21 152.25L443.38 155.54L443.55 158.85L443.73 162.15L443.9 165.44L444.08 168.71L444.25 171.94L444.42 175.11L444.6 178.19L444.77 181.18L444.94 184.04L445.12 186.76L445.29 189.31L445.46 191.69L445.64 193.9L445.81 195.92L445.99 197.78L446.16 199.49L446.33 201.06L446.51 202.51L446.68 203.87L446.85 205.15L447.03 206.36L447.2 207.54L447.37 208.68L447.55 209.8L447.72 210.9L447.9 212L448.07 213.09L448.24 214.19L448.42 215.29L448.59 216.39L448.76 217.51L448.94 218.64L449.11 219.77L449.28 220.92L449.46 222.09L449.63 223.26L449.8 224.45L449.98 225.65L450.15 226.87L450.33 228.09L450.5 229.34L450.67 229.4L450.85 229.4L451.02 229.4L451.19 229.4L451.37 229.4L451.54 229.4L451.71 229.4L451.89 229.4L452.06 229.4L452.24 229.4L452.41 229.4L452.58 229.4L452.76 229.4L452.93 229.4L453.1 229.4L453.28 229.4L453.45 229.4L453.62 229.4L453.8 229.4L453.97 229.4L454.15 229.4L454.32 229.4L454.49 229.4L454.67 229.4L454.84 229.4L455.01 229.4L455.19 229.4L455.36 229.4L455.53 229.4L455.71 229.4L455.88 229.4L456.05 229.4L456.23 229.4L456.4 229.4L456.58 229.4L456.75 229.4L456.92 229.4L457.1 229.4L457.27 229.4L457.44 229.4L457.62 229.4L457.79 229.4L457.96 229.4L458.14 229.4L458.31 229.4L458.49 229.4L458.66 229.4L458.83 229.4L459.01 229.4L459.18 229.4L459.35 229.4L459.53 229.4L459.7 229.4L459.87 229.4L460.05 229.4L460.22 229.4L460.39 229.4L460.57 229.4L460.74 229.4L460.92 229.4L461.09 229.4L461.26 229.4L461.44 229.4L461.61 229.4L461.78 229.4L461.96 229.4L462.13 229.4L462.3 229.4L462.48 229.4L462.65 229.4L462.83 229.4L463 229.4L463.17 229.4L463.35 229.4L463.52 229.4L463.69 229.4L463.87 229.4L464.04 229.4L464.21 229.4L464.39 229.4L464.56 229.4L464.74 229.4L464.91 229.4L465.08 229.4L465.26 229.4L465.43 229.4L465.6 229.4L465.78 229.4L465.95 229.4L466.12 229.4L466.3 229.4L466.47 229.4L466.64 229.4L466.82 229.4L466.99 229.4L467.17 229.4L467.34 229.4L467.51 229.4L467.69 229.4L467.86 229.4L468.03 229.4L468.21 229.4L468.38 229.4L468.55 229.4L468.73 229.4L468.9 229.4L469.08 229.4L469.25 229.4L469.42 229.4L469.6 229.4L469.77 229.4L469.94 229.4L470.12 229.4L470.29 229.4L470.46 229.4L470.64 229.4L470.81 229.4L470.99 229.4L471.16 229.4L471.33 229.4L471.51 229.4L471.68 229.4L471.85 229.4L472.03 229.4L472.2 229.4L472.37 229.4L472.55 229.4L472.72 229.4L472.89 229.4L473.07 229.4L473.24 229.4L473.42 229.4L473.59 229.4L473.76 229.4L473.94 229.4L474.11 229.4L474.28 229.4L474.46 229.4L474.63 229.4L474.8 229.4L474.98 229.4L475.15 229.4L475.33 229.4L475.5 229.4L475.67 229.4L475.85 229.4L476.02 229.4L476.19 229.4L476.37 229.4L476.54 229.4L476.71 229.4L476.89 229.4L477.06 229.4L477.23 229.4L477.41 229.4L477.58 229.4L477.76 229.4L477.93 229.4L478.1 229.4L478.28 229.4L478.45 229.4L478.62 229.4L478.8 229.4L478.97 229.4L479.14 229.4L479.32 229.4L479.49 229.4L479.67 229.4L479.84 229.4L480.01 229.4L480.19 229.4L480.36 229.4L480.53 229.4L480.71 229.4L480.88 229.4L481.05 229.4L481.23 229.4L481.4 229.4L481.58 229.4L481.75 229.4L481.92 229.4L482.1 229.4L482.27 229.4L482.44 229.4L482.62 229.4L482.79 229.4L482.96 229.4L483.14 229.4L483.31 229.4L483.48 229.4L483.66 229.4L483.83 229.4L484.01 229.4L484.18 229.4L484.35 229.4L484.53 229.4L484.7 229.4L484.87 229.4L485.05 229.4L485.22 229.4L485.39 229.4L485.57 229.4L485.74 229.4L485.92 229.4L486.09 229.4L486.26 229.4L486.44 229.4L486.61 229.4L486.78 229.4L486.96 229.4L487.13 229.4L487.3 229.4L487.48 229.4L487.65 229.4L487.83 229.4L488 229.4L488.17 229.4L488.35 229.4L488.52 229.4L488.69 229.4L488.87 229.4L489.04 229.4L489.21 229.4L489.39 229.4L489.56 229.4L489.73 229.4L489.91 229.4L490.08 229.4L490.26 229.4L490.43 229.4L490.6 229.4L490.78 229.4L490.95 229.4L491.12 229.4L491.3 229.4L491.47 229.4L491.64 229.4L491.82 229.4L491.99 229.4L492.17 229.4L492.34 229.4L492.51 229.4L492.69 229.4L492.86 229.4L493.03 229.4L493.21 229.4L493.38 229.4L493.55 229.4L493.73 229.4L493.9 229.4L494.07 229.4L494.25 229.4L494.42 229.4L494.6 229.4L494.77 229.4L494.94 229.4L495.12 229.4L495.29 229.4L495.46 229.4L495.64 229.4L495.81 229.4L495.98 229.4L496.16 229.4L496.33 229.4L496.51 229.4L496.68 229.4L496.85 229.4L497.03 229.4L497.2 229.4L497.37 229.4L497.55 229.4L497.72 229.4L497.89 229.4L498.07 229.4L498.24 229.4L498.42 229.4L498.59 229.4L498.76 229.4L498.94 229.4L499.11 229.4L499.28 229.4L499.46 229.4L499.63 229.4L499.8 229.4L499.98 229.4L500.15 229.4L500.32 229.4L500.5 229.4L500.67 229.4L500.85 229.4L501.02 229.4L501.19 229.4L501.37 229.4L501.54 229.4L501.71 229.4L501.89 229.4L502.06 229.4L502.23 229.4L502.41 229.4L502.58 229.4L502.76 229.4L502.93 229.4L503.1 229.4L503.28 229.4L503.45 229.4L503.62 229.4L503.8 229.4L503.97 229.4L504.14 229.4L504.32 229.4L504.49 229.4L504.67 229.4L504.84 229.4L505.01 229.4L505.19 229.4L505.36 229.4L505.53 229.4L505.71 229.4L505.88 229.4L506.05 229.4L506.23 229.4L506.4 229.4L506.57 229.4L506.75 229.4L506.92 229.4L507.1 229.4L507.27 229.4L507.44 229.4L507.62 229.4L507.79 229.4L507.96 229.4L508.14 229.4L508.31 229.4L508.48 229.4L508.66 229.4L508.83 229.4L509.01 229.4L509.18 229.4L509.35 229.4L509.53 229.4L509.7 229.4L509.87 229.4L510.05 229.4L510.22 229.4L510.39 229.4L510.57 229.4L510.74 229.4L510.92 229.4L511.09 229.4L511.26 229.4L511.44 229.4L511.61 229.4L511.78 229.4L511.96 229.4L512.13 229.4L512.3 229.4L512.48 229.4L512.65 229.4L512.82 229.4L513 229.4L513.17 229.4L513.35 229.4L513.52 229.4L513.69 229.4L513.87 229.4L514.04 229.4L514.21 229.4L514.39 229.4L514.56 229.4L514.73 229.4L514.91 229.4L515.08 229.4L515.26 229.4L515.43 229.4L515.6 229.4L515.78 229.4L515.95 229.4L516.12 229.4L516.3 229.4L516.47 229.4L516.64 229.4L516.82 229.4L516.99 229.4L517.16 229.4L517.34 229.4L517.51 229.4L517.69 229.4L517.86 229.4L518.03 229.4L518.21 229.4L518.38 229.4L518.55 229.4L518.73 229.4L518.9 229.4L519.07 229.4L519.25 229.4L519.42 229.4L519.6 229.4L519.77 229.4L519.94 229.4L520.12 229.4L520.29 229.4L520.46 229.4L520.64 229.4L520.81 229.4L520.98 229.4L521.16 229.4L521.33 229.4L521.51 229.4L521.68 229.4L521.85 229.4L522.03 229.4L522.2 229.4L522.37 229.4L522.55 229.4L522.72 229.4L522.89 229.4L523.07 229.4L523.24 229.4L523.41 229.4L523.59 229.4L523.76 229.4L523.94 229.4L524.11 229.4L524.28 229.4L524.46 229.4L524.63 229.4L524.8 229.4L524.98 229.4L525.15 229.4L525.32 229.4L525.5 229.4L525.67 229.4L525.85 229.4L526.02 229.4L526.19 229.4L526.37 229.4L526.54 229.4L526.71 229.4L526.89 229.4L527.06 229.4L527.23 229.4L527.41 229.4L527.58 229.4L527.76 229.4L527.93 229.4L528.1 229.4L528.28 229.4L528.45 229.4L528.62 229.4L528.8 229.4L528.97 229.4L529.14 229.4L529.32 229.4L529.49 229.4L529.66 229.4L529.84 229.4L530.01 229.4L530.19 229.4L530.36 229.4L530.53 229.4L530.71 229.4L530.88 229.4L531.05 229.4L531.23 229.4L531.4 229.4L531.57 229.4L531.75 229.4L531.92 229.4L532.1 229.4L532.27 229.4L532.44 229.4L532.62 229.4L532.79 229.4L532.96 229.4L533.14 229.4L533.31 229.4L533.48 229.4L533.66 229.4L533.83 229.4L534 229.4L534.18 229.4L534.35 229.4L534.53 229.4L534.7 229.4L534.87 229.4L535.05 229.4L535.22 229.4L535.39 229.4L535.57 229.4L535.74 229.4L535.91 229.4L536.09 229.4L536.26 229.4L536.44 229.4L536.61 229.4L536.78 229.4L536.96 229.4L537.13 229.4L537.3 229.4L537.48 229.4L537.65 229.4L537.82 229.4L538 229.4L538.17 229.4L538.35 229.4L538.52 229.4L538.69 229.4L538.87 229.4L539.04 229.4L539.21 229.4L539.39 229.4L539.56 229.4L539.73 229.4L539.91 229.4L540.08 229.4L540.25 229.4L540.43 229.4L540.6 229.4L540.78 229.4L540.95 229.4L541.12 229.4L541.3 229.4L541.47 229.4L541.64 229.4L541.82 229.4L541.99 229.4L542.16 229.4L542.34 229.4L542.51 229.4L542.69 229.4L542.86 229.4L543.03 229.4L543.21 229.4L543.38 229.4L543.55 229.4L543.73 229.4L543.9 229.4L544.07 229.4L544.25 229.4L544.42 229.4L544.6 229.4L544.77 229.4L544.94 229.4L545.12 229.4L545.29 229.4L545.46 229.4L545.64 229.4L545.81 229.4L545.98 229.4L546.16 229.4L546.33 229.4L546.5 229.4L546.68 229.4L546.85 229.4L547.03 229.4L547.2 229.4L547.37 229.4L547.55 229.4L547.72 229.4L547.89 229.4L548.07 229.4L548.24 229.4L548.41 229.4L548.59 229.4L548.76 229.4L548.94 229.4L549.11 229.4L549.28 229.4L549.46 229.4L549.63 229.4L549.8 229.4L549.98 229.4L550.15 229.4L550.32 229.4L550.5 229.4L550.67 229.4L550.84 229.4L551.02 229.4L551.19 229.4L551.37 229.4L551.54 229.4L551.71 229.4L551.89 229.4L552.06 229.4L552.23 229.4L552.41 229.4L552.58 229.4L552.75 229.4L552.93 229.4L553.1 229.4L553.28 229.4L553.45 229.4L553.62 229.4L553.8 229.4L553.97 229.4L554.14 229.4L554.32 229.4L554.49 229.4L554.66 229.4L554.84 229.4L555.01 229.4L555.19 229.4L555.36 229.4L555.53 229.4L555.71 229.4L555.88 229.4L556.05 229.4L556.23 229.4L556.4 229.4L556.57 229.4L556.75 229.4L556.92 229.4L557.09 229.4L557.27 229.4L557.44 229.4L557.62 229.4L557.79 229.4L557.96 229.4L558.14 229.4L558.31 229.4L558.48 229.4L558.66 229.4L558.83 229.4L559 229.4L559.18 229.4L559.35 229.4L559.53 229.4L559.7 229.4L559.87 229.4L560.05 229.4L560.22 229.4L560.39 229.4L560.57 229.4L560.74 229.4L560.91 229.4L561.09 229.4L561.26 229.4L561.44 229.4L561.61 229.4L561.78 229.4L561.96 229.4L562.13 229.4L562.3 229.4L562.48 229.4L562.65 229.4L562.82 229.4L563 229.4L563.17 229.4L563.34 229.4L563.52 229.4L563.69 229.4L563.87 229.4L564.04 229.4L564.21 229.4L564.39 229.4L564.56 229.4L564.73 229.4L564.91 229.4L565.08 229.4L565.25 229.4L565.43 229.4L565.6 229.4L565.78 229.4L565.95 229.4L566.12 229.4L566.3 229.4L566.47 229.4L566.64 229.4L566.82 229.4L566.99 229.4L567.16 229.4L567.34 229.4L567.51 229.4L567.68 229.4L567.86 229.4L568.03 229.4L568.21 229.4L568.38 229.4L568.55 229.4L568.73 229.4L568.9 229.4L569.07 229.4L569.25 229.4L569.42 229.4L569.59 229.4L569.77 229.4L569.94 229.4L570.12 229.4L570.29 229.4L570.46 229.4L570.64 229.4L570.81 229.4L570.98 229.4L571.16 229.4L571.33 229.4L571.5 229.4L571.68 229.4L571.85 229.4L572.03 229.4L572.2 229.4L572.37 229.4L572.55 229.4L572.72 229.4L572.89 229.4L573.07 229.4L573.24 229.4L573.41 229.4L573.59 229.4L573.76 229.4L573.93 229.4L574.11 229.4L574.28 229.4L574.46 229.4L574.63 229.4L574.8 229.4L574.98 229.4L575.15 229.4L575.32 229.4L575.5 229.4L575.67 229.4L575.84 229.4L576.02 229.4L576.19 229.4L576.37 229.4L576.54 229.4L576.71 229.4L576.89 229.4L577.06 229.4L577.23 229.4L577.41 229.4L577.58 229.4L577.75 229.4L577.93 229.4L578.1 229.4L578.28 229.4L578.45 229.4L578.62 229.4L578.8 229.4L578.97 229.4L579.14 229.4L579.32 229.4L579.49 229.4L579.66 229.4L579.84 229.4L580.01 229.4L580.18 229.4L580.36 229.4L580.53 229.4L580.71 229.4L580.88 229.4L581.05 229.4L581.23 229.4L581.4 229.4L581.57 229.4L581.75 229.4L581.92 229.4L582.09 229.4L582.27 229.4L582.44 229.4L582.62 229.4L582.79 229.4L582.96 229.4L583.14 229.4L583.31 229.4L583.48 229.4L583.66 229.4L583.83 229.4L584 229.4L584.18 229.4L584.35 229.4L584.53 229.4L584.7 229.4L584.87 229.4L585.05 229.4L585.22 229.4L585.39 229.4L585.57 229.4L585.74 229.4L585.91 229.4L586.09 229.4L586.26 229.4L586.43 229.4L586.61 229.4L586.78 229.4L586.96 229.4L587.13 229.4L587.3 229.4L587.48 229.4L587.65 229.4L587.82 229.4L588 229.4L588.17 229.4L588.34 229.4L588.52 229.4L588.69 229.4L588.87 229.4L589.04 229.4L589.21 229.4L589.39 229.4L589.56 229.4L589.73 229.4L589.91 229.4L590.08 229.4L590.25 229.4L590.43 229.4L590.6 229.4L590.77 229.4L590.95 229.4L591.12 229.4L591.3 229.4L591.47 229.4L591.64 229.4L591.82 229.4L591.99 229.4L592.16 229.4L592.34 229.4L592.51 229.4L592.68 229.4L592.86 229.4L593.03 229.4L593.21 229.4L593.38 229.4L593.55 229.4L593.73 229.4L593.9 229.4L594.07 229.4L594.25 229.4L594.42 229.4L594.59 229.4L594.77 229.4L594.94 229.4L595.12 229.4L595.29 229.4L595.46 229.4L595.64 229.4L595.81 229.4L595.98 229.4L596.16 229.4L596.33 229.4L596.5 229.4L596.68 229.4L596.85 229.4L597.02 229.4L597.2 229.4L597.37 229.4L597.55 229.4L597.72 229.4L597.89 229.4L598.07 229.4L598.24 229.4L598.41 229.4L598.59 229.4L598.76 229.4L598.93 229.4L599.11 229.4L599.28 229.4L599.46 229.4L599.63 229.4L599.8 229.4L599.98 229.4L600.15 229.4L600.32 229.4L600.5 229.4L600.67 229.4L600.84 229.4L601.02 229.4L601.19 229.4L601.37 229.4L601.54 229.4L601.71 229.4L601.89 229.4L602.06 229.4L602.23 229.4L602.41 229.4L602.58 229.4L602.75 229.4L602.93 229.4L603.1 229.4L603.27 229.4L603.45 229.4L603.62 229.4L603.8 229.4L603.97 229.4L604.14 229.4L604.32 229.4L604.49 229.4L604.66 229.4L604.84 229.4L605.01 229.4L605.18 229.4L605.36 229.4L605.53 229.4L605.71 229.4L605.88 229.4L606.05 229.4L606.23 229.4L606.4 229.4L606.57 229.4L606.75 229.4L606.92 229.4L607.09 229.4L607.27 229.4L607.44 229.4L607.61 229.4L607.79 229.4L607.96 229.4L608.14 229.4L608.31 229.4L608.48 229.4L608.66 229.4L608.83 229.4L609 229.4L609.18 229.4L609.35 229.4L609.52 229.4L609.7 229.4L609.87 229.4L610.05 229.4L610.22 229.4L610.39 229.4L610.57 229.4L610.74 229.4L610.91 229.4L611.09 229.4L611.26 229.4L611.43 229.4L611.61 229.4L611.78 229.4L611.96 229.4L612.13 229.4L612.3 229.4L612.48 229.4L612.65 229.4L612.82 229.4L613 229.4L613.17 229.4L613.34 229.4L613.52 229.4L613.69 229.4L613.86 229.4L614.04 229.4L614.21 229.4L614.39 229.4L614.56 229.4L614.73 229.4L614.91 229.4L615.08 229.4L615.25 229.4L615.43 229.4L615.6 229.4L615.77 229.4L615.95 229.4L616.12 229.4L616.3 229.4L616.47 229.4L616.64 229.4L616.82 229.4L616.99 229.4L617.16 229.4L617.34 229.4L617.51 229.4L617.68 229.4L617.86 229.4L618.03 229.4L618.21 229.4L618.38 229.4L618.55 229.4L618.73 229.4L618.9 229.4L619.07 229.4L619.25 229.4L619.42 229.4L619.59 229.4L619.77 229.4L619.94 229.4L620.11 229.4L620.29 229.4L620.46 229.4L620.64 229.4L620.81 229.4L620.98 229.4L621.16 229.4L621.33 229.4L621.5 229.4L621.68 229.4L621.85 229.4L622.02 229.4L622.2 229.4L622.37 229.4L622.55 229.4L622.72 229.4L622.89 229.4L623.07 229.4L623.24 229.4L623.41 229.4L623.59 229.4L623.76 229.4L623.93 229.4L624.11 229.4L624.28 229.4L624.45 229.4L624.63 229.4L624.8 229.4L624.98 229.4L625.15 229.4L625.32 229.4L625.5 229.4L625.67 229.4L625.84 229.4L626.02 229.4L626.19 229.4L626.36 229.4L626.54 229.4L626.71 229.4L626.89 229.4L627.06 229.4L627.23 229.4L627.41 229.4L627.58 229.4L627.75 229.4L627.93 229.4L628.1 229.4L628.27 229.4L628.45 229.4L628.62 229.4L628.8 229.4L628.97 229.4L629.14 229.4L629.32 229.4L629.49 229.4L629.66 229.4L629.84 229.4L630.01 229.4L630.18 229.4L630.36 229.4L630.53 229.4L630.7 229.4L630.88 229.4L631.05 229.4L631.23 229.4L631.4 229.4L631.57 229.4L631.75 229.4L631.92 229.4L632.09 229.4L632.27 229.4L632.44 229.4L632.61 229.4L632.79 229.4L632.96 229.4L633.14 229.4L633.31 229.4L633.48 229.4L633.66 229.4L633.83 229.4L634 229.4L634.18 229.4L634.35 229.4L634.52 229.4L634.7 229.4L634.87 229.4L635.05 229.4L635.22 229.4L635.39 229.4L635.57 229.4L635.74 229.4L635.91 229.4L636.09 229.4L636.26 229.4L636.43 229.4L636.61 229.4L636.78 229.4L636.95 229.4L637.13 229.4L637.3 229.4L637.48 229.4L637.65 229.4L637.82 229.4L638 229.4L638.17 229.4L638.34 229.4L638.52 229.4L638.69 229.4L638.86 229.4L639.04 229.4L639.21 229.4L639.39 229.4L639.56 229.4L639.73 229.4L639.91 229.4L640.08 229.4L640.25 229.4L640.43 229.4L640.6 229.4L640.77 229.4L640.95 229.4L641.12 229.4L641.29 229.4L641.47 229.4L641.64 229.4L641.82 229.4L641.99 229.4L642.16 229.4L642.34 229.4L642.51 229.4L642.68 229.4L642.86 229.4L643.03 229.4L643.2 229.4L643.38 229.4L643.55 229.4L643.73 229.4L643.9 229.4L644.07 229.4L644.25 229.4L644.42 229.4L644.59 229.4L644.77 229.4L644.94 229.4L645.11 229.4L645.29 229.4L645.46 229.4L645.64 229.4L645.81 229.4L645.98 229.4L646.16 229.4L646.33 229.4L646.5 229.4L646.68 229.4L646.85 229.4L647.02 229.4L647.2 229.4L647.37 229.4L647.54 229.4L647.72 229.4L647.89 229.4L648.07 229.4L648.24 229.4L648.41 229.4L648.59 229.4L648.76 229.4L648.93 229.4L649.11 229.4L649.28 229.4L649.45 229.4L649.63 229.4L649.8 229.4L649.98 229.4L650.15 229.4L650.32 229.4L650.5 229.4L650.67 229.4L650.84 229.4L651.02 229.4L651.19 229.4L651.36 229.4L651.54 229.4L651.71 229.4L651.89 229.4L652.06 229.4L652.23 229.4L652.41 229.4L652.58 229.4L652.75 229.4L652.93 229.4L653.1 229.4L653.27 229.4L653.45 229.4L653.62 229.4L653.79 229.4L653.97 229.4L654.14 229.4L654.32 229.4L654.49 229.4L654.66 229.4L654.84 229.4L655.01 229.4L655.18 229.4L655.36 229.4L655.53 229.4L655.7 229.4L655.88 229.4L656.05 229.4L656.23 229.4L656.4 229.4L656.57 229.4L656.75 229.4L656.92 229.4L657.09 229.4L657.27 229.4L657.44 229.4L657.61 229.4L657.79 229.4L657.96 229.4L658.14 229.4L658.31 229.4L658.48 229.4L658.66 229.4L658.83 229.4L659 229.4L659.18 229.4L659.35 229.4L659.52 229.4L659.7 229.4L659.87 229.4L660.04 229.4L660.22 229.4L660.39 229.4L660.57 229.4L660.74 229.4L660.91 229.4L661.09 229.4L661.26 229.4L661.43 229.4L661.61 229.4L661.78 229.4L661.95 229.4L662.13 229.4L662.3 229.4L662.48 229.4L662.65 229.4L662.82 229.4L663 229.4L663.17 229.4L663.34 229.4L663.52 229.4L663.69 229.4L663.86 229.4L664.04 229.4L664.21 229.4L664.38 229.4L664.56 229.4L664.73 229.4L664.91 229.4L665.08 229.4L665.25 229.4L665.43 229.4L665.6 229.4L665.77 229.4L665.95 229.4L666.12 229.4L666.29 229.4L666.47 229.4L666.64 229.4L666.82 229.4L666.99 229.4L667.16 229.4L667.34 229.4L667.51 229.4L667.68 229.4L667.86 229.4L668.03 229.4L668.2 229.4L668.38 229.4L668.55 229.4L668.73 229.4L668.9 229.4L669.07 229.4L669.25 229.4L669.42 229.4L669.59 229.4L669.77 229.4L669.94 229.4L670.11 229.4L670.29 229.4L670.46 229.4L670.63 229.4L670.81 229.4L670.98 229.4L671.16 229.4L671.33 229.4L671.5 229.4L671.68 229.4L671.85 229.4L672.02 229.4L672.2 229.4L672.37 229.4L672.54 229.4L672.72 229.4L672.89 229.4L673.07 229.4L673.24 229.4L673.41 229.4L673.59 229.4L673.76 229.4L673.93 229.4L674.11 229.4L674.28 229.4L674.45 229.4L674.63 229.4L674.8 229.4L674.98 229.4L675.15 229.4L675.32 229.4L675.5 229.4L675.67 229.4L675.84 229.4L676.02 229.4L676.19 229.4L676.36 229.4L676.54 229.4L676.71 229.4L676.88 229.4L677.06 229.4L677.23 229.4L677.41 229.4L677.58 229.4L677.75 229.4L677.93 229.4L678.1 229.4" stroke="#5a5aa0" stroke-width="1.4" stroke-dasharray="2.7 1.8 0.8 1.8"/><path d="M400.5 229.4L400.67 229.4L400.85 229.4L401.02 229.4L401.19 229.4L401.37 229.4L401.54 229.4L401.72 229.4L401.89 229.4L402.06 229.4L402.24 229.4L402.41 229.4L402.58 229.4L402.76 229.4L402.93 229.4L403.1 229.4L403.28 229.4L403.45 229.4L403.62 229.4L403.8 229.4L403.97 229.4L404.15 229.4L404.32 229.4L404.49 229.4L404.67 229.4L404.84 229.4L405.01 229.4L405.19 229.4L405.36 229.4L405.53 229.4L405.71 229.4L405.88 229.4L406.06 229.4L406.23 229.4L406.4 229.4L406.58 229.4L406.75 229.4L406.92 229.4L407.1 229.4L407.27 229.4L407.44 229.4L407.62 229.4L407.79 229.4L407.97 229.4L408.14 229.4L408.31 229.4L408.49 229.4L408.66 229.4L408.83 229.4L409.01 229.4L409.18 229.4L409.35 229.4L409.53 229.4L409.7 229.4L409.87 229.4L410.05 229.4L410.22 229.4L410.4 229.4L410.57 229.4L410.74 229.4L410.92 229.4L411.09 229.4L411.26 229.4L411.44 229.4L411.61 229.4L411.78 229.4L411.96 229.4L412.13 229.4L412.31 229.4L412.48 229.4L412.65 229.4L412.83 229.4L413 229.4L413.17 229.4L413.35 229.4L413.52 229.4L413.69 229.4L413.87 229.4L414.04 229.4L414.22 229.4L414.39 229.4L414.56 229.4L414.74 229.4L414.91 229.4L415.08 229.4L415.26 229.4L415.43 229.4L415.6 229.4L415.78 229.4L415.95 229.4L416.12 229.4L416.3 229.4L416.47 229.4L416.65 229.4L416.82 229.4L416.99 229.4L417.17 229.4L417.34 229.4L417.51 229.4L417.69 229.4L417.86 229.4L418.03 229.4L418.21 229.4L418.38 229.4L418.56 229.4L418.73 229.4L418.9 229.4L419.08 229.4L419.25 229.4L419.42 229.4L419.6 229.4L419.77 229.4L419.94 229.4L420.12 229.4L420.29 229.4L420.46 229.4L420.64 229.4L420.81 229.4L420.99 229.4L421.16 229.4L421.33 229.4L421.51 229.4L421.68 229.4L421.85 229.4L422.03 229.4L422.2 229.4L422.37 229.4L422.55 229.4L422.72 229.4L422.9 229.4L423.07 229.4L423.24 229.4L423.42 229.4L423.59 229.4L423.76 229.28L423.94 228.23L424.11 227.2L424.28 226.18L424.46 225.17L424.63 224.17L424.81 223.19L424.98 222.22L425.15 221.26L425.33 220.31L425.5 219.37L425.67 218.45L425.85 217.54L426.02 216.63L426.19 215.74L426.37 214.86L426.54 213.98L426.71 213.11L426.89 212.23L427.06 211.35L427.24 210.45L427.41 209.53L427.58 208.55L427.76 207.49L427.93 206.33L428.1 205.02L428.28 203.51L428.45 201.75L428.62 199.69L428.8 197.31L428.97 194.59L429.15 191.54L429.32 188.19L429.49 184.59L429.67 180.81L429.84 176.91L430.01 172.94L430.19 168.94L430.36 164.95L430.53 161L430.71 157.12L430.88 153.31L431.06 149.59L431.23 145.98L431.4 142.47L431.58 139.06L431.75 135.78L431.92 132.6L432.1 129.55L432.27 126.61L432.44 123.79L432.62 121.09L432.79 118.5L432.96 116.03L433.14 113.67L433.31 111.43L433.49 109.31L433.66 107.29L433.83 105.39L434.01 103.59L434.18 101.91L434.35 100.32L434.53 98.84L434.7 97.47L434.87 96.19L435.05 95L435.22 93.91L435.4 92.91L435.57 92L435.74 91.17L435.92 90.42L436.09 89.74L436.26 89.14L436.44 88.61L436.61 88.15L436.78 87.75L436.96 87.4L437.13 87.11L437.31 86.86L437.48 86.66L437.65 86.5L437.83 86.38L438 86.29L438.17 86.23L438.35 86.19L438.52 86.17L438.69 86.18L438.87 86.2L439.04 86.23L439.21 86.28L439.39 86.33L439.56 86.39L439.74 86.46L439.91 86.54L440.08 86.61L440.26 86.69L440.43 86.78L440.6 86.86L440.78 86.95L440.95 87.04L441.12 87.12L441.3 87.21L441.47 87.3L441.65 87.39L441.82 87.48L441.99 87.57L442.17 87.66L442.34 87.75L442.51 87.84L442.69 87.93L442.86 88.02L443.03 88.11L443.21 88.2L443.38 88.29L443.55 88.38L443.73 88.47L443.9 88.56L444.08 88.65L444.25 88.74L444.42 88.83L444.6 88.92L444.77 89.01L444.94 89.1L445.12 89.19L445.29 89.28L445.46 89.37L445.64 89.46L445.81 89.55L445.99 89.64L446.16 89.73L446.33 89.82L446.51 89.91L446.68 90L446.85 90.09L447.03 90.17L447.2 90.26L447.37 90.35L447.55 90.44L447.72 90.53L447.9 90.62L448.07 90.71L448.24 90.8L448.42 90.89L448.59 90.98L448.76 91.07L448.94 91.16L449.11 91.25L449.28 91.34L449.46 91.43L449.63 91.52L449.8 91.61L449.98 91.7L450.15 91.79L450.33 91.88L450.5 91.97L450.67 92.06L450.85 92.15L451.02 92.24L451.19 92.33L451.37 92.42L451.54 92.51L451.71 92.6L451.89 92.69L452.06 92.78L452.24 92.87L452.41 92.96L452.58 93.05L452.76 93.14L452.93 93.23L453.1 93.32L453.28 93.41L453.45 93.5L453.62 93.59L453.8 93.68L453.97 93.77L454.15 93.86L454.32 93.95L454.49 94.04L454.67 94.13L454.84 94.22L455.01 94.31L455.19 94.4L455.36 94.49L455.53 94.58L455.71 94.67L455.88 94.76L456.05 94.85L456.23 94.94L456.4 95.03L456.58 95.12L456.75 95.21L456.92 95.3L457.1 95.39L457.27 95.48L457.44 95.57L457.62 95.66L457.79 95.75L457.96 95.84L458.14 95.93L458.31 96.02L458.49 96.11L458.66 96.2L458.83 96.29L459.01 96.38L459.18 96.47L459.35 96.56L459.53 96.65L459.7 96.74L459.87 96.83L460.05 96.92L460.22 97.01L460.39 97.1L460.57 97.19L460.74 97.28L460.92 97.37L461.09 97.46L461.26 97.55L461.44 97.64L461.61 97.73L461.78 97.82L461.96 97.91L462.13 98L462.3 98.09L462.48 98.18L462.65 98.27L462.83 98.36L463 98.45L463.17 98.54L463.35 98.63L463.52 98.72L463.69 98.81L463.87 98.9L464.04 98.99L464.21 99.08L464.39 99.17L464.56 99.26L464.74 99.35L464.91 99.44L465.08 99.53L465.26 99.62L465.43 99.71L465.6 99.8L465.78 99.89L465.95 99.98L466.12 100.07L466.3 100.16L466.47 100.25L466.64 100.34L466.82 100.43L466.99 100.52L467.17 100.61L467.34 100.7L467.51 100.79L467.69 100.88L467.86 100.97L468.03 101.06L468.21 101.15L468.38 101.24L468.55 101.33L468.73 101.42L468.9 101.51L469.08 101.6L469.25 101.69L469.42 101.78L469.6 101.87L469.77 101.96L469.94 102.05L470.12 102.14L470.29 102.23L470.46 102.32L470.64 102.41L470.81 102.5L470.99 102.59L471.16 102.68L471.33 102.77L471.51 102.86L471.68 102.95L471.85 103.04L472.03 103.13L472.2 103.22L472.37 103.31L472.55 103.4L472.72 103.49L472.89 103.58L473.07 103.67L473.24 103.76L473.42 103.85L473.59 103.94L473.76 104.03L473.94 104.12L474.11 104.21L474.28 104.3L474.46 104.39L474.63 104.48L474.8 104.57L474.98 104.66L475.15 104.75L475.33 104.84L475.5 104.93L475.67 105.02L475.85 105.11L476.02 105.2L476.19 105.29L476.37 105.38L476.54 105.47L476.71 105.56L476.89 105.65L477.06 105.74L477.23 105.83L477.41 105.92L477.58 106.01L477.76 106.1L477.93 106.19L478.1 106.28L478.28 106.37L478.45 106.46L478.62 106.55L478.8 106.64L478.97 106.73L479.14 106.82L479.32 106.91L479.49 107L479.67 107.09L479.84 107.18L480.01 107.27L480.19 107.36L480.36 107.45L480.53 107.53L480.71 107.62L480.88 107.71L481.05 107.8L481.23 107.89L481.4 107.98L481.58 108.07L481.75 108.16L481.92 108.25L482.1 108.34L482.27 108.43L482.44 108.52L482.62 108.61L482.79 108.7L482.96 108.79L483.14 108.88L483.31 108.97L483.48 109.06L483.66 109.15L483.83 109.24L484.01 109.33L484.18 109.42L484.35 109.51L484.53 109.6L484.7 109.69L484.87 109.78L485.05 109.87L485.22 109.96L485.39 110.05L485.57 110.14L485.74 110.23L485.92 110.32L486.09 110.41L486.26 110.5L486.44 110.59L486.61 110.68L486.78 110.77L486.96 110.86L487.13 110.95L487.3 111.04L487.48 111.13L487.65 111.22L487.83 111.31L488 111.4L488.17 111.49L488.35 111.58L488.52 111.67L488.69 111.76L488.87 111.85L489.04 111.94L489.21 112.03L489.39 112.12L489.56 112.21L489.73 112.3L489.91 112.39L490.08 112.48L490.26 112.57L490.43 112.66L490.6 112.75L490.78 112.84L490.95 112.93L491.12 113.02L491.3 113.11L491.47 113.2L491.64 113.29L491.82 113.38L491.99 113.47L492.17 113.56L492.34 113.65L492.51 113.74L492.69 113.83L492.86 113.92L493.03 114.01L493.21 114.1L493.38 114.19L493.55 114.28L493.73 114.37L493.9 114.46L494.07 114.55L494.25 114.64L494.42 114.73L494.6 114.82L494.77 114.91L494.94 115L495.12 115.09L495.29 115.18L495.46 115.27L495.64 115.36L495.81 115.45L495.98 115.54L496.16 115.63L496.33 115.72L496.51 115.81L496.68 115.9L496.85 115.99L497.03 116.08L497.2 116.17L497.37 116.26L497.55 116.35L497.72 116.44L497.89 116.53L498.07 116.62L498.24 116.71L498.42 116.8L498.59 116.89L498.76 116.98L498.94 117.07L499.11 117.16L499.28 117.25L499.46 117.34L499.63 117.43L499.8 117.52L499.98 117.61L500.15 117.7L500.32 117.79L500.5 117.88L500.67 117.97L500.85 118.06L501.02 118.15L501.19 118.24L501.37 118.33L501.54 118.42L501.71 118.51L501.89 118.6L502.06 118.69L502.23 118.78L502.41 118.87L502.58 118.96L502.76 119.05L502.93 119.14L503.1 119.23L503.28 119.32L503.45 119.41L503.62 119.5L503.8 119.59L503.97 119.68L504.14 119.77L504.32 119.86L504.49 119.95L504.67 120.04L504.84 120.13L505.01 120.22L505.19 120.31L505.36 120.4L505.53 120.49L505.71 120.58L505.88 120.67L506.05 120.76L506.23 120.85L506.4 120.94L506.57 121.03L506.75 121.12L506.92 121.21L507.1 121.3L507.27 121.39L507.44 121.48L507.62 121.57L507.79 121.66L507.96 121.75L508.14 121.84L508.31 121.93L508.48 122.02L508.66 122.11L508.83 122.2L509.01 122.29L509.18 122.38L509.35 122.47L509.53 122.56L509.7 122.65L509.87 122.74L510.05 122.83L510.22 122.92L510.39 123.01L510.57 123.1L510.74 123.19L510.92 123.28L511.09 123.37L511.26 123.46L511.44 123.55L511.61 123.64L511.78 123.73L511.96 123.82L512.13 123.91L512.3 124L512.48 124.09L512.65 124.18L512.82 124.27L513 124.36L513.17 124.45L513.35 124.54L513.52 124.63L513.69 124.72L513.87 124.81L514.04 124.9L514.21 124.99L514.39 125.08L514.56 125.17L514.73 125.26L514.91 125.35L515.08 125.44L515.26 125.53L515.43 125.62L515.6 125.7L515.78 125.79L515.95 125.88L516.12 125.97L516.3 126.06L516.47 126.15L516.64 126.24L516.82 126.33L516.99 126.42L517.16 126.51L517.34 126.6L517.51 126.69L517.69 126.78L517.86 126.87L518.03 126.96L518.21 127.05L518.38 127.14L518.55 127.23L518.73 127.32L518.9 127.41L519.07 127.5L519.25 127.59L519.42 127.68L519.6 127.77L519.77 127.86L519.94 127.95L520.12 128.04L520.29 128.13L520.46 128.22L520.64 128.31L520.81 128.4L520.98 128.49L521.16 128.58L521.33 128.67L521.51 128.76L521.68 128.85L521.85 128.94L522.03 129.03L522.2 129.12L522.37 129.21L522.55 129.3L522.72 129.39L522.89 129.48L523.07 129.57L523.24 129.66L523.41 129.75L523.59 129.84L523.76 129.93L523.94 130.02L524.11 130.11L524.28 130.2L524.46 130.29L524.63 130.38L524.8 130.47L524.98 130.56L525.15 130.65L525.32 130.74L525.5 130.83L525.67 130.92L525.85 131.01L526.02 131.1L526.19 131.19L526.37 131.28L526.54 131.37L526.71 131.46L526.89 131.55L527.06 131.64L527.23 131.73L527.41 131.82L527.58 131.91L527.76 132L527.93 132.09L528.1 132.18L528.28 132.27L528.45 132.36L528.62 132.45L528.8 132.54L528.97 132.63L529.14 132.72L529.32 132.81L529.49 132.9L529.66 132.99L529.84 133.08L530.01 133.17L530.19 133.26L530.36 133.35L530.53 133.44L530.71 133.53L530.88 133.62L531.05 133.71L531.23 133.8L531.4 133.89L531.57 133.98L531.75 134.07L531.92 134.16L532.1 134.25L532.27 134.34L532.44 134.43L532.62 134.52L532.79 134.61L532.96 134.7L533.14 134.79L533.31 134.88L533.48 134.97L533.66 135.06L533.83 135.15L534 135.24L534.18 135.33L534.35 135.42L534.53 135.51L534.7 135.6L534.87 135.69L535.05 135.78L535.22 135.87L535.39 135.96L535.57 136.05L535.74 136.14L535.91 136.23L536.09 136.32L536.26 136.41L536.44 136.5L536.61 136.59L536.78 136.68L536.96 136.77L537.13 136.86L537.3 136.95L537.48 137.04L537.65 137.13L537.82 137.22L538 137.31L538.17 137.4L538.35 137.49L538.52 137.58L538.69 137.67L538.87 137.76L539.04 137.85L539.21 137.94L539.39 138.03L539.56 138.12L539.73 138.21L539.91 138.3L540.08 138.39L540.25 138.48L540.43 138.57L540.6 138.66L540.78 138.75L540.95 138.84L541.12 138.93L541.3 139.02L541.47 139.11L541.64 139.2L541.82 139.29L541.99 139.38L542.16 139.47L542.34 139.56L542.51 139.65L542.69 139.74L542.86 139.83L543.03 139.92L543.21 140.01L543.38 140.1L543.55 140.19L543.73 140.28L543.9 140.37L544.07 140.46L544.25 140.55L544.42 140.64L544.6 140.73L544.77 140.82L544.94 140.91L545.12 141L545.29 141.09L545.46 141.18L545.64 141.27L545.81 141.36L545.98 141.45L546.16 141.54L546.33 141.63L546.5 141.72L546.68 141.81L546.85 141.9L547.03 141.99L547.2 142.08L547.37 142.17L547.55 142.26L547.72 142.35L547.89 142.44L548.07 142.53L548.24 142.62L548.41 142.71L548.59 142.8L548.76 142.89L548.94 142.98L549.11 143.07L549.28 143.16L549.46 143.25L549.63 143.34L549.8 143.43L549.98 143.52L550.15 143.61L550.32 143.7L550.5 143.79L550.67 143.87L550.84 143.96L551.02 144.05L551.19 144.14L551.37 144.23L551.54 144.32L551.71 144.41L551.89 144.5L552.06 144.59L552.23 144.68L552.41 144.77L552.58 144.86L552.75 144.95L552.93 145.04L553.1 145.13L553.28 145.22L553.45 145.31L553.62 145.4L553.8 145.49L553.97 145.58L554.14 145.67L554.32 145.76L554.49 145.85L554.66 145.94L554.84 146.03L555.01 146.12L555.19 146.21L555.36 146.3L555.53 146.39L555.71 146.48L555.88 146.57L556.05 146.66L556.23 146.75L556.4 146.84L556.57 146.93L556.75 147.02L556.92 147.11L557.09 147.2L557.27 147.29L557.44 147.38L557.62 147.47L557.79 147.56L557.96 147.65L558.14 147.74L558.31 147.83L558.48 147.92L558.66 148.01L558.83 148.1L559 148.19L559.18 148.28L559.35 148.37L559.53 148.46L559.7 148.55L559.87 148.64L560.05 148.73L560.22 148.82L560.39 148.91L560.57 149L560.74 149.09L560.91 149.18L561.09 149.27L561.26 149.36L561.44 149.45L561.61 149.54L561.78 149.63L561.96 149.72L562.13 149.81L562.3 149.9L562.48 149.99L562.65 150.08L562.82 150.17L563 150.26L563.17 150.35L563.34 150.44L563.52 150.53L563.69 150.62L563.87 150.71L564.04 150.8L564.21 150.89L564.39 150.98L564.56 151.07L564.73 151.16L564.91 151.25L565.08 151.34L565.25 151.43L565.43 151.52L565.6 151.61L565.78 151.7L565.95 151.79L566.12 151.88L566.3 151.97L566.47 152.06L566.64 152.15L566.82 152.24L566.99 152.33L567.16 152.42L567.34 152.51L567.51 152.6L567.68 152.69L567.86 152.78L568.03 152.87L568.21 152.96L568.38 153.05L568.55 153.14L568.73 153.23L568.9 153.32L569.07 153.41L569.25 153.5L569.42 153.59L569.59 153.68L569.77 153.77L569.94 153.86L570.12 153.95L570.29 154.04L570.46 154.13L570.64 154.22L570.81 154.31L570.98 154.4L571.16 154.49L571.33 154.58L571.5 154.67L571.68 154.76L571.85 154.85L572.03 154.94L572.2 155.03L572.37 155.12L572.55 155.21L572.72 155.3L572.89 155.39L573.07 155.48L573.24 155.57L573.41 155.66L573.59 155.75L573.76 155.84L573.93 155.93L574.11 156.02L574.28 156.11L574.46 156.2L574.63 156.29L574.8 156.38L574.98 156.47L575.15 156.56L575.32 156.65L575.5 156.74L575.67 156.83L575.84 156.92L576.02 157.01L576.19 157.1L576.37 157.19L576.54 157.28L576.71 157.37L576.89 157.46L577.06 157.55L577.23 157.64L577.41 157.73L577.58 157.82L577.75 157.91L577.93 158L578.1 158.09L578.28 158.18L578.45 158.27L578.62 158.36L578.8 158.45L578.97 158.54L579.14 158.63L579.32 158.72L579.49 158.81L579.66 158.9L579.84 158.99L580.01 159.08L580.18 159.17L580.36 159.26L580.53 159.35L580.71 159.44L580.88 159.53L581.05 159.62L581.23 159.71L581.4 159.8L581.57 159.89L581.75 159.98L581.92 160.07L582.09 160.16L582.27 160.25L582.44 160.34L582.62 160.43L582.79 160.52L582.96 160.61L583.14 160.7L583.31 160.79L583.48 160.88L583.66 160.97L583.83 161.06L584 161.15L584.18 161.24L584.35 161.33L584.53 161.42L584.7 161.51L584.87 161.6L585.05 161.69L585.22 161.78L585.39 161.87L585.57 161.96L585.74 162.05L585.91 162.13L586.09 162.22L586.26 162.31L586.43 162.4L586.61 162.49L586.78 162.58L586.96 162.67L587.13 162.76L587.3 162.85L587.48 162.94L587.65 163.03L587.82 163.12L588 163.21L588.17 163.3L588.34 163.39L588.52 163.48L588.69 163.57L588.87 163.66L589.04 163.75L589.21 163.84L589.39 163.93L589.56 164.02L589.73 164.11L589.91 164.2L590.08 164.29L590.25 164.38L590.43 164.47L590.6 164.56L590.77 164.65L590.95 164.74L591.12 164.83L591.3 164.92L591.47 165.01L591.64 165.1L591.82 165.19L591.99 165.28L592.16 165.37L592.34 165.46L592.51 165.55L592.68 165.64L592.86 165.73L593.03 165.82L593.21 165.91L593.38 166L593.55 166.09L593.73 166.18L593.9 166.27L594.07 166.36L594.25 166.45L594.42 166.54L594.59 166.63L594.77 166.72L594.94 166.81L595.12 166.9L595.29 166.99L595.46 167.08L595.64 167.17L595.81 167.26L595.98 167.35L596.16 167.44L596.33 167.53L596.5 167.62L596.68 167.71L596.85 167.8L597.02 167.89L597.2 167.98L597.37 168.07L597.55 168.16L597.72 168.25L597.89 168.34L598.07 168.43L598.24 168.52L598.41 168.61L598.59 168.7L598.76 168.79L598.93 168.88L599.11 168.97L599.28 169.06L599.46 169.15L599.63 169.24L599.8 169.33L599.98 169.42L600.15 169.51L600.32 169.6L600.5 169.69L600.67 169.78L600.84 169.87L601.02 169.96L601.19 170.05L601.37 170.14L601.54 170.23L601.71 170.32L601.89 170.41L602.06 170.5L602.23 170.59L602.41 170.68L602.58 170.77L602.75 170.86L602.93 170.95L603.1 171.04L603.27 171.13L603.45 171.22L603.62 171.31L603.8 171.4L603.97 171.49L604.14 171.58L604.32 171.67L604.49 171.76L604.66 171.85L604.84 171.94L605.01 172.03L605.18 172.12L605.36 172.21L605.53 172.3L605.71 172.39L605.88 172.48L606.05 172.57L606.23 172.66L606.4 172.75L606.57 172.84L606.75 172.93L606.92 173.02L607.09 173.11L607.27 173.2L607.44 173.29L607.61 173.38L607.79 173.47L607.96 173.56L608.14 173.65L608.31 173.74L608.48 173.83L608.66 173.92L608.83 174.01L609 174.1L609.18 174.19L609.35 174.28L609.52 174.37L609.7 174.46L609.87 174.55L610.05 174.64L610.22 174.73L610.39 174.82L610.57 174.91L610.74 175L610.91 175.09L611.09 175.18L611.26 175.27L611.43 175.36L611.61 175.45L611.78 175.54L611.96 175.63L612.13 175.72L612.3 175.81L612.48 175.9L612.65 175.99L612.82 176.08L613 176.17L613.17 176.26L613.34 176.35L613.52 176.44L613.69 176.53L613.86 176.62L614.04 176.71L614.21 176.8L614.39 176.89L614.56 176.98L614.73 177.07L614.91 177.16L615.08 177.25L615.25 177.34L615.43 177.43L615.6 177.52L615.77 177.61L615.95 177.7L616.12 177.79L616.3 177.88L616.47 177.97L616.64 178.06L616.82 178.15L616.99 178.24L617.16 178.33L617.34 178.42L617.51 178.51L617.68 178.6L617.86 178.69L618.03 178.78L618.21 178.87L618.38 178.96L618.55 179.05L618.73 179.14L618.9 179.23L619.07 179.32L619.25 179.41L619.42 179.5L619.59 179.59L619.77 179.68L619.94 179.77L620.11 179.86L620.29 179.95L620.46 180.04L620.64 180.13L620.81 180.22L620.98 180.3L621.16 180.39L621.33 180.48L621.5 180.57L621.68 180.66L621.85 180.75L622.02 180.84L622.2 180.93L622.37 181.02L622.55 181.11L622.72 181.2L622.89 181.29L623.07 181.38L623.24 181.47L623.41 181.56L623.59 181.65L623.76 181.74L623.93 181.83L624.11 181.92L624.28 182.01L624.45 182.1L624.63 182.19L624.8 182.28L624.98 182.37L625.15 182.46L625.32 182.55L625.5 182.64L625.67 182.73L625.84 182.82L626.02 182.91L626.19 183L626.36 183.09L626.54 183.18L626.71 183.27L626.89 183.36L627.06 183.45L627.23 183.54L627.41 183.63L627.58 183.72L627.75 183.81L627.93 183.9L628.1 183.99L628.27 184.08L628.45 184.17L628.62 184.26L628.8 184.35L628.97 184.44L629.14 184.53L629.32 184.62L629.49 184.71L629.66 184.8L629.84 184.89L630.01 184.98L630.18 185.07L630.36 185.16L630.53 185.25L630.7 185.34L630.88 185.43L631.05 185.52L631.23 185.61L631.4 185.7L631.57 185.79L631.75 185.88L631.92 185.97L632.09 186.06L632.27 186.15L632.44 186.24L632.61 186.33L632.79 186.42L632.96 186.51L633.14 186.6L633.31 186.69L633.48 186.78L633.66 186.87L633.83 186.96L634 187.05L634.18 187.14L634.35 187.23L634.52 187.32L634.7 187.41L634.87 187.5L635.05 187.59L635.22 187.68L635.39 187.77L635.57 187.86L635.74 187.95L635.91 188.04L636.09 188.13L636.26 188.22L636.43 188.31L636.61 188.4L636.78 188.49L636.95 188.58L637.13 188.67L637.3 188.76L637.48 188.85L637.65 188.94L637.82 189.03L638 189.12L638.17 189.21L638.34 189.3L638.52 189.39L638.69 189.48L638.86 189.57L639.04 189.66L639.21 189.75L639.39 189.84L639.56 189.93L639.73 190.02L639.91 190.11L640.08 190.2L640.25 190.29L640.43 190.38L640.6 190.47L640.77 190.56L640.95 190.65L641.12 190.74L641.29 190.83L641.47 190.92L641.64 191.01L641.82 191.1L641.99 191.19L642.16 191.28L642.34 191.37L642.51 191.46L642.68 191.55L642.86 191.64L643.03 191.73L643.2 191.82L643.38 191.91L643.55 192L643.73 192.09L643.9 192.18L644.07 192.27L644.25 192.36L644.42 192.45L644.59 192.54L644.77 192.63L644.94 192.72L645.11 192.81L645.29 192.9L645.46 192.99L645.64 193.08L645.81 193.17L645.98 193.26L646.16 193.35L646.33 193.44L646.5 193.53L646.68 193.62L646.85 193.71L647.02 193.8L647.2 193.89L647.37 193.98L647.54 194.07L647.72 194.16L647.89 194.25L648.07 194.34L648.24 194.43L648.41 194.52L648.59 194.61L648.76 194.7L648.93 194.79L649.11 194.88L649.28 194.97L649.45 195.06L649.63 195.15L649.8 195.24L649.98 195.33L650.15 195.42L650.32 195.51L650.5 195.6L650.67 195.69L650.84 195.78L651.02 195.87L651.19 195.96L651.36 196.05L651.54 196.14L651.71 196.23L651.89 196.32L652.06 196.41L652.23 196.5L652.41 196.59L652.58 196.68L652.75 196.77L652.93 196.86L653.1 196.95L653.27 197.04L653.45 197.13L653.62 197.22L653.79 197.31L653.97 197.4L654.14 197.49L654.32 197.58L654.49 197.67L654.66 197.76L654.84 197.85L655.01 197.94L655.18 198.03L655.36 198.12L655.53 198.21L655.7 198.3L655.88 198.39L656.05 198.47L656.23 198.56L656.4 198.65L656.57 198.74L656.75 198.83L656.92 198.92L657.09 199.01L657.27 199.1L657.44 199.19L657.61 199.28L657.79 199.37L657.96 199.46L658.14 199.55L658.31 199.64L658.48 199.73L658.66 199.82L658.83 199.91L659 200L659.18 200.09L659.35 200.18L659.52 200.27L659.7 200.36L659.87 200.45L660.04 200.54L660.22 200.63L660.39 200.72L660.57 200.81L660.74 200.9L660.91 200.99L661.09 201.08L661.26 201.17L661.43 201.26L661.61 201.35L661.78 201.44L661.95 201.53L662.13 201.62L662.3 201.71L662.48 201.8L662.65 201.89L662.82 201.98L663 202.07L663.17 202.16L663.34 202.25L663.52 202.34L663.69 202.43L663.86 202.52L664.04 202.61L664.21 202.7L664.38 202.79L664.56 202.88L664.73 202.97L664.91 203.06L665.08 203.15L665.25 203.24L665.43 203.33L665.6 203.42L665.77 203.51L665.95 203.6L666.12 203.69L666.29 203.78L666.47 203.87L666.64 203.96L666.82 204.05L666.99 204.14L667.16 204.23L667.34 204.32L667.51 204.41L667.68 204.5L667.86 204.59L668.03 204.68L668.2 204.77L668.38 204.86L668.55 204.95L668.73 205.04L668.9 205.13L669.07 205.22L669.25 205.31L669.42 205.4L669.59 205.49L669.77 205.58L669.94 205.67L670.11 205.76L670.29 205.85L670.46 205.94L670.63 206.03L670.81 206.12L670.98 206.21L671.16 206.3L671.33 206.39L671.5 206.48L671.68 206.57L671.85 206.66L672.02 206.75L672.2 206.84L672.37 206.93L672.54 207.02L672.72 207.11L672.89 207.2L673.07 207.29L673.24 207.38L673.41 207.47L673.59 207.56L673.76 207.65L673.93 207.74L674.11 207.83L674.28 207.92L674.45 208.01L674.63 208.1L674.8 208.19L674.98 208.28L675.15 208.37L675.32 208.46L675.5 208.55L675.67 208.64L675.84 208.73L676.02 208.82L676.19 208.91L676.36 209L676.54 209.09L676.71 209.18L676.88 209.27L677.06 209.36L677.23 209.45L677.41 209.54L677.58 209.63L677.75 209.72L677.93 209.81L678.1 209.9" stroke="#ff00ff" stroke-width="1.7" stroke-dasharray="3 2.6"/></g><path clip-path="url(#cR)" d="M400.5 216.5L400.67 216.09L400.85 215.67L401.02 215.26L401.19 214.85L401.37 214.43L401.54 214.01L401.72 213.59L401.89 213.18L402.06 212.76L402.24 212.33L402.41 211.91L402.58 211.49L402.76 211.07L402.93 210.64L403.1 210.22L403.28 209.79L403.45 209.36L403.62 208.93L403.8 208.5L403.97 208.07L404.15 207.64L404.32 207.21L404.49 206.77L404.67 206.34L404.84 205.9L405.01 205.47L405.19 205.03L405.36 204.59L405.53 204.15L405.71 203.71L405.88 203.27L406.06 202.83L406.23 202.38L406.4 201.94L406.58 201.49L406.75 201.05L406.92 200.6L407.1 200.15L407.27 199.7L407.44 199.25L407.62 198.8L407.79 198.35L407.97 197.9L408.14 197.44L408.31 196.99L408.49 196.53L408.66 196.07L408.83 195.61L409.01 195.15L409.18 194.69L409.35 194.23L409.53 193.77L409.7 193.3L409.87 192.84L410.05 192.37L410.22 191.9L410.4 191.44L410.57 190.97L410.74 190.51L410.92 190.04L411.09 189.58L411.26 189.12L411.44 188.65L411.61 188.18L411.78 187.72L411.96 187.25L412.13 186.78L412.31 186.31L412.48 185.84L412.65 185.36L412.83 184.89L413 184.41L413.17 183.92L413.35 183.44L413.52 182.95L413.69 182.46L413.87 181.96L414.04 181.46L414.22 180.96L414.39 180.45L414.56 179.94L414.74 179.42L414.91 178.89L415.08 178.37L415.26 177.83L415.43 177.29L415.6 176.75L415.78 176.2L415.95 175.65L416.12 175.1L416.3 174.54L416.47 173.97L416.65 173.4L416.82 172.83L416.99 172.25L417.17 171.66L417.34 171.07L417.51 170.48L417.69 169.87L417.86 169.27L418.03 168.65L418.21 168.03L418.38 167.4L418.56 166.77L418.73 166.13L418.9 165.48L419.08 164.82L419.25 164.16L419.42 163.49L419.6 162.81L419.77 162.13L419.94 161.44L420.12 160.74L420.29 160.04L420.46 159.33L420.64 158.61L420.81 157.88L420.99 157.14L421.16 156.39L421.33 155.63L421.51 154.86L421.68 154.07L421.85 153.27L422.03 152.46L422.2 151.63L422.37 150.78L422.55 149.91L422.72 149.03L422.9 148.13L423.07 147.21L423.24 146.27L423.42 145.31L423.59 144.32L423.76 143.31L423.94 142.29L424.11 141.24L424.28 140.16L424.46 139.07L424.63 137.95L424.81 136.81L424.98 135.65L425.15 134.47L425.33 133.26L425.5 132.03L425.67 130.78L425.85 129.5L426.02 128.21L426.19 126.88L426.37 125.54L426.54 124.16L426.71 122.74L426.89 121.29L427.06 119.79L427.24 118.26L427.41 116.69L427.58 115.09L427.76 113.45L427.93 111.78L428.1 110.08L428.28 108.35L428.45 106.6L428.62 104.81L428.8 103L428.97 101.16L429.15 99.3L429.32 97.42L429.49 95.52L429.67 93.59L429.84 91.65L430.01 89.68L430.19 87.61L430.36 85.45L430.53 83.23L430.71 80.96L430.88 78.65L431.06 76.32L431.23 73.98L431.4 71.65L431.58 69.35L431.75 67.08L431.92 64.87L432.1 62.69L432.27 60.37L432.44 57.99L432.62 55.63L432.79 53.39L432.96 51.36L433.14 49.64L433.31 48.3L433.49 47.23L433.66 46.25L433.83 45.39L434.01 44.63L434.18 43.98L434.35 43.43L434.53 42.96L434.7 42.5L434.87 42.1L435.05 41.83L435.22 41.73L435.4 41.75L435.57 41.82L435.74 41.94L435.92 42.1L436.09 42.28L436.26 42.47L436.44 42.73L436.61 43.06L436.78 43.47L436.96 43.95L437.13 44.5L437.31 45.11L437.48 45.78L437.65 46.51L437.83 47.29L438 48.37L438.17 49.77L438.35 51.36L438.52 53.03L438.69 54.65L438.87 56.15L439.04 57.75L439.21 59.37L439.39 60.8L439.56 61.87L439.74 62.57L439.91 63.16L440.08 63.69L440.26 64.15L440.43 64.56L440.6 64.93L440.78 65.28L440.95 65.61L441.12 65.94L441.3 66.29L441.47 66.65L441.65 67.04L441.82 67.47L441.99 67.93L442.17 68.4L442.34 68.89L442.51 69.38L442.69 69.88L442.86 70.37L443.03 70.85L443.21 71.32L443.38 71.77L443.55 72.21L443.73 72.63L443.9 73.04L444.08 73.44L444.25 73.84L444.42 74.23L444.6 74.61L444.77 74.98L444.94 75.33L445.12 75.68L445.29 76.01L445.46 76.33L445.64 76.64L445.81 76.95L445.99 77.25L446.16 77.54L446.33 77.83L446.51 78.12L446.68 78.39L446.85 78.67L447.03 78.93L447.2 79.19L447.37 79.45L447.55 79.7L447.72 79.95L447.9 80.19L448.07 80.43L448.24 80.66L448.42 80.89L448.59 81.11L448.76 81.33L448.94 81.55L449.11 81.76L449.28 81.96L449.46 82.17L449.63 82.37L449.8 82.57L449.98 82.76L450.15 82.95L450.33 83.14L450.5 83.33L450.67 83.52L450.85 83.7L451.02 83.88L451.19 84.05L451.37 84.23L451.54 84.4L451.71 84.57L451.89 84.74L452.06 84.91L452.24 85.07L452.41 85.24L452.58 85.4L452.76 85.56L452.93 85.71L453.1 85.87L453.28 86.03L453.45 86.18L453.62 86.33L453.8 86.48L453.97 86.63L454.15 86.78L454.32 86.93L454.49 87.08L454.67 87.23L454.84 87.37L455.01 87.52L455.19 87.66L455.36 87.8L455.53 87.94L455.71 88.08L455.88 88.22L456.05 88.35L456.23 88.49L456.4 88.62L456.58 88.75L456.75 88.88L456.92 89.01L457.1 89.14L457.27 89.26L457.44 89.38L457.62 89.5L457.79 89.62L457.96 89.74L458.14 89.85L458.31 89.97L458.49 90.08L458.66 90.19L458.83 90.3L459.01 90.41L459.18 90.52L459.35 90.63L459.53 90.74L459.7 90.85L459.87 90.96L460.05 91.06L460.22 91.17L460.39 91.28L460.57 91.38L460.74 91.49L460.92 91.59L461.09 91.69L461.26 91.8L461.44 91.9L461.61 92L461.78 92.1L461.96 92.2L462.13 92.3L462.3 92.4L462.48 92.5L462.65 92.6L462.83 92.7L463 92.8L463.17 92.9L463.35 93L463.52 93.09L463.69 93.19L463.87 93.29L464.04 93.38L464.21 93.48L464.39 93.58L464.56 93.67L464.74 93.77L464.91 93.86L465.08 93.96L465.26 94.05L465.43 94.15L465.6 94.24L465.78 94.34L465.95 94.43L466.12 94.53L466.3 94.62L466.47 94.71L466.64 94.81L466.82 94.9L466.99 95L467.17 95.09L467.34 95.18L467.51 95.28L467.69 95.37L467.86 95.46L468.03 95.55L468.21 95.64L468.38 95.73L468.55 95.83L468.73 95.92L468.9 96.01L469.08 96.1L469.25 96.19L469.42 96.28L469.6 96.37L469.77 96.45L469.94 96.54L470.12 96.63L470.29 96.72L470.46 96.81L470.64 96.9L470.81 96.99L470.99 97.07L471.16 97.16L471.33 97.25L471.51 97.34L471.68 97.42L471.85 97.51L472.03 97.6L472.2 97.69L472.37 97.77L472.55 97.86L472.72 97.95L472.89 98.04L473.07 98.12L473.24 98.21L473.42 98.3L473.59 98.38L473.76 98.47L473.94 98.56L474.11 98.65L474.28 98.73L474.46 98.82L474.63 98.91L474.8 99L474.98 99.09L475.15 99.17L475.33 99.26L475.5 99.35L475.67 99.44L475.85 99.53L476.02 99.62L476.19 99.71L476.37 99.8L476.54 99.89L476.71 99.97L476.89 100.06L477.06 100.15L477.23 100.24L477.41 100.33L477.58 100.42L477.76 100.51L477.93 100.6L478.1 100.69L478.28 100.78L478.45 100.87L478.62 100.95L478.8 101.04L478.97 101.13L479.14 101.22L479.32 101.31L479.49 101.4L479.67 101.49L479.84 101.58L480.01 101.67L480.19 101.76L480.36 101.85L480.53 101.94L480.71 102.03L480.88 102.11L481.05 102.2L481.23 102.29L481.4 102.38L481.58 102.47L481.75 102.56L481.92 102.65L482.1 102.74L482.27 102.83L482.44 102.92L482.62 103.01L482.79 103.1L482.96 103.19L483.14 103.28L483.31 103.37L483.48 103.46L483.66 103.55L483.83 103.64L484.01 103.73L484.18 103.82L484.35 103.91L484.53 104L484.7 104.09L484.87 104.18L485.05 104.27L485.22 104.37L485.39 104.46L485.57 104.55L485.74 104.64L485.92 104.73L486.09 104.82L486.26 104.91L486.44 105.01L486.61 105.1L486.78 105.19L486.96 105.28L487.13 105.37L487.3 105.47L487.48 105.56L487.65 105.65L487.83 105.74L488 105.84L488.17 105.93L488.35 106.02L488.52 106.11L488.69 106.21L488.87 106.3L489.04 106.39L489.21 106.49L489.39 106.58L489.56 106.67L489.73 106.77L489.91 106.86L490.08 106.95L490.26 107.05L490.43 107.14L490.6 107.23L490.78 107.33L490.95 107.42L491.12 107.51L491.3 107.61L491.47 107.7L491.64 107.79L491.82 107.89L491.99 107.98L492.17 108.07L492.34 108.17L492.51 108.26L492.69 108.35L492.86 108.45L493.03 108.54L493.21 108.63L493.38 108.73L493.55 108.82L493.73 108.91L493.9 109.01L494.07 109.1L494.25 109.19L494.42 109.29L494.6 109.38L494.77 109.47L494.94 109.57L495.12 109.66L495.29 109.75L495.46 109.84L495.64 109.94L495.81 110.03L495.98 110.12L496.16 110.21L496.33 110.31L496.51 110.4L496.68 110.49L496.85 110.58L497.03 110.68L497.2 110.77L497.37 110.86L497.55 110.95L497.72 111.04L497.89 111.13L498.07 111.23L498.24 111.32L498.42 111.41L498.59 111.5L498.76 111.59L498.94 111.68L499.11 111.77L499.28 111.86L499.46 111.95L499.63 112.04L499.8 112.13L499.98 112.22L500.15 112.31L500.32 112.4L500.5 112.49L500.67 112.58L500.85 112.67L501.02 112.76L501.19 112.85L501.37 112.94L501.54 113.03L501.71 113.12L501.89 113.2L502.06 113.29L502.23 113.38L502.41 113.47L502.58 113.56L502.76 113.65L502.93 113.74L503.1 113.83L503.28 113.92L503.45 114L503.62 114.09L503.8 114.18L503.97 114.27L504.14 114.36L504.32 114.45L504.49 114.53L504.67 114.62L504.84 114.71L505.01 114.8L505.19 114.89L505.36 114.98L505.53 115.06L505.71 115.15L505.88 115.24L506.05 115.33L506.23 115.42L506.4 115.5L506.57 115.59L506.75 115.68L506.92 115.77L507.1 115.85L507.27 115.94L507.44 116.03L507.62 116.12L507.79 116.2L507.96 116.29L508.14 116.38L508.31 116.47L508.48 116.55L508.66 116.64L508.83 116.73L509.01 116.81L509.18 116.9L509.35 116.99L509.53 117.08L509.7 117.16L509.87 117.25L510.05 117.34L510.22 117.42L510.39 117.51L510.57 117.6L510.74 117.68L510.92 117.77L511.09 117.86L511.26 117.94L511.44 118.03L511.61 118.12L511.78 118.2L511.96 118.29L512.13 118.38L512.3 118.46L512.48 118.55L512.65 118.64L512.82 118.72L513 118.81L513.17 118.9L513.35 118.98L513.52 119.07L513.69 119.16L513.87 119.24L514.04 119.33L514.21 119.41L514.39 119.5L514.56 119.59L514.73 119.67L514.91 119.76L515.08 119.85L515.26 119.93L515.43 120.02L515.6 120.1L515.78 120.19L515.95 120.28L516.12 120.36L516.3 120.45L516.47 120.53L516.64 120.62L516.82 120.71L516.99 120.79L517.16 120.88L517.34 120.96L517.51 121.05L517.69 121.14L517.86 121.22L518.03 121.31L518.21 121.39L518.38 121.48L518.55 121.57L518.73 121.65L518.9 121.74L519.07 121.82L519.25 121.91L519.42 122L519.6 122.08L519.77 122.17L519.94 122.25L520.12 122.34L520.29 122.43L520.46 122.51L520.64 122.6L520.81 122.68L520.98 122.77L521.16 122.86L521.33 122.94L521.51 123.03L521.68 123.11L521.85 123.2L522.03 123.28L522.2 123.37L522.37 123.46L522.55 123.54L522.72 123.63L522.89 123.71L523.07 123.8L523.24 123.89L523.41 123.97L523.59 124.06L523.76 124.14L523.94 124.23L524.11 124.32L524.28 124.4L524.46 124.49L524.63 124.57L524.8 124.66L524.98 124.75L525.15 124.83L525.32 124.92L525.5 125L525.67 125.09L525.85 125.18L526.02 125.26L526.19 125.35L526.37 125.44L526.54 125.52L526.71 125.61L526.89 125.69L527.06 125.78L527.23 125.87L527.41 125.95L527.58 126.04L527.76 126.13L527.93 126.21L528.1 126.3L528.28 126.38L528.45 126.47L528.62 126.56L528.8 126.64L528.97 126.73L529.14 126.82L529.32 126.9L529.49 126.99L529.66 127.08L529.84 127.16L530.01 127.25L530.19 127.34L530.36 127.42L530.53 127.51L530.71 127.6L530.88 127.68L531.05 127.77L531.23 127.86L531.4 127.95L531.57 128.03L531.75 128.12L531.92 128.21L532.1 128.29L532.27 128.38L532.44 128.47L532.62 128.55L532.79 128.64L532.96 128.73L533.14 128.81L533.31 128.9L533.48 128.99L533.66 129.07L533.83 129.16L534 129.25L534.18 129.33L534.35 129.42L534.53 129.51L534.7 129.59L534.87 129.68L535.05 129.77L535.22 129.85L535.39 129.94L535.57 130.03L535.74 130.12L535.91 130.2L536.09 130.29L536.26 130.38L536.44 130.46L536.61 130.55L536.78 130.64L536.96 130.72L537.13 130.81L537.3 130.9L537.48 130.98L537.65 131.07L537.82 131.16L538 131.24L538.17 131.33L538.35 131.42L538.52 131.5L538.69 131.59L538.87 131.68L539.04 131.76L539.21 131.85L539.39 131.94L539.56 132.03L539.73 132.11L539.91 132.2L540.08 132.29L540.25 132.37L540.43 132.46L540.6 132.55L540.78 132.63L540.95 132.72L541.12 132.81L541.3 132.89L541.47 132.98L541.64 133.07L541.82 133.15L541.99 133.24L542.16 133.33L542.34 133.41L542.51 133.5L542.69 133.59L542.86 133.67L543.03 133.76L543.21 133.85L543.38 133.93L543.55 134.02L543.73 134.11L543.9 134.19L544.07 134.28L544.25 134.37L544.42 134.46L544.6 134.54L544.77 134.63L544.94 134.72L545.12 134.8L545.29 134.89L545.46 134.98L545.64 135.06L545.81 135.15L545.98 135.24L546.16 135.32L546.33 135.41L546.5 135.5L546.68 135.58L546.85 135.67L547.03 135.76L547.2 135.84L547.37 135.93L547.55 136.02L547.72 136.1L547.89 136.19L548.07 136.28L548.24 136.36L548.41 136.45L548.59 136.54L548.76 136.62L548.94 136.71L549.11 136.8L549.28 136.88L549.46 136.97L549.63 137.06L549.8 137.14L549.98 137.23L550.15 137.32L550.32 137.4L550.5 137.49L550.67 137.58L550.84 137.66L551.02 137.75L551.19 137.83L551.37 137.92L551.54 138.01L551.71 138.09L551.89 138.18L552.06 138.27L552.23 138.35L552.41 138.44L552.58 138.53L552.75 138.61L552.93 138.7L553.1 138.79L553.28 138.87L553.45 138.96L553.62 139.05L553.8 139.13L553.97 139.22L554.14 139.31L554.32 139.39L554.49 139.48L554.66 139.56L554.84 139.65L555.01 139.74L555.19 139.82L555.36 139.91L555.53 140L555.71 140.08L555.88 140.17L556.05 140.26L556.23 140.34L556.4 140.43L556.57 140.51L556.75 140.6L556.92 140.69L557.09 140.77L557.27 140.86L557.44 140.95L557.62 141.03L557.79 141.12L557.96 141.2L558.14 141.29L558.31 141.38L558.48 141.46L558.66 141.55L558.83 141.64L559 141.72L559.18 141.81L559.35 141.89L559.53 141.98L559.7 142.07L559.87 142.15L560.05 142.24L560.22 142.32L560.39 142.41L560.57 142.5L560.74 142.58L560.91 142.67L561.09 142.76L561.26 142.84L561.44 142.93L561.61 143.01L561.78 143.1L561.96 143.19L562.13 143.27L562.3 143.36L562.48 143.44L562.65 143.53L562.82 143.62L563 143.7L563.17 143.79L563.34 143.88L563.52 143.96L563.69 144.05L563.87 144.13L564.04 144.22L564.21 144.31L564.39 144.39L564.56 144.48L564.73 144.56L564.91 144.65L565.08 144.74L565.25 144.82L565.43 144.91L565.6 145L565.78 145.08L565.95 145.17L566.12 145.25L566.3 145.34L566.47 145.43L566.64 145.51L566.82 145.6L566.99 145.68L567.16 145.77L567.34 145.86L567.51 145.94L567.68 146.03L567.86 146.11L568.03 146.2L568.21 146.29L568.38 146.37L568.55 146.46L568.73 146.54L568.9 146.63L569.07 146.72L569.25 146.8L569.42 146.89L569.59 146.97L569.77 147.06L569.94 147.14L570.12 147.23L570.29 147.32L570.46 147.4L570.64 147.49L570.81 147.57L570.98 147.66L571.16 147.74L571.33 147.83L571.5 147.92L571.68 148L571.85 148.09L572.03 148.17L572.2 148.26L572.37 148.34L572.55 148.43L572.72 148.51L572.89 148.6L573.07 148.69L573.24 148.77L573.41 148.86L573.59 148.94L573.76 149.03L573.93 149.11L574.11 149.2L574.28 149.28L574.46 149.37L574.63 149.45L574.8 149.54L574.98 149.62L575.15 149.71L575.32 149.79L575.5 149.88L575.67 149.96L575.84 150.05L576.02 150.13L576.19 150.22L576.37 150.3L576.54 150.39L576.71 150.47L576.89 150.56L577.06 150.64L577.23 150.72L577.41 150.81L577.58 150.89L577.75 150.98L577.93 151.06L578.1 151.15L578.28 151.23L578.45 151.32L578.62 151.4L578.8 151.48L578.97 151.57L579.14 151.65L579.32 151.73L579.49 151.82L579.66 151.9L579.84 151.99L580.01 152.07L580.18 152.15L580.36 152.24L580.53 152.32L580.71 152.4L580.88 152.49L581.05 152.57L581.23 152.65L581.4 152.73L581.57 152.82L581.75 152.9L581.92 152.98L582.09 153.07L582.27 153.15L582.44 153.23L582.62 153.31L582.79 153.4L582.96 153.48L583.14 153.56L583.31 153.64L583.48 153.73L583.66 153.81L583.83 153.89L584 153.97L584.18 154.06L584.35 154.14L584.53 154.22L584.7 154.3L584.87 154.39L585.05 154.47L585.22 154.55L585.39 154.64L585.57 154.72L585.74 154.8L585.91 154.88L586.09 154.97L586.26 155.05L586.43 155.13L586.61 155.22L586.78 155.3L586.96 155.38L587.13 155.46L587.3 155.55L587.48 155.63L587.65 155.71L587.82 155.8L588 155.88L588.17 155.97L588.34 156.05L588.52 156.13L588.69 156.22L588.87 156.3L589.04 156.38L589.21 156.47L589.39 156.55L589.56 156.64L589.73 156.72L589.91 156.81L590.08 156.89L590.25 156.98L590.43 157.06L590.6 157.15L590.77 157.23L590.95 157.32L591.12 157.4L591.3 157.49L591.47 157.57L591.64 157.66L591.82 157.74L591.99 157.83L592.16 157.92L592.34 158L592.51 158.09L592.68 158.17L592.86 158.26L593.03 158.35L593.21 158.43L593.38 158.52L593.55 158.61L593.73 158.69L593.9 158.78L594.07 158.87L594.25 158.95L594.42 159.04L594.59 159.13L594.77 159.21L594.94 159.3L595.12 159.39L595.29 159.47L595.46 159.56L595.64 159.65L595.81 159.74L595.98 159.82L596.16 159.91L596.33 160L596.5 160.08L596.68 160.17L596.85 160.26L597.02 160.34L597.2 160.43L597.37 160.52L597.55 160.6L597.72 160.69L597.89 160.78L598.07 160.86L598.24 160.95L598.41 161.04L598.59 161.12L598.76 161.21L598.93 161.3L599.11 161.38L599.28 161.47L599.46 161.56L599.63 161.64L599.8 161.73L599.98 161.81L600.15 161.9L600.32 161.99L600.5 162.07L600.67 162.16L600.84 162.24L601.02 162.33L601.19 162.42L601.37 162.5L601.54 162.59L601.71 162.67L601.89 162.76L602.06 162.84L602.23 162.93L602.41 163.02L602.58 163.1L602.75 163.19L602.93 163.27L603.1 163.36L603.27 163.45L603.45 163.53L603.62 163.62L603.8 163.7L603.97 163.79L604.14 163.87L604.32 163.96L604.49 164.04L604.66 164.13L604.84 164.22L605.01 164.3L605.18 164.39L605.36 164.47L605.53 164.56L605.71 164.64L605.88 164.73L606.05 164.81L606.23 164.9L606.4 164.98L606.57 165.07L606.75 165.16L606.92 165.24L607.09 165.33L607.27 165.41L607.44 165.5L607.61 165.58L607.79 165.67L607.96 165.75L608.14 165.84L608.31 165.92L608.48 166.01L608.66 166.09L608.83 166.18L609 166.26L609.18 166.35L609.35 166.43L609.52 166.52L609.7 166.6L609.87 166.69L610.05 166.77L610.22 166.86L610.39 166.94L610.57 167.03L610.74 167.11L610.91 167.2L611.09 167.28L611.26 167.37L611.43 167.45L611.61 167.54L611.78 167.62L611.96 167.71L612.13 167.79L612.3 167.88L612.48 167.96L612.65 168.05L612.82 168.13L613 168.21L613.17 168.3L613.34 168.38L613.52 168.47L613.69 168.55L613.86 168.64L614.04 168.72L614.21 168.8L614.39 168.89L614.56 168.97L614.73 169.06L614.91 169.14L615.08 169.23L615.25 169.31L615.43 169.39L615.6 169.48L615.77 169.56L615.95 169.65L616.12 169.73L616.3 169.82L616.47 169.9L616.64 169.99L616.82 170.07L616.99 170.15L617.16 170.24L617.34 170.32L617.51 170.41L617.68 170.49L617.86 170.58L618.03 170.66L618.21 170.75L618.38 170.83L618.55 170.92L618.73 171L618.9 171.09L619.07 171.17L619.25 171.26L619.42 171.34L619.59 171.43L619.77 171.51L619.94 171.6L620.11 171.68L620.29 171.77L620.46 171.85L620.64 171.94L620.81 172.03L620.98 172.11L621.16 172.2L621.33 172.28L621.5 172.37L621.68 172.45L621.85 172.54L622.02 172.63L622.2 172.71L622.37 172.8L622.55 172.88L622.72 172.97L622.89 173.06L623.07 173.14L623.24 173.23L623.41 173.32L623.59 173.4L623.76 173.49L623.93 173.58L624.11 173.66L624.28 173.75L624.45 173.83L624.63 173.92L624.8 174.01L624.98 174.09L625.15 174.18L625.32 174.27L625.5 174.35L625.67 174.44L625.84 174.53L626.02 174.61L626.19 174.7L626.36 174.79L626.54 174.87L626.71 174.96L626.89 175.05L627.06 175.14L627.23 175.22L627.41 175.31L627.58 175.4L627.75 175.48L627.93 175.57L628.1 175.66L628.27 175.74L628.45 175.83L628.62 175.92L628.8 176L628.97 176.09L629.14 176.18L629.32 176.26L629.49 176.35L629.66 176.44L629.84 176.52L630.01 176.61L630.18 176.7L630.36 176.78L630.53 176.87L630.7 176.96L630.88 177.04L631.05 177.13L631.23 177.22L631.4 177.3L631.57 177.39L631.75 177.48L631.92 177.56L632.09 177.65L632.27 177.73L632.44 177.82L632.61 177.91L632.79 177.99L632.96 178.08L633.14 178.17L633.31 178.25L633.48 178.34L633.66 178.42L633.83 178.51L634 178.6L634.18 178.68L634.35 178.77L634.52 178.85L634.7 178.94L634.87 179.02L635.05 179.11L635.22 179.19L635.39 179.28L635.57 179.37L635.74 179.45L635.91 179.54L636.09 179.62L636.26 179.71L636.43 179.79L636.61 179.88L636.78 179.96L636.95 180.05L637.13 180.14L637.3 180.22L637.48 180.31L637.65 180.39L637.82 180.48L638 180.56L638.17 180.65L638.34 180.73L638.52 180.82L638.69 180.91L638.86 180.99L639.04 181.08L639.21 181.16L639.39 181.25L639.56 181.33L639.73 181.42L639.91 181.5L640.08 181.59L640.25 181.67L640.43 181.76L640.6 181.85L640.77 181.93L640.95 182.02L641.12 182.1L641.29 182.19L641.47 182.27L641.64 182.36L641.82 182.44L641.99 182.53L642.16 182.61L642.34 182.7L642.51 182.78L642.68 182.87L642.86 182.95L643.03 183.04L643.2 183.12L643.38 183.21L643.55 183.29L643.73 183.38L643.9 183.46L644.07 183.54L644.25 183.63L644.42 183.71L644.59 183.8L644.77 183.88L644.94 183.97L645.11 184.05L645.29 184.14L645.46 184.22L645.64 184.3L645.81 184.39L645.98 184.47L646.16 184.56L646.33 184.64L646.5 184.72L646.68 184.81L646.85 184.89L647.02 184.97L647.2 185.06L647.37 185.14L647.54 185.22L647.72 185.31L647.89 185.39L648.07 185.47L648.24 185.56L648.41 185.64L648.59 185.72L648.76 185.81L648.93 185.89L649.11 185.97L649.28 186.05L649.45 186.14L649.63 186.22L649.8 186.3L649.98 186.38L650.15 186.46L650.32 186.55L650.5 186.63L650.67 186.71L650.84 186.79L651.02 186.87L651.19 186.95L651.36 187.04L651.54 187.12L651.71 187.2L651.89 187.28L652.06 187.36L652.23 187.44L652.41 187.52L652.58 187.6L652.75 187.68L652.93 187.77L653.1 187.85L653.27 187.93L653.45 188.01L653.62 188.09L653.79 188.17L653.97 188.25L654.14 188.33L654.32 188.41L654.49 188.49L654.66 188.57L654.84 188.65L655.01 188.73L655.18 188.81L655.36 188.89L655.53 188.97L655.7 189.05L655.88 189.13L656.05 189.21L656.23 189.29L656.4 189.37L656.57 189.44L656.75 189.52L656.92 189.6L657.09 189.68L657.27 189.76L657.44 189.84L657.61 189.92L657.79 190L657.96 190.08L658.14 190.16L658.31 190.24L658.48 190.32L658.66 190.39L658.83 190.47L659 190.55L659.18 190.63L659.35 190.71L659.52 190.79L659.7 190.87L659.87 190.95L660.04 191.03L660.22 191.1L660.39 191.18L660.57 191.26L660.74 191.34L660.91 191.42L661.09 191.5L661.26 191.58L661.43 191.66L661.61 191.73L661.78 191.81L661.95 191.89L662.13 191.97L662.3 192.05L662.48 192.13L662.65 192.21L662.82 192.28L663 192.36L663.17 192.44L663.34 192.52L663.52 192.6L663.69 192.68L663.86 192.76L664.04 192.84L664.21 192.91L664.38 192.99L664.56 193.07L664.73 193.15L664.91 193.23L665.08 193.31L665.25 193.39L665.43 193.47L665.6 193.54L665.77 193.62L665.95 193.7L666.12 193.78L666.29 193.86L666.47 193.94L666.64 194.02L666.82 194.1L666.99 194.17L667.16 194.25L667.34 194.33L667.51 194.41L667.68 194.49L667.86 194.57L668.03 194.65L668.2 194.72L668.38 194.8L668.55 194.88L668.73 194.96L668.9 195.04L669.07 195.12L669.25 195.2L669.42 195.27L669.59 195.35L669.77 195.43L669.94 195.51L670.11 195.59L670.29 195.67L670.46 195.74L670.63 195.82L670.81 195.9L670.98 195.98L671.16 196.06L671.33 196.13L671.5 196.21L671.68 196.29L671.85 196.37L672.02 196.45L672.2 196.52L672.37 196.6L672.54 196.68L672.72 196.76L672.89 196.84L673.07 196.91L673.24 196.99L673.41 197.07L673.59 197.15L673.76 197.23L673.93 197.3L674.11 197.38L674.28 197.46L674.45 197.54L674.63 197.62L674.8 197.69L674.98 197.77L675.15 197.85L675.32 197.93L675.5 198L675.67 198.08L675.84 198.16L676.02 198.24L676.19 198.31L676.36 198.39L676.54 198.47L676.71 198.55L676.88 198.62L677.06 198.7L677.23 198.78L677.41 198.86L677.58 198.93L677.75 199.01L677.93 199.09L678.1 199.17" stroke="#ff0000" stroke-width="1.5" fill="none"/><path clip-path="url(#cR)" d="M400.5 216.5L400.67 216.09L400.85 215.67L401.02 215.26L401.19 214.85L401.37 214.43L401.54 214.01L401.72 213.59L401.89 213.18L402.06 212.76L402.24 212.33L402.41 211.91L402.58 211.49L402.76 211.07L402.93 210.64L403.1 210.22L403.28 209.79L403.45 209.36L403.62 208.93L403.8 208.5L403.97 208.07L404.15 207.64L404.32 207.21L404.49 206.77L404.67 206.34L404.84 205.9L405.01 205.47L405.19 205.03L405.36 204.59L405.53 204.15L405.71 203.71L405.88 203.27L406.06 202.83L406.23 202.38L406.4 201.94L406.58 201.49L406.75 201.05L406.92 200.6L407.1 200.15L407.27 199.7L407.44 199.25L407.62 198.8L407.79 198.35L407.97 197.9L408.14 197.44L408.31 196.99L408.49 196.53L408.66 196.07L408.83 195.61L409.01 195.15L409.18 194.69L409.35 194.23L409.53 193.77L409.7 193.3L409.87 192.84L410.05 192.37L410.22 191.9L410.4 191.44L410.57 190.97L410.74 190.51L410.92 190.04L411.09 189.58L411.26 189.12L411.44 188.65L411.61 188.18L411.78 187.72L411.96 187.25L412.13 186.78L412.31 186.31L412.48 185.84L412.65 185.36L412.83 184.89L413 184.41L413.17 183.92L413.35 183.44L413.52 182.95L413.69 182.46L413.87 181.96L414.04 181.46L414.22 180.96L414.39 180.45L414.56 179.94L414.74 179.42L414.91 178.9L415.08 178.37L415.26 177.83L415.43 177.29L415.6 176.75L415.78 176.21L415.95 175.65L416.12 175.1L416.3 174.54L416.47 173.98L416.65 173.41L416.82 172.83L416.99 172.25L417.17 171.67L417.34 171.08L417.51 170.48L417.69 169.88L417.86 169.27L418.03 168.66L418.21 168.04L418.38 167.41L418.56 166.78L418.73 166.14L418.9 165.49L419.08 164.83L419.25 164.17L419.42 163.5L419.6 162.82L419.77 162.14L419.94 161.45L420.12 160.75L420.29 160.05L420.46 159.34L420.64 158.62L420.81 157.9L420.99 157.16L421.16 156.41L421.33 155.65L421.51 154.88L421.68 154.09L421.85 153.29L422.03 152.48L422.2 151.65L422.37 150.8L422.55 149.93L422.72 149.05L422.9 148.15L423.07 147.23L423.24 146.29L423.42 145.33L423.59 144.34L423.76 143.34L423.94 142.31L424.11 141.26L424.28 140.19L424.46 139.09L424.63 137.98L424.81 136.84L424.98 135.67L425.15 134.49L425.33 133.28L425.5 132.05L425.67 130.8L425.85 129.52L426.02 128.22L426.19 126.9L426.37 125.55L426.54 124.18L426.71 122.76L426.89 121.3L427.06 119.81L427.24 118.27L427.41 116.71L427.58 115.1L427.76 113.46L427.93 111.79L428.1 110.09L428.28 108.36L428.45 106.61L428.62 104.82L428.8 103.01L428.97 101.18L429.15 99.32L429.32 97.44L429.49 95.53L429.67 93.61L429.84 91.68L430.01 89.7L430.19 87.64L430.36 85.49L430.53 83.27L430.71 81.01L430.88 78.7L431.06 76.38L431.23 74.04L431.4 71.72L431.58 69.42L431.75 67.16L431.92 64.96L432.1 62.78L432.27 60.47L432.44 58.09L432.62 55.73L432.79 53.49L432.96 51.47L433.14 49.75L433.31 48.42L433.49 47.35L433.66 46.39L433.83 45.54L434.01 44.8L434.18 44.16L434.35 43.62L434.53 43.16L434.7 42.72L434.87 42.34L435.05 42.08L435.22 42L435.4 42.04L435.57 42.14L435.74 42.29L435.92 42.47L436.09 42.67L436.26 42.88L436.44 43.17L436.61 43.53L436.78 43.97L436.96 44.48L437.13 45.06L437.31 45.71L437.48 46.42L437.65 47.2L437.83 48.03L438 49.18L438.17 50.67L438.35 52.39L438.52 54.21L438.69 55.99L438.87 57.64L439.04 59.45L439.21 61.29L439.39 62.95L439.56 64.2L439.74 65.02L439.91 65.72L440.08 66.34L440.26 66.89L440.43 67.37L440.6 67.82L440.78 68.23L440.95 68.62L441.12 69.02L441.3 69.43L441.47 69.86L441.65 70.33L441.82 70.86L441.99 71.43L442.17 72.02L442.34 72.64L442.51 73.26L442.69 73.89L442.86 74.52L443.03 75.15L443.21 75.77L443.38 76.37L443.55 76.95L443.73 77.51L443.9 78.07L444.08 78.62L444.25 79.17L444.42 79.7L444.6 80.23L444.77 80.75L444.94 81.25L445.12 81.74L445.29 82.21L445.46 82.67L445.64 83.12L445.81 83.56L445.99 84L446.16 84.43L446.33 84.85L446.51 85.27L446.68 85.68L446.85 86.09L447.03 86.49L447.2 86.88L447.37 87.27L447.55 87.65L447.72 88.03L447.9 88.39L448.07 88.76L448.24 89.11L448.42 89.47L448.59 89.81L448.76 90.15L448.94 90.48L449.11 90.81L449.28 91.13L449.46 91.45L449.63 91.76L449.8 92.07L449.98 92.37L450.15 92.67L450.33 92.97L450.5 93.26L450.67 93.55L450.85 93.84L451.02 94.12L451.19 94.4L451.37 94.67L451.54 94.94L451.71 95.21L451.89 95.48L452.06 95.74L452.24 96L452.41 96.25L452.58 96.51L452.76 96.76L452.93 97L453.1 97.25L453.28 97.49L453.45 97.73L453.62 97.97L453.8 98.21L453.97 98.44L454.15 98.68L454.32 98.91L454.49 99.14L454.67 99.37L454.84 99.6L455.01 99.83L455.19 100.05L455.36 100.27L455.53 100.49L455.71 100.71L455.88 100.92L456.05 101.13L456.23 101.33L456.4 101.54L456.58 101.74L456.75 101.93L456.92 102.12L457.1 102.31L457.27 102.49L457.44 102.67L457.62 102.84L457.79 103.01L457.96 103.17L458.14 103.33L458.31 103.48L458.49 103.63L458.66 103.79L458.83 103.94L459.01 104.08L459.18 104.23L459.35 104.37L459.53 104.52L459.7 104.66L459.87 104.8L460.05 104.93L460.22 105.07L460.39 105.2L460.57 105.34L460.74 105.47L460.92 105.6L461.09 105.72L461.26 105.85L461.44 105.98L461.61 106.1L461.78 106.22L461.96 106.35L462.13 106.47L462.3 106.59L462.48 106.7L462.65 106.82L462.83 106.94L463 107.05L463.17 107.17L463.35 107.28L463.52 107.39L463.69 107.5L463.87 107.61L464.04 107.72L464.21 107.83L464.39 107.94L464.56 108.05L464.74 108.15L464.91 108.26L465.08 108.36L465.26 108.47L465.43 108.57L465.6 108.68L465.78 108.78L465.95 108.88L466.12 108.99L466.3 109.09L466.47 109.19L466.64 109.29L466.82 109.39L466.99 109.5L467.17 109.6L467.34 109.7L467.51 109.79L467.69 109.89L467.86 109.99L468.03 110.08L468.21 110.18L468.38 110.27L468.55 110.36L468.73 110.46L468.9 110.55L469.08 110.64L469.25 110.73L469.42 110.82L469.6 110.9L469.77 110.99L469.94 111.08L470.12 111.17L470.29 111.25L470.46 111.34L470.64 111.42L470.81 111.51L470.99 111.59L471.16 111.67L471.33 111.76L471.51 111.84L471.68 111.92L471.85 112.01L472.03 112.09L472.2 112.17L472.37 112.25L472.55 112.33L472.72 112.42L472.89 112.5L473.07 112.58L473.24 112.66L473.42 112.74L473.59 112.83L473.76 112.91L473.94 112.99L474.11 113.07L474.28 113.16L474.46 113.24L474.63 113.32L474.8 113.41L474.98 113.49L475.15 113.58L475.33 113.66L475.5 113.75L475.67 113.84L475.85 113.92L476.02 114.01L476.19 114.1L476.37 114.19L476.54 114.27L476.71 114.36L476.89 114.45L477.06 114.54L477.23 114.62L477.41 114.71L477.58 114.8L477.76 114.89L477.93 114.97L478.1 115.06L478.28 115.15L478.45 115.23L478.62 115.32L478.8 115.41L478.97 115.5L479.14 115.58L479.32 115.67L479.49 115.76L479.67 115.85L479.84 115.94L480.01 116.02L480.19 116.11L480.36 116.2L480.53 116.29L480.71 116.37L480.88 116.46L481.05 116.55L481.23 116.64L481.4 116.73L481.58 116.82L481.75 116.91L481.92 116.99L482.1 117.08L482.27 117.17L482.44 117.26L482.62 117.35L482.79 117.44L482.96 117.53L483.14 117.62L483.31 117.71L483.48 117.8L483.66 117.89L483.83 117.98L484.01 118.07L484.18 118.17L484.35 118.26L484.53 118.35L484.7 118.44L484.87 118.53L485.05 118.63L485.22 118.72L485.39 118.81L485.57 118.9L485.74 119L485.92 119.09L486.09 119.19L486.26 119.28L486.44 119.38L486.61 119.47L486.78 119.57L486.96 119.67L487.13 119.76L487.3 119.86L487.48 119.96L487.65 120.05L487.83 120.15L488 120.25L488.17 120.35L488.35 120.44L488.52 120.54L488.69 120.64L488.87 120.74L489.04 120.84L489.21 120.94L489.39 121.04L489.56 121.14L489.73 121.24L489.91 121.34L490.08 121.44L490.26 121.54L490.43 121.64L490.6 121.74L490.78 121.84L490.95 121.94L491.12 122.04L491.3 122.14L491.47 122.24L491.64 122.34L491.82 122.44L491.99 122.54L492.17 122.64L492.34 122.74L492.51 122.84L492.69 122.94L492.86 123.04L493.03 123.14L493.21 123.24L493.38 123.34L493.55 123.44L493.73 123.54L493.9 123.64L494.07 123.74L494.25 123.84L494.42 123.94L494.6 124.04L494.77 124.14L494.94 124.24L495.12 124.34L495.29 124.44L495.46 124.53L495.64 124.63L495.81 124.73L495.98 124.83L496.16 124.93L496.33 125.02L496.51 125.12L496.68 125.22L496.85 125.31L497.03 125.41L497.2 125.5L497.37 125.6L497.55 125.7L497.72 125.79L497.89 125.88L498.07 125.98L498.24 126.07L498.42 126.17L498.59 126.26L498.76 126.35L498.94 126.44L499.11 126.54L499.28 126.63L499.46 126.72L499.63 126.81L499.8 126.9L499.98 126.99L500.15 127.08L500.32 127.17L500.5 127.26L500.67 127.34L500.85 127.43L501.02 127.52L501.19 127.61L501.37 127.7L501.54 127.78L501.71 127.87L501.89 127.96L502.06 128.05L502.23 128.13L502.41 128.22L502.58 128.31L502.76 128.39L502.93 128.48L503.1 128.57L503.28 128.65L503.45 128.74L503.62 128.82L503.8 128.91L503.97 129L504.14 129.08L504.32 129.17L504.49 129.25L504.67 129.34L504.84 129.42L505.01 129.5L505.19 129.59L505.36 129.67L505.53 129.76L505.71 129.84L505.88 129.93L506.05 130.01L506.23 130.09L506.4 130.18L506.57 130.26L506.75 130.34L506.92 130.43L507.1 130.51L507.27 130.59L507.44 130.67L507.62 130.76L507.79 130.84L507.96 130.92L508.14 131L508.31 131.09L508.48 131.17L508.66 131.25L508.83 131.33L509.01 131.41L509.18 131.49L509.35 131.58L509.53 131.66L509.7 131.74L509.87 131.82L510.05 131.9L510.22 131.98L510.39 132.06L510.57 132.14L510.74 132.22L510.92 132.3L511.09 132.38L511.26 132.46L511.44 132.55L511.61 132.63L511.78 132.71L511.96 132.79L512.13 132.87L512.3 132.95L512.48 133.03L512.65 133.11L512.82 133.19L513 133.26L513.17 133.34L513.35 133.42L513.52 133.5L513.69 133.58L513.87 133.66L514.04 133.74L514.21 133.82L514.39 133.9L514.56 133.98L514.73 134.06L514.91 134.14L515.08 134.22L515.26 134.29L515.43 134.37L515.6 134.45L515.78 134.53L515.95 134.61L516.12 134.69L516.3 134.77L516.47 134.85L516.64 134.92L516.82 135L516.99 135.08L517.16 135.16L517.34 135.24L517.51 135.32L517.69 135.4L517.86 135.47L518.03 135.55L518.21 135.63L518.38 135.71L518.55 135.79L518.73 135.87L518.9 135.94L519.07 136.02L519.25 136.1L519.42 136.18L519.6 136.26L519.77 136.34L519.94 136.41L520.12 136.49L520.29 136.57L520.46 136.65L520.64 136.73L520.81 136.8L520.98 136.88L521.16 136.96L521.33 137.04L521.51 137.12L521.68 137.2L521.85 137.27L522.03 137.35L522.2 137.43L522.37 137.51L522.55 137.59L522.72 137.67L522.89 137.75L523.07 137.82L523.24 137.9L523.41 137.98L523.59 138.06L523.76 138.14L523.94 138.22L524.11 138.3L524.28 138.37L524.46 138.45L524.63 138.53L524.8 138.61L524.98 138.69L525.15 138.77L525.32 138.85L525.5 138.93L525.67 139.01L525.85 139.08L526.02 139.16L526.19 139.24L526.37 139.32L526.54 139.4L526.71 139.48L526.89 139.56L527.06 139.64L527.23 139.72L527.41 139.8L527.58 139.88L527.76 139.96L527.93 140.04L528.1 140.12L528.28 140.2L528.45 140.28L528.62 140.36L528.8 140.44L528.97 140.52L529.14 140.6L529.32 140.68L529.49 140.76L529.66 140.84L529.84 140.92L530.01 141.01L530.19 141.09L530.36 141.17L530.53 141.25L530.71 141.33L530.88 141.41L531.05 141.49L531.23 141.57L531.4 141.65L531.57 141.74L531.75 141.82L531.92 141.9L532.1 141.98L532.27 142.06L532.44 142.14L532.62 142.22L532.79 142.3L532.96 142.38L533.14 142.47L533.31 142.55L533.48 142.63L533.66 142.71L533.83 142.79L534 142.87L534.18 142.95L534.35 143.03L534.53 143.12L534.7 143.2L534.87 143.28L535.05 143.36L535.22 143.44L535.39 143.52L535.57 143.6L535.74 143.68L535.91 143.77L536.09 143.85L536.26 143.93L536.44 144.01L536.61 144.09L536.78 144.17L536.96 144.25L537.13 144.34L537.3 144.42L537.48 144.5L537.65 144.58L537.82 144.66L538 144.74L538.17 144.82L538.35 144.9L538.52 144.99L538.69 145.07L538.87 145.15L539.04 145.23L539.21 145.31L539.39 145.39L539.56 145.47L539.73 145.56L539.91 145.64L540.08 145.72L540.25 145.8L540.43 145.88L540.6 145.96L540.78 146.04L540.95 146.13L541.12 146.21L541.3 146.29L541.47 146.37L541.64 146.45L541.82 146.53L541.99 146.61L542.16 146.69L542.34 146.78L542.51 146.86L542.69 146.94L542.86 147.02L543.03 147.1L543.21 147.18L543.38 147.26L543.55 147.35L543.73 147.43L543.9 147.51L544.07 147.59L544.25 147.67L544.42 147.75L544.6 147.83L544.77 147.91L544.94 148L545.12 148.08L545.29 148.16L545.46 148.24L545.64 148.32L545.81 148.4L545.98 148.48L546.16 148.56L546.33 148.65L546.5 148.73L546.68 148.81L546.85 148.89L547.03 148.97L547.2 149.05L547.37 149.13L547.55 149.21L547.72 149.3L547.89 149.38L548.07 149.46L548.24 149.54L548.41 149.62L548.59 149.7L548.76 149.78L548.94 149.86L549.11 149.94L549.28 150.03L549.46 150.11L549.63 150.19L549.8 150.27L549.98 150.35L550.15 150.43L550.32 150.51L550.5 150.59L550.67 150.67L550.84 150.75L551.02 150.84L551.19 150.92L551.37 151L551.54 151.08L551.71 151.16L551.89 151.24L552.06 151.32L552.23 151.4L552.41 151.48L552.58 151.56L552.75 151.64L552.93 151.72L553.1 151.81L553.28 151.89L553.45 151.97L553.62 152.05L553.8 152.13L553.97 152.21L554.14 152.29L554.32 152.37L554.49 152.45L554.66 152.53L554.84 152.61L555.01 152.69L555.19 152.77L555.36 152.85L555.53 152.93L555.71 153.02L555.88 153.1L556.05 153.18L556.23 153.26L556.4 153.34L556.57 153.42L556.75 153.5L556.92 153.58L557.09 153.66L557.27 153.74L557.44 153.82L557.62 153.9L557.79 153.98L557.96 154.06L558.14 154.14L558.31 154.22L558.48 154.3L558.66 154.38L558.83 154.46L559 154.54L559.18 154.62L559.35 154.7L559.53 154.78L559.7 154.86L559.87 154.94L560.05 155.02L560.22 155.1L560.39 155.18L560.57 155.26L560.74 155.34L560.91 155.42L561.09 155.5L561.26 155.58L561.44 155.66L561.61 155.74L561.78 155.82L561.96 155.9L562.13 155.98L562.3 156.06L562.48 156.14L562.65 156.22L562.82 156.3L563 156.38L563.17 156.46L563.34 156.54L563.52 156.62L563.69 156.7L563.87 156.78L564.04 156.86L564.21 156.94L564.39 157.02L564.56 157.1L564.73 157.18L564.91 157.26L565.08 157.35L565.25 157.43L565.43 157.51L565.6 157.59L565.78 157.67L565.95 157.75L566.12 157.83L566.3 157.91L566.47 157.99L566.64 158.07L566.82 158.15L566.99 158.23L567.16 158.31L567.34 158.39L567.51 158.47L567.68 158.55L567.86 158.63L568.03 158.7L568.21 158.78L568.38 158.86L568.55 158.94L568.73 159.02L568.9 159.1L569.07 159.18L569.25 159.26L569.42 159.34L569.59 159.42L569.77 159.5L569.94 159.58L570.12 159.66L570.29 159.74L570.46 159.82L570.64 159.9L570.81 159.98L570.98 160.06L571.16 160.14L571.33 160.21L571.5 160.29L571.68 160.37L571.85 160.45L572.03 160.53L572.2 160.61L572.37 160.69L572.55 160.77L572.72 160.84L572.89 160.92L573.07 161L573.24 161.08L573.41 161.16L573.59 161.24L573.76 161.31L573.93 161.39L574.11 161.47L574.28 161.55L574.46 161.63L574.63 161.7L574.8 161.78L574.98 161.86L575.15 161.94L575.32 162.02L575.5 162.09L575.67 162.17L575.84 162.25L576.02 162.32L576.19 162.4L576.37 162.48L576.54 162.56L576.71 162.63L576.89 162.71L577.06 162.79L577.23 162.86L577.41 162.94L577.58 163.02L577.75 163.09L577.93 163.17L578.1 163.24L578.28 163.32L578.45 163.4L578.62 163.47L578.8 163.55L578.97 163.62L579.14 163.7L579.32 163.77L579.49 163.85L579.66 163.92L579.84 163.99L580.01 164.07L580.18 164.14L580.36 164.22L580.53 164.29L580.71 164.36L580.88 164.43L581.05 164.51L581.23 164.58L581.4 164.65L581.57 164.73L581.75 164.8L581.92 164.87L582.09 164.94L582.27 165.02L582.44 165.09L582.62 165.16L582.79 165.23L582.96 165.31L583.14 165.38L583.31 165.45L583.48 165.52L583.66 165.59L583.83 165.67L584 165.74L584.18 165.81L584.35 165.88L584.53 165.96L584.7 166.03L584.87 166.1L585.05 166.17L585.22 166.25L585.39 166.32L585.57 166.39L585.74 166.46L585.91 166.54L586.09 166.61L586.26 166.68L586.43 166.76L586.61 166.83L586.78 166.9L586.96 166.98L587.13 167.05L587.3 167.12L587.48 167.2L587.65 167.27L587.82 167.35L588 167.42L588.17 167.5L588.34 167.57L588.52 167.65L588.69 167.72L588.87 167.8L589.04 167.87L589.21 167.95L589.39 168.03L589.56 168.1L589.73 168.18L589.91 168.26L590.08 168.34L590.25 168.41L590.43 168.49L590.6 168.57L590.77 168.65L590.95 168.73L591.12 168.81L591.3 168.89L591.47 168.97L591.64 169.05L591.82 169.13L591.99 169.21L592.16 169.29L592.34 169.37L592.51 169.45L592.68 169.53L592.86 169.61L593.03 169.69L593.21 169.78L593.38 169.86L593.55 169.94L593.73 170.02L593.9 170.1L594.07 170.19L594.25 170.27L594.42 170.35L594.59 170.43L594.77 170.52L594.94 170.6L595.12 170.68L595.29 170.77L595.46 170.85L595.64 170.93L595.81 171.01L595.98 171.1L596.16 171.18L596.33 171.26L596.5 171.35L596.68 171.43L596.85 171.51L597.02 171.59L597.2 171.68L597.37 171.76L597.55 171.84L597.72 171.93L597.89 172.01L598.07 172.09L598.24 172.17L598.41 172.26L598.59 172.34L598.76 172.42L598.93 172.5L599.11 172.58L599.28 172.66L599.46 172.75L599.63 172.83L599.8 172.91L599.98 172.99L600.15 173.07L600.32 173.15L600.5 173.23L600.67 173.31L600.84 173.39L601.02 173.47L601.19 173.55L601.37 173.63L601.54 173.71L601.71 173.79L601.89 173.88L602.06 173.96L602.23 174.04L602.41 174.12L602.58 174.2L602.75 174.28L602.93 174.36L603.1 174.44L603.27 174.52L603.45 174.6L603.62 174.68L603.8 174.76L603.97 174.84L604.14 174.92L604.32 175L604.49 175.08L604.66 175.16L604.84 175.24L605.01 175.32L605.18 175.4L605.36 175.48L605.53 175.56L605.71 175.64L605.88 175.72L606.05 175.8L606.23 175.88L606.4 175.96L606.57 176.04L606.75 176.11L606.92 176.19L607.09 176.27L607.27 176.35L607.44 176.43L607.61 176.51L607.79 176.59L607.96 176.67L608.14 176.75L608.31 176.83L608.48 176.91L608.66 176.99L608.83 177.07L609 177.15L609.18 177.23L609.35 177.3L609.52 177.38L609.7 177.46L609.87 177.54L610.05 177.62L610.22 177.7L610.39 177.78L610.57 177.86L610.74 177.94L610.91 178.01L611.09 178.09L611.26 178.17L611.43 178.25L611.61 178.33L611.78 178.4L611.96 178.48L612.13 178.56L612.3 178.64L612.48 178.72L612.65 178.79L612.82 178.87L613 178.95L613.17 179.03L613.34 179.1L613.52 179.18L613.69 179.26L613.86 179.34L614.04 179.41L614.21 179.49L614.39 179.57L614.56 179.65L614.73 179.72L614.91 179.8L615.08 179.88L615.25 179.96L615.43 180.03L615.6 180.11L615.77 180.19L615.95 180.27L616.12 180.34L616.3 180.42L616.47 180.5L616.64 180.58L616.82 180.66L616.99 180.73L617.16 180.81L617.34 180.89L617.51 180.97L617.68 181.05L617.86 181.12L618.03 181.2L618.21 181.28L618.38 181.36L618.55 181.44L618.73 181.52L618.9 181.6L619.07 181.68L619.25 181.75L619.42 181.83L619.59 181.91L619.77 181.99L619.94 182.07L620.11 182.15L620.29 182.23L620.46 182.31L620.64 182.39L620.81 182.47L620.98 182.55L621.16 182.64L621.33 182.72L621.5 182.8L621.68 182.88L621.85 182.96L622.02 183.04L622.2 183.12L622.37 183.2L622.55 183.29L622.72 183.37L622.89 183.45L623.07 183.53L623.24 183.61L623.41 183.7L623.59 183.78L623.76 183.86L623.93 183.94L624.11 184.03L624.28 184.11L624.45 184.19L624.63 184.27L624.8 184.36L624.98 184.44L625.15 184.52L625.32 184.6L625.5 184.69L625.67 184.77L625.84 184.85L626.02 184.94L626.19 185.02L626.36 185.1L626.54 185.18L626.71 185.27L626.89 185.35L627.06 185.43L627.23 185.52L627.41 185.6L627.58 185.68L627.75 185.77L627.93 185.85L628.1 185.93L628.27 186.02L628.45 186.1L628.62 186.18L628.8 186.27L628.97 186.35L629.14 186.43L629.32 186.51L629.49 186.6L629.66 186.68L629.84 186.76L630.01 186.85L630.18 186.93L630.36 187.01L630.53 187.1L630.7 187.18L630.88 187.26L631.05 187.34L631.23 187.43L631.4 187.51L631.57 187.59L631.75 187.67L631.92 187.76L632.09 187.84L632.27 187.92L632.44 188L632.61 188.08L632.79 188.17L632.96 188.25L633.14 188.33L633.31 188.41L633.48 188.49L633.66 188.57L633.83 188.66L634 188.74L634.18 188.82L634.35 188.9L634.52 188.98L634.7 189.06L634.87 189.14L635.05 189.22L635.22 189.3L635.39 189.38L635.57 189.46L635.74 189.54L635.91 189.62L636.09 189.7L636.26 189.78L636.43 189.87L636.61 189.95L636.78 190.03L636.95 190.11L637.13 190.19L637.3 190.27L637.48 190.35L637.65 190.43L637.82 190.51L638 190.59L638.17 190.67L638.34 190.75L638.52 190.83L638.69 190.91L638.86 190.99L639.04 191.07L639.21 191.15L639.39 191.24L639.56 191.32L639.73 191.4L639.91 191.48L640.08 191.56L640.25 191.64L640.43 191.72L640.6 191.8L640.77 191.88L640.95 191.96L641.12 192.04L641.29 192.12L641.47 192.2L641.64 192.28L641.82 192.36L641.99 192.44L642.16 192.52L642.34 192.6L642.51 192.68L642.68 192.76L642.86 192.84L643.03 192.91L643.2 192.99L643.38 193.07L643.55 193.15L643.73 193.23L643.9 193.31L644.07 193.39L644.25 193.47L644.42 193.55L644.59 193.62L644.77 193.7L644.94 193.78L645.11 193.86L645.29 193.94L645.46 194.01L645.64 194.09L645.81 194.17L645.98 194.25L646.16 194.32L646.33 194.4L646.5 194.48L646.68 194.56L646.85 194.63L647.02 194.71L647.2 194.79L647.37 194.86L647.54 194.94L647.72 195.02L647.89 195.09L648.07 195.17L648.24 195.24L648.41 195.32L648.59 195.39L648.76 195.47L648.93 195.54L649.11 195.62L649.28 195.69L649.45 195.77L649.63 195.84L649.8 195.92L649.98 195.99L650.15 196.06L650.32 196.14L650.5 196.21L650.67 196.28L650.84 196.36L651.02 196.43L651.19 196.5L651.36 196.57L651.54 196.65L651.71 196.72L651.89 196.79L652.06 196.86L652.23 196.93L652.41 197.01L652.58 197.08L652.75 197.15L652.93 197.22L653.1 197.29L653.27 197.36L653.45 197.43L653.62 197.5L653.79 197.57L653.97 197.64L654.14 197.71L654.32 197.79L654.49 197.86L654.66 197.93L654.84 198L655.01 198.06L655.18 198.13L655.36 198.2L655.53 198.27L655.7 198.34L655.88 198.41L656.05 198.48L656.23 198.55L656.4 198.62L656.57 198.69L656.75 198.76L656.92 198.83L657.09 198.89L657.27 198.96L657.44 199.03L657.61 199.1L657.79 199.17L657.96 199.24L658.14 199.31L658.31 199.37L658.48 199.44L658.66 199.51L658.83 199.58L659 199.65L659.18 199.72L659.35 199.78L659.52 199.85L659.7 199.92L659.87 199.99L660.04 200.06L660.22 200.12L660.39 200.19L660.57 200.26L660.74 200.33L660.91 200.4L661.09 200.46L661.26 200.53L661.43 200.6L661.61 200.67L661.78 200.74L661.95 200.8L662.13 200.87L662.3 200.94L662.48 201.01L662.65 201.08L662.82 201.14L663 201.21L663.17 201.28L663.34 201.35L663.52 201.42L663.69 201.48L663.86 201.55L664.04 201.62L664.21 201.69L664.38 201.76L664.56 201.83L664.73 201.89L664.91 201.96L665.08 202.03L665.25 202.1L665.43 202.17L665.6 202.24L665.77 202.31L665.95 202.37L666.12 202.44L666.29 202.51L666.47 202.58L666.64 202.65L666.82 202.72L666.99 202.79L667.16 202.85L667.34 202.92L667.51 202.99L667.68 203.06L667.86 203.13L668.03 203.2L668.2 203.26L668.38 203.33L668.55 203.4L668.73 203.47L668.9 203.54L669.07 203.6L669.25 203.67L669.42 203.74L669.59 203.81L669.77 203.88L669.94 203.95L670.11 204.01L670.29 204.08L670.46 204.15L670.63 204.22L670.81 204.29L670.98 204.35L671.16 204.42L671.33 204.49L671.5 204.56L671.68 204.62L671.85 204.69L672.02 204.76L672.2 204.83L672.37 204.9L672.54 204.96L672.72 205.03L672.89 205.1L673.07 205.17L673.24 205.23L673.41 205.3L673.59 205.37L673.76 205.44L673.93 205.51L674.11 205.57L674.28 205.64L674.45 205.71L674.63 205.78L674.8 205.84L674.98 205.91L675.15 205.98L675.32 206.05L675.5 206.11L675.67 206.18L675.84 206.25L676.02 206.32L676.19 206.38L676.36 206.45L676.54 206.52L676.71 206.58L676.88 206.65L677.06 206.72L677.23 206.79L677.41 206.85L677.58 206.92L677.75 206.99L677.93 207.06L678.1 207.12" stroke="#0000ff" stroke-width="1.6" fill="none" stroke-dasharray="1.8 2.1"/><g clip-path="url(#cR)"><path d="M402.24 220.27V206.34M405.7 210.88V200.49M409.18 203.63V195.41M412.64 184.74V180.41M416.12 179.31V175.73M419.58 163.93V161.86M423.06 147.76V146.61M426.52 124.39V123.9M430 89.92V89.78M433.47 47.36V47.34M436.94 43.9V43.87M440.41 64.52V64.47M443.88 73.02V72.95M447.35 79.46V79.37M450.81 83.72V83.61M454.29 86.94V86.82M457.75 89.63V89.49M461.23 91.82V91.67M464.69 93.78V93.63M468.17 95.68V95.52M471.63 97.5V97.32M475.11 99.25V99.06M478.57 101.02V100.82M482.05 102.83V102.61M485.51 104.65V104.42M488.99 106.49V106.24M492.46 108.47V108.2M495.93 110.24V109.95M499.4 112.1V111.79M502.87 113.87V113.54M506.34 115.74V115.39M509.81 117.36V116.99M513.27 119.25V118.85M516.75 121.12V120.69M520.22 122.57V122.12M523.68 124.38V123.9M527.15 126.15V125.63M530.62 127.93V127.38M534.1 129.73V129.13M537.57 131.56V130.92M541.03 133.1V132.43M544.5 135.09V134.37M547.98 136.75V135.98M551.44 138.3V137.49M554.91 140.17V139.3M558.38 141.96V141.03M561.86 143.59V142.6M565.33 145.33V144.27M568.8 146.93V145.81M572.26 148.61V147.42M575.74 150.94V149.65M579.21 152.22V150.86M582.67 154.19V152.73M586.14 154.74V153.25M589.62 157.51V155.87M593.09 158.09V156.41M596.56 161.82V159.9M600.02 162V160.07M603.5 165.54V163.35M606.97 163.46V161.42M610.43 166.8V164.5M613.9 167.64V165.27M617.38 171.43V168.71M620.85 173.33V170.43M624.32 174.61V171.57M627.79 178.24V174.78M631.25 176.95V173.65M634.73 180.39V176.67M638.2 183V178.91M641.66 180.39V176.67M645.13 186.06V181.52M648.61 184.96V180.59M652.08 191.74V186.22M655.55 195.27V189.05M659.02 196.77V190.22M662.49 190.17V184.94M665.96 195.27V189.05M669.42 195.73V189.41M672.89 194.7V188.59M676.37 200.99V193.46" stroke="#000" stroke-width="1"/><path d="M402.24 211.57h0M405.7 204.7h0M409.18 198.9h0M412.64 182.4h0M416.12 177.4h0M419.58 162.86h0M423.06 147.17h0M426.52 124.15h0M430 89.85h0M433.47 47.35h0M436.94 43.89h0M440.41 64.49h0M443.88 72.99h0M447.35 79.41h0M450.81 83.66h0M454.29 86.88h0M457.75 89.56h0M461.23 91.74h0M464.69 93.71h0M468.17 95.6h0M471.63 97.41h0M475.11 99.16h0M478.57 100.92h0M482.05 102.72h0M485.51 104.53h0M488.99 106.37h0M492.46 108.33h0M495.93 110.09h0M499.4 111.94h0M502.87 113.71h0M506.34 115.57h0M509.81 117.17h0M513.27 119.05h0M516.75 120.9h0M520.22 122.34h0M523.68 124.14h0M527.15 125.89h0M530.62 127.65h0M534.1 129.43h0M537.57 131.23h0M541.03 132.76h0M544.5 134.72h0M547.98 136.36h0M551.44 137.89h0M554.91 139.72h0M558.38 141.48h0M561.86 143.09h0M565.33 144.79h0M568.8 146.36h0M572.26 148h0M575.74 150.28h0M579.21 151.53h0M582.67 153.44h0M586.14 153.98h0M589.62 156.66h0M593.09 157.22h0M596.56 160.83h0M600.02 161h0M603.5 164.4h0M606.97 162.4h0M610.43 165.6h0M613.9 166.4h0M617.38 170h0M620.85 171.8h0M624.32 173h0M627.79 176.4h0M631.25 175.2h0M634.73 178.4h0M638.2 180.8h0M641.66 178.4h0M645.13 183.6h0M648.61 182.6h0M652.08 188.7h0M655.55 191.8h0M659.02 193.1h0M662.49 187.3h0M665.96 191.8h0M669.42 192.2h0M672.89 191.3h0M676.37 196.7h0" stroke="#000" stroke-width="3.6" stroke-linecap="round"/></g><g clip-path="url(#cRl)" fill="#0000ff"><rect x="400.5" y="267.92" width="3.52" height="1.18"/><rect x="403.97" y="268.6" width="3.52" height="1"/><rect x="407.44" y="269.1" width="3.52" height="1.08"/><rect x="410.91" y="267.83" width="3.52" height="1.27"/><rect x="414.38" y="269.1" width="3.52" height="1.57"/><rect x="417.85" y="268.6" width="3.52" height="1"/><rect x="421.32" y="267.14" width="3.52" height="1.96"/><rect x="424.79" y="263.22" width="3.52" height="5.88"/><rect x="428.26" y="263.22" width="3.52" height="5.88"/><rect x="431.73" y="269.1" width="3.52" height="1.76"/><rect x="435.2" y="269.1" width="3.52" height="2.84"/><rect x="438.67" y="266.85" width="3.52" height="2.25"/><rect x="442.14" y="269.1" width="3.52" height="2.65"/><rect x="445.61" y="269.1" width="3.52" height="1.08"/><rect x="449.08" y="268.6" width="3.52" height="1"/><rect x="452.55" y="265.28" width="3.52" height="3.82"/><rect x="456.02" y="263.61" width="3.52" height="5.49"/><rect x="459.49" y="265.28" width="3.52" height="3.82"/><rect x="462.96" y="264.1" width="3.52" height="5"/><rect x="466.43" y="266.65" width="3.52" height="2.45"/><rect x="469.9" y="269.1" width="3.52" height="1.27"/><rect x="473.37" y="268.99" width="3.52" height="1"/><rect x="476.84" y="268.21" width="3.52" height="1"/><rect x="480.31" y="268.99" width="3.52" height="1"/><rect x="483.78" y="269.1" width="3.52" height="1.27"/><rect x="487.25" y="268.75" width="3.52" height="1"/><rect x="490.72" y="269.1" width="3.52" height="7.35"/><rect x="494.19" y="268.6" width="3.52" height="1"/><rect x="497.66" y="269.1" width="3.52" height="1.57"/><rect x="501.13" y="268.6" width="3.52" height="1"/><rect x="504.6" y="269.1" width="3.52" height="5.39"/><rect x="508.07" y="266.85" width="3.52" height="2.25"/><rect x="511.54" y="269.1" width="3.52" height="4.8"/><rect x="515.01" y="269.1" width="3.52" height="10.39"/><rect x="518.48" y="267.14" width="3.52" height="1.96"/><rect x="521.95" y="269.1" width="3.52" height="1.27"/><rect x="525.42" y="269.1" width="3.52" height="2.25"/><rect x="528.89" y="269.1" width="3.52" height="3.33"/><rect x="532.36" y="269.1" width="3.52" height="4.51"/><rect x="535.83" y="269.1" width="3.52" height="6.37"/><rect x="539.3" y="268.6" width="3.52" height="1"/><rect x="542.77" y="269.1" width="3.52" height="6.17"/><rect x="546.24" y="269.1" width="3.52" height="3.33"/><rect x="549.71" y="267.34" width="3.52" height="1.76"/><rect x="553.18" y="268.99" width="3.52" height="1"/><rect x="556.65" y="269.1" width="3.52" height="1.47"/><rect x="560.12" y="268.11" width="3.52" height="1"/><rect x="563.59" y="267.83" width="3.52" height="1.27"/><rect x="567.06" y="265.28" width="3.52" height="3.82"/><rect x="570.53" y="264.3" width="3.52" height="4.8"/><rect x="574" y="269.1" width="3.52" height="4.31"/><rect x="577.47" y="266.85" width="3.52" height="2.25"/><rect x="580.94" y="269.1" width="3.52" height="1.27"/><rect x="584.41" y="255.67" width="3.52" height="13.43"/><rect x="587.88" y="268.6" width="3.52" height="1"/><rect x="591.35" y="255.67" width="3.52" height="13.43"/><rect x="594.82" y="269.1" width="3.52" height="7.35"/><rect x="598.29" y="269.1" width="3.52" height="2.94"/><rect x="601.76" y="269.1" width="3.52" height="5.49"/><rect x="605.23" y="260.38" width="3.52" height="8.72"/><rect x="608.7" y="266.94" width="3.52" height="2.16"/><rect x="612.17" y="262.44" width="3.52" height="6.66"/><rect x="615.64" y="268.8" width="3.52" height="1"/><rect x="619.11" y="268.6" width="3.52" height="1"/><rect x="622.58" y="268.6" width="3.52" height="1"/><rect x="626.05" y="269.1" width="3.52" height="5.49"/><rect x="629.52" y="264.4" width="3.52" height="4.7"/><rect x="632.99" y="268.6" width="3.52" height="1"/><rect x="636.46" y="268.89" width="3.52" height="1"/><rect x="639.93" y="263.22" width="3.52" height="5.88"/><rect x="643.4" y="268.6" width="3.52" height="1"/><rect x="646.87" y="266.94" width="3.52" height="2.16"/><rect x="650.34" y="269.04" width="3.52" height="1"/><rect x="653.81" y="269.1" width="3.52" height="5"/><rect x="657.28" y="269.1" width="3.52" height="6.47"/><rect x="660.75" y="262.44" width="3.52" height="6.66"/><rect x="664.22" y="266.94" width="3.52" height="2.16"/><rect x="667.69" y="263.91" width="3.52" height="5.19"/><rect x="671.16" y="263.91" width="3.52" height="5.19"/><rect x="674.63" y="267.43" width="3.52" height="1.67"/></g><path d="M48.64 12.5L48.64 15.2M48.64 229.5L48.64 226.8M48.64 229.5L48.64 231M48.64 308.5L48.64 307M54.21 12.5L54.21 15.2M54.21 229.5L54.21 226.8M54.21 229.5L54.21 231M54.21 308.5L54.21 307M59.77 12.5L59.77 15.2M59.77 229.5L59.77 226.8M59.77 229.5L59.77 231M59.77 308.5L59.77 307M65.34 12.5L65.34 15.2M65.34 229.5L65.34 226.8M65.34 229.5L65.34 231M65.34 308.5L65.34 307M70.9 12.5L70.9 18M70.9 229.5L70.9 224M70.9 229.5L70.9 232.5M70.9 308.5L70.9 305.5M76.46 12.5L76.46 15.2M76.46 229.5L76.46 226.8M76.46 229.5L76.46 231M76.46 308.5L76.46 307M82.03 12.5L82.03 15.2M82.03 229.5L82.03 226.8M82.03 229.5L82.03 231M82.03 308.5L82.03 307M87.59 12.5L87.59 15.2M87.59 229.5L87.59 226.8M87.59 229.5L87.59 231M87.59 308.5L87.59 307M93.16 12.5L93.16 15.2M93.16 229.5L93.16 226.8M93.16 229.5L93.16 231M93.16 308.5L93.16 307M98.72 12.5L98.72 18M98.72 229.5L98.72 224M98.72 229.5L98.72 232.5M98.72 308.5L98.72 305.5M104.28 12.5L104.28 15.2M104.28 229.5L104.28 226.8M104.28 229.5L104.28 231M104.28 308.5L104.28 307M109.85 12.5L109.85 15.2M109.85 229.5L109.85 226.8M109.85 229.5L109.85 231M109.85 308.5L109.85 307M115.41 12.5L115.41 15.2M115.41 229.5L115.41 226.8M115.41 229.5L115.41 231M115.41 308.5L115.41 307M120.98 12.5L120.98 15.2M120.98 229.5L120.98 226.8M120.98 229.5L120.98 231M120.98 308.5L120.98 307M126.54 12.5L126.54 18M126.54 229.5L126.54 224M126.54 229.5L126.54 232.5M126.54 308.5L126.54 305.5M132.1 12.5L132.1 15.2M132.1 229.5L132.1 226.8M132.1 229.5L132.1 231M132.1 308.5L132.1 307M137.67 12.5L137.67 15.2M137.67 229.5L137.67 226.8M137.67 229.5L137.67 231M137.67 308.5L137.67 307M143.23 12.5L143.23 15.2M143.23 229.5L143.23 226.8M143.23 229.5L143.23 231M143.23 308.5L143.23 307M148.8 12.5L148.8 15.2M148.8 229.5L148.8 226.8M148.8 229.5L148.8 231M148.8 308.5L148.8 307M154.36 12.5L154.36 18M154.36 229.5L154.36 224M154.36 229.5L154.36 232.5M154.36 308.5L154.36 305.5M159.92 12.5L159.92 15.2M159.92 229.5L159.92 226.8M159.92 229.5L159.92 231M159.92 308.5L159.92 307M165.49 12.5L165.49 15.2M165.49 229.5L165.49 226.8M165.49 229.5L165.49 231M165.49 308.5L165.49 307M171.05 12.5L171.05 15.2M171.05 229.5L171.05 226.8M171.05 229.5L171.05 231M171.05 308.5L171.05 307M176.62 12.5L176.62 15.2M176.62 229.5L176.62 226.8M176.62 229.5L176.62 231M176.62 308.5L176.62 307M182.18 12.5L182.18 18M182.18 229.5L182.18 224M182.18 229.5L182.18 232.5M182.18 308.5L182.18 305.5M187.74 12.5L187.74 15.2M187.74 229.5L187.74 226.8M187.74 229.5L187.74 231M187.74 308.5L187.74 307M193.31 12.5L193.31 15.2M193.31 229.5L193.31 226.8M193.31 229.5L193.31 231M193.31 308.5L193.31 307M198.87 12.5L198.87 15.2M198.87 229.5L198.87 226.8M198.87 229.5L198.87 231M198.87 308.5L198.87 307M204.44 12.5L204.44 15.2M204.44 229.5L204.44 226.8M204.44 229.5L204.44 231M204.44 308.5L204.44 307M210 12.5L210 18M210 229.5L210 224M210 229.5L210 232.5M210 308.5L210 305.5M215.56 12.5L215.56 15.2M215.56 229.5L215.56 226.8M215.56 229.5L215.56 231M215.56 308.5L215.56 307M221.13 12.5L221.13 15.2M221.13 229.5L221.13 226.8M221.13 229.5L221.13 231M221.13 308.5L221.13 307M226.69 12.5L226.69 15.2M226.69 229.5L226.69 226.8M226.69 229.5L226.69 231M226.69 308.5L226.69 307M232.26 12.5L232.26 15.2M232.26 229.5L232.26 226.8M232.26 229.5L232.26 231M232.26 308.5L232.26 307M237.82 12.5L237.82 18M237.82 229.5L237.82 224M237.82 229.5L237.82 232.5M237.82 308.5L237.82 305.5M243.38 12.5L243.38 15.2M243.38 229.5L243.38 226.8M243.38 229.5L243.38 231M243.38 308.5L243.38 307M248.95 12.5L248.95 15.2M248.95 229.5L248.95 226.8M248.95 229.5L248.95 231M248.95 308.5L248.95 307M254.51 12.5L254.51 15.2M254.51 229.5L254.51 226.8M254.51 229.5L254.51 231M254.51 308.5L254.51 307M260.08 12.5L260.08 15.2M260.08 229.5L260.08 226.8M260.08 229.5L260.08 231M260.08 308.5L260.08 307M265.64 12.5L265.64 18M265.64 229.5L265.64 224M265.64 229.5L265.64 232.5M265.64 308.5L265.64 305.5M271.2 12.5L271.2 15.2M271.2 229.5L271.2 226.8M271.2 229.5L271.2 231M271.2 308.5L271.2 307M276.77 12.5L276.77 15.2M276.77 229.5L276.77 226.8M276.77 229.5L276.77 231M276.77 308.5L276.77 307M282.33 12.5L282.33 15.2M282.33 229.5L282.33 226.8M282.33 229.5L282.33 231M282.33 308.5L282.33 307M287.9 12.5L287.9 15.2M287.9 229.5L287.9 226.8M287.9 229.5L287.9 231M287.9 308.5L287.9 307M293.46 12.5L293.46 18M293.46 229.5L293.46 224M293.46 229.5L293.46 232.5M293.46 308.5L293.46 305.5M299.02 12.5L299.02 15.2M299.02 229.5L299.02 226.8M299.02 229.5L299.02 231M299.02 308.5L299.02 307M304.59 12.5L304.59 15.2M304.59 229.5L304.59 226.8M304.59 229.5L304.59 231M304.59 308.5L304.59 307M310.15 12.5L310.15 15.2M310.15 229.5L310.15 226.8M310.15 229.5L310.15 231M310.15 308.5L310.15 307M315.72 12.5L315.72 15.2M315.72 229.5L315.72 226.8M315.72 229.5L315.72 231M315.72 308.5L315.72 307M321.28 12.5L321.28 18M321.28 229.5L321.28 224M321.28 229.5L321.28 232.5M321.28 308.5L321.28 305.5M400.5 12.5L400.5 18M400.5 229.5L400.5 224M400.5 229.5L400.5 232.5M400.5 308.5L400.5 305.5M409.18 12.5L409.18 15.2M409.18 229.5L409.18 226.8M409.18 229.5L409.18 231M409.18 308.5L409.18 307M417.85 12.5L417.85 15.2M417.85 229.5L417.85 226.8M417.85 229.5L417.85 231M417.85 308.5L417.85 307M426.52 12.5L426.52 15.2M426.52 229.5L426.52 226.8M426.52 229.5L426.52 231M426.52 308.5L426.52 307M435.2 12.5L435.2 18M435.2 229.5L435.2 224M435.2 229.5L435.2 232.5M435.2 308.5L435.2 305.5M443.88 12.5L443.88 15.2M443.88 229.5L443.88 226.8M443.88 229.5L443.88 231M443.88 308.5L443.88 307M452.55 12.5L452.55 15.2M452.55 229.5L452.55 226.8M452.55 229.5L452.55 231M452.55 308.5L452.55 307M461.23 12.5L461.23 15.2M461.23 229.5L461.23 226.8M461.23 229.5L461.23 231M461.23 308.5L461.23 307M469.9 12.5L469.9 18M469.9 229.5L469.9 224M469.9 229.5L469.9 232.5M469.9 308.5L469.9 305.5M478.57 12.5L478.57 15.2M478.57 229.5L478.57 226.8M478.57 229.5L478.57 231M478.57 308.5L478.57 307M487.25 12.5L487.25 15.2M487.25 229.5L487.25 226.8M487.25 229.5L487.25 231M487.25 308.5L487.25 307M495.93 12.5L495.93 15.2M495.93 229.5L495.93 226.8M495.93 229.5L495.93 231M495.93 308.5L495.93 307M504.6 12.5L504.6 18M504.6 229.5L504.6 224M504.6 229.5L504.6 232.5M504.6 308.5L504.6 305.5M513.27 12.5L513.27 15.2M513.27 229.5L513.27 226.8M513.27 229.5L513.27 231M513.27 308.5L513.27 307M521.95 12.5L521.95 15.2M521.95 229.5L521.95 226.8M521.95 229.5L521.95 231M521.95 308.5L521.95 307M530.62 12.5L530.62 15.2M530.62 229.5L530.62 226.8M530.62 229.5L530.62 231M530.62 308.5L530.62 307M539.3 12.5L539.3 18M539.3 229.5L539.3 224M539.3 229.5L539.3 232.5M539.3 308.5L539.3 305.5M547.98 12.5L547.98 15.2M547.98 229.5L547.98 226.8M547.98 229.5L547.98 231M547.98 308.5L547.98 307M556.65 12.5L556.65 15.2M556.65 229.5L556.65 226.8M556.65 229.5L556.65 231M556.65 308.5L556.65 307M565.33 12.5L565.33 15.2M565.33 229.5L565.33 226.8M565.33 229.5L565.33 231M565.33 308.5L565.33 307M574 12.5L574 18M574 229.5L574 224M574 229.5L574 232.5M574 308.5L574 305.5M582.67 12.5L582.67 15.2M582.67 229.5L582.67 226.8M582.67 229.5L582.67 231M582.67 308.5L582.67 307M591.35 12.5L591.35 15.2M591.35 229.5L591.35 226.8M591.35 229.5L591.35 231M591.35 308.5L591.35 307M600.02 12.5L600.02 15.2M600.02 229.5L600.02 226.8M600.02 229.5L600.02 231M600.02 308.5L600.02 307M608.7 12.5L608.7 18M608.7 229.5L608.7 224M608.7 229.5L608.7 232.5M608.7 308.5L608.7 305.5M617.38 12.5L617.38 15.2M617.38 229.5L617.38 226.8M617.38 229.5L617.38 231M617.38 308.5L617.38 307M626.05 12.5L626.05 15.2M626.05 229.5L626.05 226.8M626.05 229.5L626.05 231M626.05 308.5L626.05 307M634.73 12.5L634.73 15.2M634.73 229.5L634.73 226.8M634.73 229.5L634.73 231M634.73 308.5L634.73 307M643.4 12.5L643.4 18M643.4 229.5L643.4 224M643.4 229.5L643.4 232.5M643.4 308.5L643.4 305.5M652.08 12.5L652.08 15.2M652.08 229.5L652.08 226.8M652.08 229.5L652.08 231M652.08 308.5L652.08 307M660.75 12.5L660.75 15.2M660.75 229.5L660.75 226.8M660.75 229.5L660.75 231M660.75 308.5L660.75 307M669.42 12.5L669.42 15.2M669.42 229.5L669.42 226.8M669.42 229.5L669.42 231M669.42 308.5L669.42 307M678.1 12.5L678.1 18M678.1 229.5L678.1 224M678.1 229.5L678.1 232.5M678.1 308.5L678.1 305.5M44.5 225.5L49.1 225.5M321.5 225.5L316.9 225.5M44.5 221.1L49.1 221.1M321.5 221.1L316.9 221.1M44.5 216.7L49.1 216.7M321.5 216.7L316.9 216.7M44.5 212.3L49.1 212.3M321.5 212.3L316.9 212.3M44.5 207.9L53.7 207.9M321.5 207.9L312.3 207.9M44.5 203.49L49.1 203.49M321.5 203.49L316.9 203.49M44.5 199.09L49.1 199.09M321.5 199.09L316.9 199.09M44.5 194.69L49.1 194.69M321.5 194.69L316.9 194.69M44.5 190.29L49.1 190.29M321.5 190.29L316.9 190.29M44.5 185.89L53.7 185.89M321.5 185.89L312.3 185.89M44.5 181.49L49.1 181.49M321.5 181.49L316.9 181.49M44.5 177.09L49.1 177.09M321.5 177.09L316.9 177.09M44.5 172.69L49.1 172.69M321.5 172.69L316.9 172.69M44.5 168.29L49.1 168.29M321.5 168.29L316.9 168.29M44.5 163.88L53.7 163.88M321.5 163.88L312.3 163.88M44.5 159.48L49.1 159.48M321.5 159.48L316.9 159.48M44.5 155.08L49.1 155.08M321.5 155.08L316.9 155.08M44.5 150.68L49.1 150.68M321.5 150.68L316.9 150.68M44.5 146.28L49.1 146.28M321.5 146.28L316.9 146.28M44.5 141.88L53.7 141.88M321.5 141.88L312.3 141.88M44.5 137.48L49.1 137.48M321.5 137.48L316.9 137.48M44.5 133.08L49.1 133.08M321.5 133.08L316.9 133.08M44.5 128.68L49.1 128.68M321.5 128.68L316.9 128.68M44.5 124.28L49.1 124.28M321.5 124.28L316.9 124.28M44.5 119.88L53.7 119.88M321.5 119.88L312.3 119.88M44.5 115.47L49.1 115.47M321.5 115.47L316.9 115.47M44.5 111.07L49.1 111.07M321.5 111.07L316.9 111.07M44.5 106.67L49.1 106.67M321.5 106.67L316.9 106.67M44.5 102.27L49.1 102.27M321.5 102.27L316.9 102.27M44.5 97.87L53.7 97.87M321.5 97.87L312.3 97.87M44.5 93.47L49.1 93.47M321.5 93.47L316.9 93.47M44.5 89.07L49.1 89.07M321.5 89.07L316.9 89.07M44.5 84.67L49.1 84.67M321.5 84.67L316.9 84.67M44.5 80.27L49.1 80.27M321.5 80.27L316.9 80.27M44.5 75.87L53.7 75.87M321.5 75.87L312.3 75.87M44.5 71.46L49.1 71.46M321.5 71.46L316.9 71.46M44.5 67.06L49.1 67.06M321.5 67.06L316.9 67.06M44.5 62.66L49.1 62.66M321.5 62.66L316.9 62.66M44.5 58.26L49.1 58.26M321.5 58.26L316.9 58.26M44.5 53.86L53.7 53.86M321.5 53.86L312.3 53.86M44.5 49.46L49.1 49.46M321.5 49.46L316.9 49.46M44.5 45.06L49.1 45.06M321.5 45.06L316.9 45.06M44.5 40.66L49.1 40.66M321.5 40.66L316.9 40.66M44.5 36.26L49.1 36.26M321.5 36.26L316.9 36.26M44.5 31.86L53.7 31.86M321.5 31.86L312.3 31.86M44.5 27.45L49.1 27.45M321.5 27.45L316.9 27.45M44.5 23.05L49.1 23.05M321.5 23.05L316.9 23.05M44.5 18.65L49.1 18.65M321.5 18.65L316.9 18.65M44.5 14.25L49.1 14.25M321.5 14.25L316.9 14.25M44.5 308.3L51.5 308.3M321.5 308.3L314.5 308.3M400.5 308.3L407.5 308.3M678.1 308.3L671.1 308.3M44.5 306.34L48 306.34M321.5 306.34L318 306.34M400.5 306.34L404 306.34M678.1 306.34L674.6 306.34M44.5 304.38L48 304.38M321.5 304.38L318 304.38M400.5 304.38L404 304.38M678.1 304.38L674.6 304.38M44.5 302.42L48 302.42M321.5 302.42L318 302.42M400.5 302.42L404 302.42M678.1 302.42L674.6 302.42M44.5 300.46L48 300.46M321.5 300.46L318 300.46M400.5 300.46L404 300.46M678.1 300.46L674.6 300.46M44.5 298.5L51.5 298.5M321.5 298.5L314.5 298.5M400.5 298.5L407.5 298.5M678.1 298.5L671.1 298.5M44.5 296.54L48 296.54M321.5 296.54L318 296.54M400.5 296.54L404 296.54M678.1 296.54L674.6 296.54M44.5 294.58L48 294.58M321.5 294.58L318 294.58M400.5 294.58L404 294.58M678.1 294.58L674.6 294.58M44.5 292.62L48 292.62M321.5 292.62L318 292.62M400.5 292.62L404 292.62M678.1 292.62L674.6 292.62M44.5 290.66L48 290.66M321.5 290.66L318 290.66M400.5 290.66L404 290.66M678.1 290.66L674.6 290.66M44.5 288.7L51.5 288.7M321.5 288.7L314.5 288.7M400.5 288.7L407.5 288.7M678.1 288.7L671.1 288.7M44.5 286.74L48 286.74M321.5 286.74L318 286.74M400.5 286.74L404 286.74M678.1 286.74L674.6 286.74M44.5 284.78L48 284.78M321.5 284.78L318 284.78M400.5 284.78L404 284.78M678.1 284.78L674.6 284.78M44.5 282.82L48 282.82M321.5 282.82L318 282.82M400.5 282.82L404 282.82M678.1 282.82L674.6 282.82M44.5 280.86L48 280.86M321.5 280.86L318 280.86M400.5 280.86L404 280.86M678.1 280.86L674.6 280.86M44.5 278.9L51.5 278.9M321.5 278.9L314.5 278.9M400.5 278.9L407.5 278.9M678.1 278.9L671.1 278.9M44.5 276.94L48 276.94M321.5 276.94L318 276.94M400.5 276.94L404 276.94M678.1 276.94L674.6 276.94M44.5 274.98L48 274.98M321.5 274.98L318 274.98M400.5 274.98L404 274.98M678.1 274.98L674.6 274.98M44.5 273.02L48 273.02M321.5 273.02L318 273.02M400.5 273.02L404 273.02M678.1 273.02L674.6 273.02M44.5 271.06L48 271.06M321.5 271.06L318 271.06M400.5 271.06L404 271.06M678.1 271.06L674.6 271.06M44.5 269.1L51.5 269.1M321.5 269.1L314.5 269.1M400.5 269.1L407.5 269.1M678.1 269.1L671.1 269.1M44.5 267.14L48 267.14M321.5 267.14L318 267.14M400.5 267.14L404 267.14M678.1 267.14L674.6 267.14M44.5 265.18L48 265.18M321.5 265.18L318 265.18M400.5 265.18L404 265.18M678.1 265.18L674.6 265.18M44.5 263.22L48 263.22M321.5 263.22L318 263.22M400.5 263.22L404 263.22M678.1 263.22L674.6 263.22M44.5 261.26L48 261.26M321.5 261.26L318 261.26M400.5 261.26L404 261.26M678.1 261.26L674.6 261.26M44.5 259.3L51.5 259.3M321.5 259.3L314.5 259.3M400.5 259.3L407.5 259.3M678.1 259.3L671.1 259.3M44.5 257.34L48 257.34M321.5 257.34L318 257.34M400.5 257.34L404 257.34M678.1 257.34L674.6 257.34M44.5 255.38L48 255.38M321.5 255.38L318 255.38M400.5 255.38L404 255.38M678.1 255.38L674.6 255.38M44.5 253.42L48 253.42M321.5 253.42L318 253.42M400.5 253.42L404 253.42M678.1 253.42L674.6 253.42M44.5 251.46L48 251.46M321.5 251.46L318 251.46M400.5 251.46L404 251.46M678.1 251.46L674.6 251.46M44.5 249.5L51.5 249.5M321.5 249.5L314.5 249.5M400.5 249.5L407.5 249.5M678.1 249.5L671.1 249.5M44.5 247.54L48 247.54M321.5 247.54L318 247.54M400.5 247.54L404 247.54M678.1 247.54L674.6 247.54M44.5 245.58L48 245.58M321.5 245.58L318 245.58M400.5 245.58L404 245.58M678.1 245.58L674.6 245.58M44.5 243.62L48 243.62M321.5 243.62L318 243.62M400.5 243.62L404 243.62M678.1 243.62L674.6 243.62M44.5 241.66L48 241.66M321.5 241.66L318 241.66M400.5 241.66L404 241.66M678.1 241.66L674.6 241.66M44.5 239.7L51.5 239.7M321.5 239.7L314.5 239.7M400.5 239.7L407.5 239.7M678.1 239.7L671.1 239.7M44.5 237.74L48 237.74M321.5 237.74L318 237.74M400.5 237.74L404 237.74M678.1 237.74L674.6 237.74M44.5 235.78L48 235.78M321.5 235.78L318 235.78M400.5 235.78L404 235.78M678.1 235.78L674.6 235.78M44.5 233.82L48 233.82M321.5 233.82L318 233.82M400.5 233.82L404 233.82M678.1 233.82L674.6 233.82M44.5 231.86L48 231.86M321.5 231.86L318 231.86M400.5 231.86L404 231.86M678.1 231.86L674.6 231.86M44.5 229.9L51.5 229.9M321.5 229.9L314.5 229.9M400.5 229.9L407.5 229.9M678.1 229.9L671.1 229.9M400.5 222.03L405.1 222.03M678.1 222.03L673.5 222.03M400.5 216.6L405.1 216.6M678.1 216.6L673.5 216.6M400.5 212.76L405.1 212.76M678.1 212.76L673.5 212.76M400.5 209.77L405.1 209.77M678.1 209.77L673.5 209.77M400.5 207.33L405.1 207.33M678.1 207.33L673.5 207.33M400.5 205.27L405.1 205.27M678.1 205.27L673.5 205.27M400.5 203.48L405.1 203.48M678.1 203.48L673.5 203.48M400.5 201.91L405.1 201.91M678.1 201.91L673.5 201.91M400.5 200.5L409.7 200.5M678.1 200.5L668.9 200.5M400.5 191.23L405.1 191.23M678.1 191.23L673.5 191.23M400.5 185.8L405.1 185.8M678.1 185.8L673.5 185.8M400.5 181.96L405.1 181.96M678.1 181.96L673.5 181.96M400.5 178.97L405.1 178.97M678.1 178.97L673.5 178.97M400.5 176.53L405.1 176.53M678.1 176.53L673.5 176.53M400.5 174.47L405.1 174.47M678.1 174.47L673.5 174.47M400.5 172.68L405.1 172.68M678.1 172.68L673.5 172.68M400.5 171.11L405.1 171.11M678.1 171.11L673.5 171.11M400.5 169.7L409.7 169.7M678.1 169.7L668.9 169.7M400.5 160.43L405.1 160.43M678.1 160.43L673.5 160.43M400.5 155L405.1 155M678.1 155L673.5 155M400.5 151.16L405.1 151.16M678.1 151.16L673.5 151.16M400.5 148.17L405.1 148.17M678.1 148.17L673.5 148.17M400.5 145.73L405.1 145.73M678.1 145.73L673.5 145.73M400.5 143.67L405.1 143.67M678.1 143.67L673.5 143.67M400.5 141.88L405.1 141.88M678.1 141.88L673.5 141.88M400.5 140.31L405.1 140.31M678.1 140.31L673.5 140.31M400.5 138.9L409.7 138.9M678.1 138.9L668.9 138.9M400.5 129.63L405.1 129.63M678.1 129.63L673.5 129.63M400.5 124.2L405.1 124.2M678.1 124.2L673.5 124.2M400.5 120.36L405.1 120.36M678.1 120.36L673.5 120.36M400.5 117.37L405.1 117.37M678.1 117.37L673.5 117.37M400.5 114.93L405.1 114.93M678.1 114.93L673.5 114.93M400.5 112.87L405.1 112.87M678.1 112.87L673.5 112.87M400.5 111.08L405.1 111.08M678.1 111.08L673.5 111.08M400.5 109.51L405.1 109.51M678.1 109.51L673.5 109.51M400.5 108.1L409.7 108.1M678.1 108.1L668.9 108.1M400.5 98.83L405.1 98.83M678.1 98.83L673.5 98.83M400.5 93.4L405.1 93.4M678.1 93.4L673.5 93.4M400.5 89.56L405.1 89.56M678.1 89.56L673.5 89.56M400.5 86.57L405.1 86.57M678.1 86.57L673.5 86.57M400.5 84.13L405.1 84.13M678.1 84.13L673.5 84.13M400.5 82.07L405.1 82.07M678.1 82.07L673.5 82.07M400.5 80.28L405.1 80.28M678.1 80.28L673.5 80.28M400.5 78.71L405.1 78.71M678.1 78.71L673.5 78.71M400.5 77.3L409.7 77.3M678.1 77.3L668.9 77.3M400.5 68.03L405.1 68.03M678.1 68.03L673.5 68.03M400.5 62.6L405.1 62.6M678.1 62.6L673.5 62.6M400.5 58.76L405.1 58.76M678.1 58.76L673.5 58.76M400.5 55.77L405.1 55.77M678.1 55.77L673.5 55.77M400.5 53.33L405.1 53.33M678.1 53.33L673.5 53.33M400.5 51.27L405.1 51.27M678.1 51.27L673.5 51.27M400.5 49.48L405.1 49.48M678.1 49.48L673.5 49.48M400.5 47.91L405.1 47.91M678.1 47.91L673.5 47.91M400.5 46.5L409.7 46.5M678.1 46.5L668.9 46.5M400.5 37.23L405.1 37.23M678.1 37.23L673.5 37.23M400.5 31.8L405.1 31.8M678.1 31.8L673.5 31.8M400.5 27.96L405.1 27.96M678.1 27.96L673.5 27.96M400.5 24.97L405.1 24.97M678.1 24.97L673.5 24.97M400.5 22.53L405.1 22.53M678.1 22.53L673.5 22.53M400.5 20.47L405.1 20.47M678.1 20.47L673.5 20.47M400.5 18.68L405.1 18.68M678.1 18.68L673.5 18.68M400.5 17.11L405.1 17.11M678.1 17.11L673.5 17.11M400.5 15.7L409.7 15.7M678.1 15.7L668.9 15.7" stroke="#000" stroke-width="1" fill="none"/><text x="42.1" y="211.86" font-size="11.0" text-anchor="end" >5</text><text x="42.1" y="189.85" font-size="11.0" text-anchor="end" >10</text><text x="42.1" y="167.84" font-size="11.0" text-anchor="end" >15</text><text x="42.1" y="145.84" font-size="11.0" text-anchor="end" >20</text><text x="42.1" y="123.84" font-size="11.0" text-anchor="end" >25</text><text x="42.1" y="101.83" font-size="11.0" text-anchor="end" >30</text><text x="42.1" y="79.83" font-size="11.0" text-anchor="end" >35</text><text x="42.1" y="57.82" font-size="11.0" text-anchor="end" >40</text><text x="42.1" y="35.82" font-size="11.0" text-anchor="end" >45</text><text x="42.3" y="312.08" font-size="10.5" text-anchor="end" >&#8722;4</text><text x="398.3" y="312.08" font-size="10.5" text-anchor="end" >&#8722;4</text><text x="42.3" y="302.28" font-size="10.5" text-anchor="end" >&#8722;3</text><text x="398.3" y="302.28" font-size="10.5" text-anchor="end" >&#8722;3</text><text x="42.3" y="292.48" font-size="10.5" text-anchor="end" >&#8722;2</text><text x="398.3" y="292.48" font-size="10.5" text-anchor="end" >&#8722;2</text><text x="42.3" y="282.68" font-size="10.5" text-anchor="end" >&#8722;1</text><text x="398.3" y="282.68" font-size="10.5" text-anchor="end" >&#8722;1</text><text x="42.3" y="272.88" font-size="10.5" text-anchor="end" >0</text><text x="398.3" y="272.88" font-size="10.5" text-anchor="end" >0</text><text x="42.3" y="263.08" font-size="10.5" text-anchor="end" >1</text><text x="398.3" y="263.08" font-size="10.5" text-anchor="end" >1</text><text x="42.3" y="253.28" font-size="10.5" text-anchor="end" >2</text><text x="398.3" y="253.28" font-size="10.5" text-anchor="end" >2</text><text x="42.3" y="243.48" font-size="10.5" text-anchor="end" >3</text><text x="398.3" y="243.48" font-size="10.5" text-anchor="end" >3</text><text x="70.9" y="319.2" font-size="11.6" text-anchor="middle" >5.2</text><text x="98.72" y="319.2" font-size="11.6" text-anchor="middle" >5.25</text><text x="126.54" y="319.2" font-size="11.6" text-anchor="middle" >5.3</text><text x="154.36" y="319.2" font-size="11.6" text-anchor="middle" >5.35</text><text x="182.18" y="319.2" font-size="11.6" text-anchor="middle" >5.4</text><text x="210" y="319.2" font-size="11.6" text-anchor="middle" >5.45</text><text x="237.82" y="319.2" font-size="11.6" text-anchor="middle" >5.5</text><text x="265.64" y="319.2" font-size="11.6" text-anchor="middle" >5.55</text><text x="293.46" y="319.2" font-size="11.6" text-anchor="middle" >5.6</text><text x="321.28" y="319.2" font-size="11.6" text-anchor="middle" >5.65</text><text x="400.5" y="319.2" font-size="11.6" text-anchor="middle" >&#8722;2</text><text x="435.2" y="319.2" font-size="11.6" text-anchor="middle" >0</text><text x="469.9" y="319.2" font-size="11.6" text-anchor="middle" >2</text><text x="504.6" y="319.2" font-size="11.6" text-anchor="middle" >4</text><text x="539.3" y="319.2" font-size="11.6" text-anchor="middle" >6</text><text x="574" y="319.2" font-size="11.6" text-anchor="middle" >8</text><text x="608.7" y="319.2" font-size="11.6" text-anchor="middle" >10</text><text x="643.4" y="319.2" font-size="11.6" text-anchor="middle" >12</text><text x="678.1" y="319.2" font-size="11.6" text-anchor="middle" >14</text><text x="397.6" y="204.32" font-size="10.6" text-anchor="end" >10</text><text x="392.8" y="174.22" font-size="10.6" text-anchor="end">10</text><text x="393.1" y="169.2" font-size="6.9">2</text><text x="392.8" y="143.42" font-size="10.6" text-anchor="end">10</text><text x="393.1" y="138.4" font-size="6.9">3</text><text x="392.8" y="112.62" font-size="10.6" text-anchor="end">10</text><text x="393.1" y="107.6" font-size="6.9">4</text><text x="392.8" y="81.82" font-size="10.6" text-anchor="end">10</text><text x="393.1" y="76.8" font-size="6.9">5</text><text x="392.8" y="51.02" font-size="10.6" text-anchor="end">10</text><text x="393.1" y="46" font-size="6.9">6</text><text x="392.8" y="20.22" font-size="10.6" text-anchor="end">10</text><text x="393.1" y="15.2" font-size="6.9">7</text><text x="43.8" y="11.2" font-size="11.6" text-anchor="start" >&#215;10</text><text x="62.2" y="5.4" font-size="7.4">3</text><text transform="translate(12.0,11.8) rotate(-90)" font-size="11.0" text-anchor="end">Entries / 3 MeV</text><text transform="translate(364.2,12.4) rotate(-90)" font-size="11.0" text-anchor="end">Entries / 0.2 ps</text><text transform="translate(10.6,230.4) rotate(-90)" font-size="10.6" text-anchor="end">(data-fit)/&#963;</text><text transform="translate(366.8,230.4) rotate(-90)" font-size="10.6" text-anchor="end">(data-fit)/&#963;</text><text x="321.5" y="330.8" font-size="10.6" text-anchor="end" >m(J/&#968;&#981;) [GeV]</text><text x="678.6" y="330.8" font-size="10.7" text-anchor="end" >Proper Decay Time [ps]</text><text x="58.9" y="25.7" font-size="10.9" font-weight="bold" font-style="italic" letter-spacing="0.45">ATLAS</text><path d="M58.8 32.4L59.8 31.2L61.2 36.9" stroke="#000" stroke-width="1.2" fill="none"/><path d="M61.2 36.9L62 28.4H67.8" stroke="#000" stroke-width="0.8" fill="none"/><text x="63.3" y="36.8" font-size="9.8">s = 13 TeV, 80.5 fb<tspan dx="-0.6" dy="-3.5" font-size="6.2">-1</tspan></text><text x="414.9" y="25.7" font-size="10.9" font-weight="bold" font-style="italic" letter-spacing="0.45">ATLAS</text><path d="M414.8 32.4L415.8 31.2L417.2 36.9" stroke="#000" stroke-width="1.2" fill="none"/><path d="M417.2 36.9L418 28.4H423.8" stroke="#000" stroke-width="0.8" fill="none"/><text x="419.3" y="36.8" font-size="9.8">s = 13 TeV, 80.5 fb<tspan dx="-0.6" dy="-3.5" font-size="6.2">-1</tspan></text><circle cx="201.4" cy="25.0" r="2.3"/><path d="M194.7 36.7H207.89999999999998" stroke="#ff0000" stroke-width="2"/><path d="M194.7 48.4H207.89999999999998" stroke="#ff00ff" stroke-width="1.7" stroke-dasharray="3.3 2.8"/><path d="M194.7 60.1H207.89999999999998" stroke="#0000ff" stroke-width="1.6" stroke-dasharray="2 1.6"/><path d="M194.7 71.8H207.89999999999998" stroke="#ff9c1a" stroke-width="1.6" stroke-dasharray="2.3 1.9 1.1 2.0"/><path d="M194.7 83.5H207.89999999999998" stroke="#009a00" stroke-width="1.9" stroke-dasharray="3.2 1.4 1 1.4 1 1.4 1 1.4"/><text x="211" y="27.7" font-size="10.4" text-anchor="start" >Data</text><text x="211" y="39.4" font-size="10.4" text-anchor="start" >Total Fit</text><text x="211" y="51.1" font-size="10.4" text-anchor="start" >Signal</text><text x="211" y="62.8" font-size="10.4" text-anchor="start" >Background</text><text x="211.0" y="74.50" font-size="10.4">10 &#215; B</text><text x="242.0" y="69.10" font-size="7">0</text><text x="241.6" y="77.30" font-size="7">d</text><path d="M246 71.70H255.2M252.9 69.70L255.5 71.70L252.9 73.70" stroke="#000" stroke-width="0.9" fill="none"/><text x="258.6" y="74.50" font-size="10.4">J/&#968; K</text><text x="284.0" y="70.30" font-size="7">*0</text><text x="211.0" y="86.20" font-size="10.4">10 &#215; &#923;</text><text x="242.6" y="89.60" font-size="7">B</text><path d="M248 82.90H257.5M255.2 80.90L257.8 82.90L255.2 84.90" stroke="#000" stroke-width="0.9" fill="none"/><text x="260.9" y="86.20" font-size="10.4">J/&#968; p K</text><text x="296.8" y="79.20" font-size="7">-</text><circle cx="580.7" cy="26.4" r="1.6"/><path d="M574.9 40.3H585.9" stroke="#ff0000" stroke-width="2"/><path d="M574.9 54.4H585.9" stroke="#ff00ff" stroke-width="1.7" stroke-dasharray="3 3"/><path d="M574.9 68.4H585.9" stroke="#0000ff" stroke-width="1.6" stroke-dasharray="2 1.6"/><path d="M574.9 82.2H585.9" stroke="#5a5aa0" stroke-width="1.4" stroke-dasharray="2.7 1.8 0.8 1.8"/><text x="588.6" y="29.1" font-size="10.4" text-anchor="start" >Data</text><text x="588.6" y="43" font-size="10.4" text-anchor="start" >Total Fit</text><text x="588.6" y="57.1" font-size="10.4" text-anchor="start" >Signal</text><text x="588.6" y="71.1" font-size="10.4" text-anchor="start" >Background</text><text x="588.6" y="84.9" font-size="10.4" text-anchor="start" >Prompt J/&#968;</text></g></svg>
</body></html>
